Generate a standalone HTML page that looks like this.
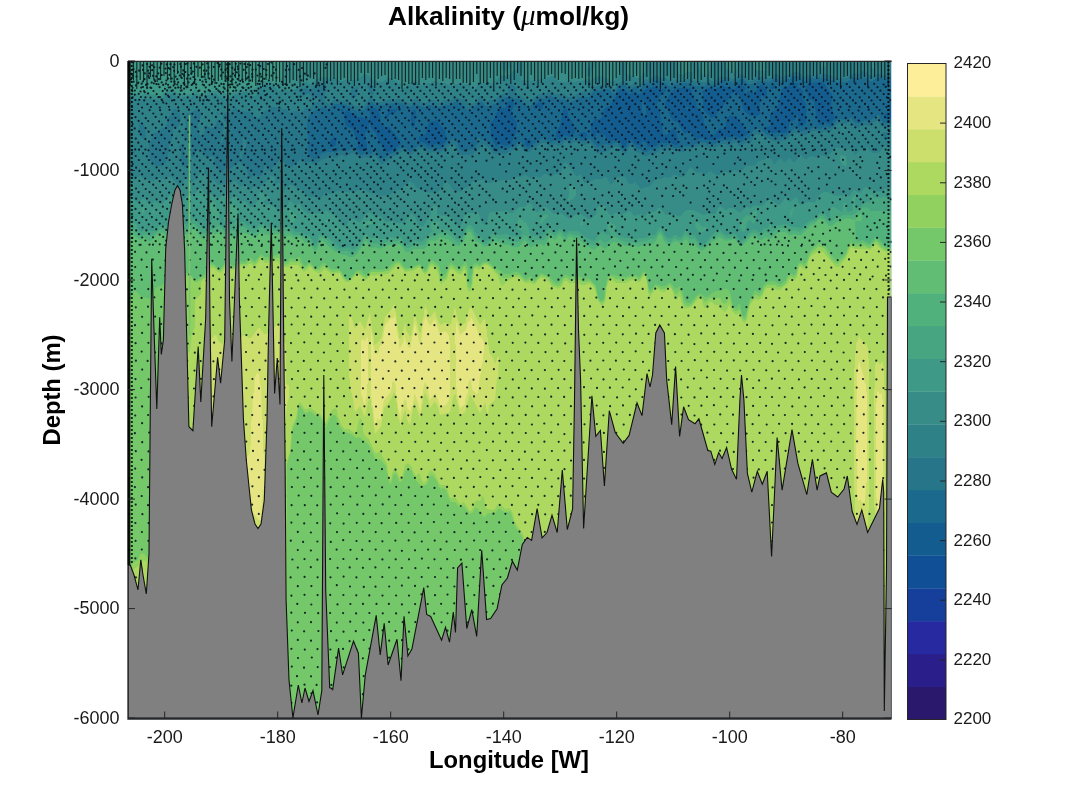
<!DOCTYPE html>
<html><head><meta charset="utf-8"><style>
html,body{margin:0;padding:0;background:#fff;}
svg{display:block;filter:blur(0.35px);}
.t{font-family:"Liberation Sans",sans-serif;font-size:18px;fill:#1a1a1a;}
.b{font-family:"Liberation Sans",sans-serif;font-size:23.8px;font-weight:bold;fill:#000;}
</style></head><body>
<svg width="1078" height="808" viewBox="0 0 1078 808">
<defs><clipPath id="pc"><rect x="128" y="61" width="763.5" height="658"/></clipPath></defs>
<g clip-path="url(#pc)">
<rect x="128" y="61" width="763.5" height="658" fill="#125c8f"/>
<path transform="translate(128 61)" fill="#1b698c" d="M505 53 505 56 506 56ZM559 45 558 48 560 49 560 46ZM514 39 514 51 517 56 518 54 518 45 516 40ZM0 0 0 657 763 657 763 57 757 58 756 57 756 54 758 52 761 54 761 44 763 41 763 0ZM397 83 397 81 399 78 401 78 404 81 401 85 399 85ZM206 75 208 78 208 83 206 86 203 86 202 85 202 81ZM450 74 452 72 457 71 460 75 457 77 454 77ZM309 58 312 64 317 69 318 80 314 84 310 84 309 83 300 84 295 81 292 81 291 80 291 76 294 73 295 74 298 73 298 70 301 61 302 60 307 60ZM287 49 288 50 288 53 287 54 287 65 285 67 283 64 283 55 284 54 284 50ZM219 49 223 52 227 53 229 56 234 56 237 58 239 58 241 60 241 68 237 72 237 79 239 82 239 88 238 89 233 90 230 88 229 86 230 85 229 77 227 75 225 69 223 67 219 66 217 63 216 53ZM212 49 215 48 216 50 214 51ZM438 47 440 51 440 55 445 62 447 71 443 76 437 74 431 79 427 75 428 74 428 71 432 65 435 49ZM268 48 269 47 270 48 269 49ZM269 50 265 53 261 54 259 58 257 57 257 55 260 52 260 48 261 47 262 48 268 48ZM244 46 250 49 252 54 253 62 257 66 261 66 271 78 273 83 267 88 259 91 251 81 248 72 243 67 241 57 242 56 242 49ZM415 43 415 46 413 49 410 47 407 48 405 46 410 42 413 41ZM385 41 386 44 384 49 384 54 389 62 388 72 383 83 378 85 372 83 368 85 363 75 362 62 367 57 368 52 374 47 377 47 379 44 379 42 381 40ZM537 41 540 37 542 31 550 27 562 27 564 29 564 35 568 39 569 47 574 51 576 62 581 72 585 75 591 68 597 67 599 57 602 54 608 56 612 60 618 70 621 72 613 77 611 77 606 74 601 77 600 76 595 76 586 79 579 79 575 77 572 77 569 79 562 71 560 71 557 73 555 71 550 61 546 60 543 57 541 51 537 45ZM551 82 549 84 546 84 542 80 540 80 538 82 535 82 533 80 533 81 528 85 522 85 520 86 518 82 514 80 512 84 509 84 507 83 504 79 502 79 499 82 498 85 496 86 491 79 487 78 484 80 481 80 478 77 477 74 473 75 471 72 469 72 467 76 465 77 463 75 463 65 466 58 472 58 474 56 477 47 482 45 483 42 487 38 489 32 493 28 497 29 501 33 503 33 505 31 508 31 509 33 512 33 518 28 525 26 529 26 531 28 537 28 538 30 532 35 529 42 529 45 532 52 535 74 540 73 542 70 546 67 549 71 549 75ZM648 25 646 28 644 28 642 26 647 24ZM639 28 639 35 637 37 636 37 634 34 633 35 633 39 632 40 632 53 629 55 622 55 616 50 612 35 607 31 604 32 601 38 596 43 595 46 590 51 587 56 583 57 575 48 575 32 574 31 576 29 581 27 588 28 594 24 598 26 602 26 605 28 607 28 611 23 613 23 618 27 616 30 617 35 620 30 626 32 630 28 630 26 633 24 636 25ZM669 22 670 23 669 26 670 27 673 27 675 30 676 40 678 43 678 48 679 50 678 51 678 60 677 63 675 65 672 65 671 66 670 65 670 54 669 54 667 59 662 61 660 69 658 72 653 72 652 71 644 72 641 71 637 67 642 65 642 54 644 51 648 49 650 45 654 28 657 25 661 26 660 24 662 22ZM682 22 695 21 698 24 699 28 704 33 703 45 707 57 702 63 696 61 692 64 690 62 686 41 685 39 682 39 680 37 679 29 677 26Z"/>
<path transform="translate(128 61)" fill="#277589" d="M0 0 0 657 763 657 763 61 762 62 756 62 753 59 751 54 749 54 743 59 740 60 737 59 732 62 728 62 723 57 721 57 718 59 711 58 709 59 702 67 697 65 693 68 691 68 687 65 682 69 677 69 676 70 672 70 667 67 657 76 654 75 645 76 638 73 632 68 628 68 625 70 621 78 617 78 614 81 611 81 608 78 605 78 602 81 597 79 586 83 580 83 577 81 571 81 563 85 556 85 552 87 546 87 543 84 540 84 538 86 532 85 527 89 521 89 519 91 516 91 512 88 509 88 504 82 502 82 497 89 495 89 490 82 486 82 483 84 476 83 469 86 462 78 458 80 453 80 447 76 442 80 437 77 432 82 427 79 422 82 416 77 410 80 401 88 398 88 395 85 394 82 391 80 387 85 383 86 378 89 375 89 374 88 366 89 357 79 353 79 351 76 350 76 349 79 350 82 345 88 334 90 331 87 329 81 326 78 324 78 313 88 309 88 308 87 301 88 295 85 290 85 282 91 276 86 271 88 268 91 262 93 256 98 252 97 247 89 246 89 243 93 237 92 234 94 232 94 227 88 223 88 219 90 211 89 207 92 206 91 198 91 197 92 194 92 188 98 186 98 182 96 180 93 180 74 179 73 179 61 181 55 187 49 189 49 194 46 200 48 206 43 215 43 221 45 226 49 229 50 230 49 236 49 242 41 244 41 247 44 257 44 258 43 273 42 280 46 282 46 286 43 295 46 298 46 301 44 305 44 308 46 312 46 317 44 322 44 326 41 330 41 334 43 340 50 342 50 352 41 354 41 357 45 361 45 367 43 373 38 379 36 384 36 387 38 391 38 397 44 401 46 411 37 418 38 422 34 427 38 438 39 440 41 443 41 453 36 461 36 467 29 473 30 476 28 480 28 482 29 485 33 487 33 489 28 493 24 497 24 502 29 506 26 512 28 517 23 523 22 528 19 537 22 541 25 544 25 547 23 554 23 555 22 562 22 567 25 577 25 580 23 588 24 593 19 607 22 611 18 615 18 620 23 626 23 631 20 642 21 648 17 652 20 654 20 658 18 661 18 666 15 670 15 676 20 678 20 682 17 688 18 691 16 693 17 698 17 701 19 704 19 708 21 711 21 712 20 714 21 719 21 726 16 732 18 738 17 741 20 744 20 749 17 754 17 757 19 763 15 763 0Z"/>
<path transform="translate(128 61)" fill="#2f8188" d="M0 0 0 657 763 657 763 65 760 67 755 66 750 60 748 60 740 65 737 64 729 67 727 67 722 61 720 61 718 63 711 62 709 63 702 71 696 70 694 72 691 72 689 70 685 70 677 74 670 72 666 72 658 79 646 80 633 74 628 73 625 76 625 78 622 83 617 82 614 85 611 85 607 81 602 85 600 85 598 83 595 83 586 87 582 87 576 84 573 84 569 86 566 86 561 89 558 89 555 91 546 90 543 88 540 88 537 90 533 88 527 93 522 93 519 95 516 95 513 92 508 91 503 85 501 86 499 91 497 93 496 93 489 85 485 86 480 90 469 92 463 82 460 82 457 84 455 84 452 82 446 81 444 83 441 83 438 80 436 81 434 85 433 84 430 85 427 83 424 86 421 86 418 82 414 82 401 91 397 91 395 89 393 84 391 84 387 89 382 90 378 93 375 93 374 92 366 93 361 87 356 83 345 93 342 94 332 94 329 91 329 88 327 84 324 83 312 92 308 92 307 91 301 92 294 88 291 88 282 95 280 94 278 91 275 90 267 95 263 96 258 101 254 103 251 101 249 96 247 94 243 97 236 96 232 98 227 93 224 92 217 96 214 94 212 94 209 97 206 97 203 95 201 95 197 98 194 98 188 103 185 103 183 101 177 102 173 98 164 106 160 106 154 99 151 99 147 105 143 108 140 109 138 106 138 104 136 105 135 112 133 115 130 115 127 113 123 117 121 116 118 107 113 103 114 94 118 86 118 79 115 75 114 87 112 93 112 100 102 108 98 107 94 111 90 108 86 102 86 96 85 95 78 96 75 93 73 87 68 90 67 95 65 97 63 95 63 83 61 79 58 81 56 79 56 72 58 67 57 54 59 52 63 52 67 49 71 50 73 52 73 55 70 64 71 72 73 76 75 75 77 67 79 65 83 67 86 67 90 58 92 60 94 60 96 62 96 67 93 76 93 82 94 82 99 67 99 63 95 58 95 54 98 51 102 52 106 47 108 47 112 50 122 51 128 57 131 57 136 50 141 49 143 46 151 46 154 48 157 48 161 51 170 50 173 52 178 46 179 47 182 47 187 41 191 41 191 38 190 36 187 38 185 38 181 32 176 35 174 34 172 31 177 26 182 30 186 26 193 24 197 24 199 26 199 29 197 32 197 40 201 43 207 38 209 38 210 39 221 40 227 45 230 45 231 44 232 45 236 45 242 36 249 41 255 41 262 38 266 40 269 38 273 38 275 40 277 40 280 42 283 42 286 38 289 38 295 42 298 42 302 39 306 39 308 41 312 42 316 39 322 40 326 37 330 37 331 38 336 38 341 43 344 43 348 41 352 35 353 35 357 40 360 40 361 39 368 38 372 34 381 31 380 30 380 24 381 23 385 24 389 28 387 31 388 34 392 34 398 39 403 39 411 33 417 34 422 29 427 33 436 33 440 36 444 36 447 35 452 31 455 31 456 30 461 31 467 25 471 25 472 24 479 24 482 25 485 28 487 28 489 24 494 20 498 20 501 24 504 24 505 23 512 24 517 19 522 18 528 14 533 17 538 17 543 21 548 19 554 20 557 18 563 18 566 20 572 20 573 21 579 21 582 19 587 21 590 17 593 15 594 16 601 16 604 18 607 18 611 14 615 13 621 20 624 20 627 17 630 16 635 16 640 18 643 17 647 13 649 13 654 16 658 14 662 14 666 11 670 11 676 16 680 14 688 15 690 13 699 13 709 17 718 17 726 12 730 13 734 10 738 11 743 15 748 13 753 13 757 15 763 10 763 0ZM53 83 56 85 56 95 58 96 62 101 58 106 56 106 53 104 53 91 51 85ZM756 71 759 72 759 76 757 78 755 77 755 72ZM12 61 15 62 17 67 17 71 18 72 18 78 17 79 15 78 11 72 11 62ZM89 53 90 52 91 53 90 54ZM88 52 89 51 90 52 89 53ZM48 48 52 53 52 56 53 57 52 63 49 66 46 66 45 68 45 75 41 85 40 97 38 101 34 105 28 105 26 104 22 99 21 82 23 80 24 74 26 72 30 71 34 67 37 67 39 62 39 57 43 54 44 50 46 48ZM230 26 231 27 229 30 228 35 225 39 223 37 223 29 225 27ZM240 24 243 24 246 27 246 33 244 35 241 31 241 28 239 25Z"/>
<path transform="translate(128 61)" fill="#388c87" d="M283 113 282 113 282 118 283 117ZM763 88 761 88 757 85 752 91 750 92 744 92 739 87 736 87 732 89 727 94 723 88 716 89 714 87 707 87 703 92 698 96 691 94 687 96 683 95 679 98 677 98 673 94 671 94 669 99 667 101 665 101 663 98 661 97 657 102 653 98 651 98 647 103 646 103 643 98 640 96 636 99 631 100 626 105 618 105 612 112 608 109 606 109 602 113 599 111 595 111 591 114 588 114 582 110 577 114 572 111 568 112 565 108 562 106 556 116 551 116 548 114 545 114 542 117 537 116 534 118 528 118 521 126 517 126 513 128 507 121 504 123 501 123 497 116 491 116 490 115 484 123 482 123 479 117 477 116 474 118 468 118 457 122 455 120 453 114 452 113 450 115 448 115 438 101 436 102 433 111 431 113 427 113 423 116 418 113 416 113 412 117 408 115 402 117 398 114 396 114 393 116 388 116 383 119 373 119 372 120 367 120 363 122 359 122 355 119 351 119 350 120 345 120 340 126 337 127 333 131 325 129 319 120 316 122 316 124 309 132 297 131 288 126 286 123 282 120 272 129 268 129 262 134 251 135 249 133 242 132 237 129 232 128 226 131 209 130 203 133 197 132 192 138 190 138 187 136 181 136 172 128 168 127 164 124 162 124 159 126 156 130 153 127 152 122 150 122 146 126 144 124 147 120 147 117 145 115 143 115 140 119 131 127 126 126 123 129 120 128 117 122 112 126 108 120 106 120 102 124 98 124 97 123 90 124 86 119 82 118 76 112 76 108 74 108 74 112 72 113 65 121 61 120 59 117 57 117 54 124 52 126 43 116 40 116 37 119 31 117 26 120 24 120 23 119 17 119 12 115 7 119 4 116 0 115 0 657 763 657ZM713 66 715 69 717 69 719 67 719 66 716 68ZM743 0 743 7 746 8 747 7 747 0ZM693 0 692 5 697 6 698 5 698 0ZM626 0 626 8 627 9 639 10 638 0ZM598 0 598 7 605 12 609 8 610 0ZM570 0 570 4 572 8 572 11 575 14 579 14 582 9 583 0ZM550 0 550 10 552 14 554 14 559 11 565 11 563 0ZM499 0 500 3 499 4 499 8 497 11 502 15 506 15 508 17 511 17 517 11 517 0ZM393 19 408 20 412 18 418 18 423 15 425 15 431 21 438 21 442 19 445 21 448 21 449 20 454 20 458 18 463 19 470 15 473 15 484 20 486 20 492 14 492 11 491 10 491 0 467 0 467 5 463 10 463 13 461 16 459 14 459 8 462 5 462 0 395 0 395 9 394 10ZM0 37 4 37 5 38 28 38 32 40 37 35 43 33 46 33 51 37 54 37 55 36 62 37 66 33 68 33 71 37 73 38 80 34 83 34 84 33 88 33 93 37 96 36 102 37 107 33 111 34 115 31 119 31 123 35 127 35 129 33 131 28 134 25 137 24 145 25 151 30 155 30 156 29 164 30 169 27 175 21 179 21 181 23 183 23 191 17 198 16 201 18 203 18 207 16 213 21 216 19 227 19 230 18 236 13 241 15 245 19 251 21 254 21 261 17 263 17 275 25 273 28 273 31 274 32 275 27 278 26 280 23 284 20 289 20 294 25 297 22 303 22 306 20 308 20 311 22 317 22 322 25 327 23 340 23 345 29 347 29 348 26 352 22 360 22 361 21 365 23 373 14 376 15 382 14 385 10 390 8 390 0 382 0 382 6 378 10 376 10 374 8 374 0 0 0Z"/>
<path transform="translate(128 61)" fill="#3e9986" d="M763 127 762 128 757 128 754 130 748 131 738 126 736 127 732 132 726 129 721 135 718 134 707 135 700 131 696 131 692 133 687 141 685 142 684 141 679 141 673 144 670 141 670 139 668 136 662 141 657 137 652 144 650 144 643 139 640 139 634 145 627 144 622 147 618 145 612 152 605 147 601 147 599 149 597 149 593 145 590 147 587 153 579 153 576 154 565 149 559 149 557 150 552 156 548 154 538 154 532 147 530 147 527 151 525 151 522 149 517 155 513 153 506 155 503 151 501 150 494 154 492 154 490 152 487 152 485 154 482 154 480 152 477 145 471 145 469 148 468 153 463 158 460 158 453 153 448 153 444 157 441 158 433 152 426 153 418 146 415 146 410 151 408 151 406 149 404 144 401 142 397 146 392 146 390 147 385 152 382 152 379 150 363 151 361 153 359 161 357 164 354 162 350 151 347 152 338 152 335 157 334 162 331 166 328 164 326 159 324 157 319 155 310 154 309 153 309 147 307 144 303 147 303 154 295 165 292 165 290 163 287 156 283 152 280 157 276 161 274 162 267 162 264 160 257 161 253 155 247 156 241 151 242 149 241 148 241 151 236 155 235 158 232 161 230 161 227 158 223 158 220 161 219 164 216 166 213 163 212 159 208 154 204 153 198 149 193 153 190 152 180 153 175 149 172 143 170 143 167 145 163 140 161 141 160 144 154 150 152 150 141 143 138 144 135 141 142 135 138 135 134 131 132 131 130 133 131 138 125 146 122 146 117 140 112 140 107 134 106 134 103 138 101 138 97 134 95 134 90 138 83 133 78 134 73 128 71 128 66 134 59 135 54 141 52 141 46 133 43 133 34 143 32 143 27 140 22 144 17 138 14 138 11 141 9 141 0 135 0 657 763 657ZM443 124 441 125 441 135 439 141 445 138 448 134 448 127ZM2 122 0 122 0 133 1 133 2 130 4 129 6 126 5 124ZM396 121 396 123 397 123 397 121ZM713 94 712 95 712 100 716 105 718 105 719 103 718 95ZM0 31 2 31 5 33 11 33 12 34 15 33 27 34 30 36 32 36 37 31 41 29 45 29 51 33 62 33 66 29 68 29 72 33 75 33 80 30 89 30 92 32 98 32 101 34 106 30 112 29 118 25 124 28 126 28 133 20 145 20 150 23 154 15 154 0 137 0 137 6 134 10 132 9 131 0 0 0Z"/>
<path transform="translate(128 61)" fill="#47a582" d="M207 164 207 168 210 171 214 172ZM453 160 453 165 454 165 455 162ZM235 166 241 163 249 163 253 165 253 164 251 162 250 163 246 163 242 160 240 160 236 163ZM568 159 567 165 571 171 575 171 578 168 579 164 577 166 574 166ZM196 159 198 161 201 160 201 159ZM418 153 415 155 412 160 413 164 415 160 420 155ZM628 150 626 150 621 155 618 154 612 161 612 166 614 170 616 171 617 170 619 162 621 159 622 159 625 163 626 162 629 153ZM162 149 161 150 162 160 163 161 166 161 169 155ZM26 149 25 150 25 153 26 153ZM666 147 664 148 662 152 662 156 663 156ZM16 146 14 148 14 152 15 153 17 148ZM44 141 43 144 46 145 47 141ZM71 135 71 136 74 138 73 136ZM763 138 761 139 758 136 747 137 741 132 742 140 736 142 732 146 727 146 726 145 727 144 727 137 728 136 727 134 724 137 724 145 725 146 725 149 724 150 720 151 719 150 718 142 716 142 715 144 715 150 714 151 706 146 704 146 702 149 702 156 701 157 696 152 692 152 686 158 682 159 673 167 661 165 659 163 650 164 644 167 643 166 643 163 642 163 640 167 636 167 633 171 631 171 627 168 624 169 613 180 607 173 598 174 591 168 585 173 576 183 572 183 568 176 566 174 563 174 559 170 557 170 553 176 550 176 548 174 546 174 543 177 540 177 536 173 533 167 531 167 527 174 522 174 518 177 511 177 507 179 503 177 497 177 491 175 487 171 488 170 488 166 487 164 481 161 479 167 483 173 482 174 479 174 474 170 466 180 457 176 450 170 441 170 437 172 433 168 431 168 428 171 426 171 421 167 419 168 416 173 413 175 404 175 401 172 401 167 398 162 393 158 391 158 390 160 390 168 395 171 391 176 388 176 387 175 385 176 378 173 371 174 365 172 363 173 358 180 356 180 352 175 347 171 345 166 343 164 340 164 338 166 335 174 331 178 329 178 321 169 317 169 316 168 311 168 310 169 309 167 312 161 305 161 303 162 302 166 303 168 306 170 303 171 299 176 293 181 286 179 284 181 279 183 276 181 273 176 268 176 267 177 262 176 258 178 250 178 249 177 243 177 238 173 235 176 231 183 226 188 224 188 222 186 212 187 200 176 198 176 194 173 191 174 189 181 187 183 181 174 178 174 173 171 168 171 161 166 149 167 148 166 140 166 134 163 132 163 128 167 124 168 122 164 120 165 116 161 110 161 109 160 110 159 110 149 109 146 105 144 101 144 96 157 96 160 98 160 101 158 108 160 98 167 95 165 91 159 91 153 88 146 88 143 84 140 82 140 81 146 85 157 83 160 83 163 78 168 76 168 67 158 65 158 59 163 52 162 47 168 41 165 33 164 31 165 27 170 16 169 13 171 9 168 9 164 7 162 0 159 0 657 763 657ZM741 141 742 140 743 141 742 142ZM37 27 35 26 33 30ZM105 20 104 20 102 24 102 28 103 29 105 27ZM42 14 41 17 42 17ZM78 0 72 0 72 12 74 15 77 11Z"/>
<path transform="translate(128 61)" fill="#50b17c" d="M763 151 761 150 743 150 740 147 736 146 725 154 715 154 712 156 708 156 703 161 701 161 695 155 692 155 687 160 683 161 672 171 666 169 665 170 662 170 658 167 653 167 648 169 643 173 637 171 633 175 631 175 628 172 624 172 613 183 609 179 607 175 605 175 602 177 598 177 591 172 587 176 584 177 576 186 572 186 567 178 562 178 558 174 557 174 553 179 550 179 547 177 545 178 543 181 541 181 537 178 533 170 530 172 529 175 526 178 522 178 519 180 511 181 510 182 497 181 490 178 488 176 486 176 477 182 472 178 467 184 465 184 457 180 450 174 446 174 442 172 437 176 433 171 431 171 427 175 423 172 421 172 416 179 406 179 403 181 400 178 399 175 397 174 391 181 384 181 377 178 371 178 366 176 364 177 359 183 356 183 346 174 345 170 341 167 339 168 334 179 330 182 320 173 316 173 315 172 311 172 307 175 301 176 296 184 286 184 281 187 278 187 272 179 269 180 261 180 254 183 250 183 249 182 243 182 239 177 237 177 230 188 226 192 223 192 220 190 212 190 208 188 199 179 194 176 191 178 190 183 187 187 181 177 178 178 173 174 166 174 161 170 148 170 147 169 146 170 139 170 134 167 132 167 127 172 124 172 116 166 112 166 107 170 102 169 99 171 97 171 92 165 90 165 86 168 81 169 76 173 72 170 67 163 64 163 59 168 56 168 52 166 47 172 45 172 40 169 32 168 28 172 23 175 21 175 18 173 12 175 4 167 0 167 0 657 763 657Z"/>
<path transform="translate(128 61)" fill="#61bd73" d="M759 156 760 158 763 160 763 156ZM763 184 762 185 757 184 749 176 747 176 742 182 740 182 735 179 730 180 728 178 727 161 728 160 733 160 734 158 733 152 727 159 718 157 711 161 708 161 704 165 701 165 695 158 691 158 686 163 683 164 673 174 669 174 668 173 661 174 658 171 652 171 642 178 637 176 634 179 631 179 627 175 624 175 614 185 612 185 607 178 598 180 591 176 588 179 583 181 581 184 574 190 569 186 567 182 562 183 558 178 553 182 547 180 541 185 536 180 534 175 532 173 530 175 528 180 525 183 518 183 511 186 508 185 497 185 493 182 485 181 477 188 472 184 466 189 456 183 450 178 447 178 442 175 438 179 436 179 432 174 431 174 427 179 422 176 416 185 413 183 408 183 404 186 402 186 398 180 396 180 391 186 384 186 381 184 374 183 371 181 366 180 361 185 356 186 352 182 347 180 343 171 340 171 335 181 331 185 326 184 320 178 317 178 312 176 307 180 302 179 299 185 296 188 286 188 281 191 278 191 272 183 260 184 251 188 248 186 243 187 240 184 239 181 237 180 229 193 225 196 221 196 218 194 212 193 206 190 195 180 192 180 189 189 186 190 182 181 177 182 172 176 167 178 162 174 157 176 153 173 138 174 135 172 132 172 127 177 122 174 116 172 112 172 108 177 106 177 102 174 97 175 92 171 90 171 88 173 82 172 77 177 74 177 70 173 68 169 65 168 63 171 60 173 56 173 54 171 51 171 51 172 46 176 42 174 38 174 35 172 32 172 28 174 22 181 17 177 15 177 12 179 6 174 0 174 0 657 763 657Z"/>
<path transform="translate(128 61)" fill="#74c869" d="M763 187 758 187 756 186 748 178 743 184 739 184 736 182 726 183 723 181 721 183 718 192 714 196 708 199 703 194 699 187 695 183 691 182 683 189 680 195 679 200 676 203 674 201 671 202 669 206 668 212 666 214 662 212 660 214 658 219 653 223 651 223 646 220 639 221 635 225 634 229 631 232 627 229 621 240 619 251 616 256 614 253 612 243 611 243 608 247 606 246 604 242 603 234 600 228 596 228 594 230 587 230 579 236 577 236 572 232 570 233 562 242 559 242 556 238 555 232 552 225 547 228 543 222 541 222 537 225 533 225 527 223 525 227 522 229 520 224 519 214 517 210 515 211 512 216 510 216 508 214 502 214 499 216 494 216 493 215 489 215 483 213 479 218 478 225 477 226 476 237 475 239 473 240 470 236 468 225 461 217 456 218 453 216 442 216 439 214 437 214 430 222 428 222 423 218 421 214 417 214 413 212 407 219 402 215 398 218 390 211 387 211 382 213 376 213 372 209 367 207 360 201 355 201 352 204 347 202 345 204 344 214 343 215 343 221 342 222 340 221 340 207 338 201 337 201 332 207 330 207 324 202 322 202 320 205 319 210 316 214 313 211 311 204 304 199 302 200 299 207 297 209 292 203 280 207 277 207 272 200 268 200 259 207 253 209 244 208 237 214 233 209 230 209 228 210 221 218 219 218 216 216 215 213 211 208 203 208 197 202 195 202 191 206 188 207 186 206 182 201 177 205 174 202 172 196 170 196 168 198 162 197 159 201 156 201 151 193 142 196 137 196 133 193 127 200 122 196 117 201 114 201 113 200 106 205 100 202 97 202 93 207 90 207 86 203 82 202 77 213 68 219 65 217 62 212 58 212 50 220 47 221 43 225 40 225 36 222 33 225 29 226 27 228 24 235 21 238 14 236 8 230 6 230 3 237 2 243 0 245 0 657 763 657Z"/>
<path transform="translate(128 61)" fill="#91d160" d="M763 189 758 189 753 186 749 181 747 181 742 187 740 187 737 185 727 186 725 184 722 184 717 196 709 203 704 199 697 188 694 186 690 186 683 192 677 206 673 203 671 204 669 213 666 217 662 215 660 217 658 222 653 226 650 226 647 224 639 224 636 227 634 233 631 236 629 234 627 234 622 241 619 251 619 255 617 259 614 257 612 248 609 250 607 250 605 248 601 235 599 241 597 243 594 241 592 237 589 237 588 238 582 237 577 241 573 235 570 235 564 243 561 245 558 245 555 241 555 238 552 230 551 230 548 234 542 224 537 228 533 228 528 225 525 228 525 230 522 232 520 228 520 223 519 222 518 214 516 212 511 219 507 216 501 217 498 219 487 218 485 216 482 216 479 221 479 224 478 225 477 238 474 242 471 240 469 235 468 228 466 224 462 220 455 221 452 219 441 219 439 217 436 217 433 223 431 225 426 224 422 220 421 217 413 214 407 221 405 221 402 218 399 220 397 220 391 214 385 214 380 217 375 217 362 204 358 202 355 203 352 206 349 205 346 206 345 208 345 213 344 214 344 223 342 227 340 226 340 223 339 222 339 210 337 205 336 205 333 210 330 210 324 205 322 205 318 216 316 218 314 218 312 216 310 207 304 202 302 203 298 211 296 211 292 205 290 205 284 208 277 209 271 202 269 202 260 210 257 210 256 211 243 211 238 217 230 211 228 212 222 219 219 220 215 216 212 210 204 211 197 205 195 205 191 209 188 209 186 208 182 203 176 208 171 200 169 201 164 201 163 200 160 203 156 204 151 197 146 197 141 199 137 199 134 196 132 196 127 203 122 199 118 203 111 203 106 207 104 207 98 204 96 205 92 210 86 205 83 204 81 206 81 208 77 216 69 221 67 221 62 215 59 215 51 223 48 224 44 228 44 237 42 242 42 259 41 260 41 281 42 284 40 289 40 428 42 431 42 490 36 503 34 505 31 505 26 499 22 499 16 493 13 492 10 499 5 502 2 507 0 508 0 657 159 657 159 403 163 389 164 370 169 357 170 348 172 344 177 352 179 352 182 350 188 355 191 355 193 357 197 366 198 366 202 357 205 354 207 354 209 357 210 362 215 370 223 373 228 377 232 376 234 379 236 379 241 384 247 397 249 399 252 398 258 405 259 412 260 413 260 418 262 423 263 423 265 414 267 412 269 414 271 421 273 421 275 418 277 410 281 407 284 410 286 417 293 425 298 424 300 421 301 416 304 414 309 420 311 426 313 428 316 427 318 429 322 440 323 441 327 441 331 446 336 445 342 453 345 451 347 447 349 447 356 456 357 456 360 452 367 452 371 447 376 451 380 451 381 450 383 452 387 465 394 475 397 484 397 657 763 657Z"/>
<path transform="translate(128 61)" fill="#aed961" d="M763 191 762 192 761 191 758 191 754 189 749 184 747 184 742 189 739 188 727 188 723 186 718 197 711 206 708 206 695 191 691 190 683 195 680 201 680 204 677 209 672 205 670 209 669 216 666 220 662 218 659 223 652 229 649 229 645 227 639 227 637 229 634 236 631 239 628 238 626 239 622 244 619 258 617 262 614 260 613 255 611 252 608 254 604 250 602 244 600 245 600 247 597 251 593 248 591 244 587 244 584 241 582 241 580 243 580 245 577 247 575 244 574 239 571 237 563 246 557 248 555 246 552 236 551 235 549 239 546 237 545 231 543 227 540 227 537 231 534 231 529 228 527 228 522 236 520 232 519 221 517 215 515 216 512 221 510 221 508 219 504 219 497 222 488 222 483 218 481 220 479 225 477 241 475 244 473 244 469 238 469 235 466 226 461 222 457 224 453 224 449 222 444 222 442 223 439 220 436 220 434 225 430 228 427 226 424 226 421 221 416 217 412 217 407 223 405 223 402 221 401 222 397 222 392 217 387 216 381 219 374 225 372 222 370 215 364 208 359 204 356 204 351 209 348 207 346 209 344 227 342 231 340 230 339 227 337 209 336 209 333 213 330 213 326 209 322 208 319 218 313 223 311 220 311 216 309 209 304 205 302 206 300 211 297 214 292 207 290 207 285 210 277 211 274 207 270 204 260 213 248 214 247 215 243 214 237 220 232 214 228 214 221 221 218 221 215 218 212 212 203 213 197 208 192 212 190 212 186 210 183 206 181 206 180 208 176 211 170 204 163 204 160 206 154 206 149 200 137 202 134 199 132 199 127 206 123 203 121 203 118 206 112 205 106 209 97 207 93 212 90 211 86 207 83 207 81 209 81 211 78 217 73 221 73 233 67 239 67 266 64 273 62 290 59 293 59 417 62 414 66 414 67 415 67 493 66 494 62 491 57 494 53 488 51 487 48 495 46 497 43 497 39 505 34 510 30 509 26 504 23 504 18 500 15 499 12 504 6 508 4 514 0 517 0 657 142 657 142 486 145 477 145 473 146 472 146 468 147 467 147 463 148 462 148 458 150 452 151 438 156 421 158 403 162 390 164 365 168 357 170 344 172 341 177 348 183 347 189 352 191 352 194 355 197 361 198 361 204 349 207 347 209 349 210 355 214 365 217 368 221 368 226 372 227 372 229 369 230 361 232 357 234 359 235 370 237 375 241 378 246 390 248 392 252 391 259 403 260 413 262 419 263 419 264 412 267 406 272 418 274 416 277 404 280 402 284 406 285 410 288 415 291 412 292 413 294 420 296 422 299 419 300 413 303 409 307 413 311 422 313 424 317 424 319 426 322 436 323 437 327 436 332 443 336 441 342 450 344 449 347 441 349 439 352 440 354 435 356 436 357 444 359 448 365 449 367 448 369 444 372 442 377 448 381 447 384 450 387 461 395 473 400 490 405 498 407 505 410 508 412 508 418 511 422 515 424 515 427 517 427 657 763 657Z"/>
<path transform="translate(128 61)" fill="#ccdf6d" d="M749 299 747 305 747 327 746 328 746 446 747 447 747 470 748 471 748 479 752 491 755 482 755 474 756 473 756 451 757 450 757 325 756 324 756 306 755 305 755 301 754 301 752 304ZM732 274 728 283 728 289 727 290 727 307 726 308 726 433 727 434 727 460 728 461 728 467 729 468 729 471 730 471 732 468 733 469 733 471 737 478 739 471 739 465 740 464 740 449 741 448 741 298 740 297 740 287 739 286 739 283 737 284 732 277ZM150 262 146 267 144 267 139 273 136 273 131 266 123 277 121 277 116 274 110 279 108 283 105 281 105 279 102 275 101 275 94 283 91 281 88 274 87 274 81 281 79 280 79 401 82 402 94 413 97 420 103 419 110 428 110 514 112 514 114 516 118 527 123 532 124 537 128 542 131 540 133 536 134 525 135 524 135 520 136 519 138 506 139 505 140 487 141 486 142 477 145 468 145 410 147 408 149 401 151 382 157 367 159 343 161 336 161 324 158 323 158 283 154 277 152 265ZM222 253 221 256 221 317 222 318 222 325 223 326 223 331 224 332 227 351 232 345 237 356 240 341 242 338 243 339 243 346 244 347 247 373 253 365 256 347 262 340 266 331 268 335 268 341 269 342 270 355 272 362 272 368 273 361 277 349 278 350 279 358 282 364 285 347 287 342 291 354 292 361 292 356 293 355 293 350 294 349 294 344 295 343 295 338 297 331 300 338 302 347 307 340 310 346 312 354 322 351 325 336 327 333 328 334 328 338 329 339 329 343 330 344 332 355 337 351 342 333 352 352 357 342 358 343 358 347 360 354 361 344 367 339 369 317 370 316 371 295 369 297 368 301 367 302 366 301 366 299 361 291 361 285 360 284 360 277 359 276 359 269 358 268 357 257 352 264 344 248 342 246 338 258 338 261 332 266 331 265 331 261 330 260 327 246 323 263 322 264 319 262 317 262 312 264 308 255 307 250 302 257 301 256 297 243 297 248 296 249 296 254 294 260 293 271 292 272 291 271 287 252 283 275 282 276 278 269 277 261 275 271 272 278 271 277 271 271 270 270 268 251 267 250 267 245 266 243 263 249 257 256 254 275 251 280 247 284 246 283 246 277 244 270 242 251 237 269 232 260 227 267 226 266 224 257Z"/>
<path transform="translate(128 61)" fill="#e5e681" d="M750 330 749 331 749 341 748 342 748 437 749 438 749 452 750 453 750 458 752 462 754 455 754 445 755 444 755 339 754 338 754 332 752 333ZM129 312 127 316 126 332 125 333 124 359 123 360 123 384 122 385 122 392 119 396 119 413 120 414 120 433 121 432 123 435 125 452 131 459 133 459 135 429 136 428 136 393 135 392 135 359 134 358 133 325 132 324 131 313ZM732 300 730 304 730 309 729 310 728 401 729 402 729 436 730 437 730 440 731 440 732 438 734 441 736 442 737 441 738 422 739 421 739 332 738 331 738 324 736 320 736 316 732 304ZM239 272 238 279 237 280 234 278 233 280 233 332 237 346 238 337 239 336 239 323 240 322 240 277 239 276ZM343 256 342 260 340 261 338 269 332 274 328 260 328 272 327 273 327 283 328 284 328 327 329 328 329 334 330 335 332 347 337 343 337 340 340 331 340 323 342 318 343 319 344 328 349 333 350 332 352 314 353 313 353 307 355 300 355 293 356 292 356 282 354 277 351 276 349 268ZM297 253 297 258 295 264 293 281 292 282 291 281 287 261 285 274 284 275 284 280 283 281 283 286 281 287 279 284 277 277 277 273 275 282 272 287 271 286 271 279 269 272 267 254 265 258 263 257 257 264 254 283 251 287 251 291 249 294 248 292 247 293 246 292 246 286 245 285 243 267 243 336 244 337 244 344 245 345 247 366 249 358 250 357 251 360 253 357 256 339 262 332 264 326 264 322 266 319 268 326 268 333 269 334 270 347 272 354 272 360 273 350 277 337 279 342 279 346 282 350 282 353 283 347 285 343 286 334 287 333 291 345 292 352 294 334 295 333 295 328 297 321 299 325 302 339 307 332 311 341 312 346 318 344 321 339 321 335 322 334 322 280 321 279 321 275 318 270 313 272 311 271 307 258 302 265 297 255Z"/>
<path d="M130.0 61v22M133.4 61v19M136.8 61v28M140.2 61v19M143.6 61v20M147.0 61v26M150.4 61v16M153.8 61v18M157.2 61v21M160.6 61v19M164.0 61v15M167.4 61v19M170.8 61v19M174.2 61v22M177.6 61v13M181.0 61v17M184.4 61v25M187.8 61v27M191.2 61v14M194.6 61v23M198.0 61v16M201.4 61v17M204.8 61v17M208.2 61v18M211.6 61v24M215.0 61v23M218.4 61v20M221.8 61v19M225.2 61v20M228.6 61v20M232.0 61v23M235.4 61v17M238.8 61v20M242.2 61v20M245.6 61v20M249.0 61v21M252.4 61v21M255.8 61v25M259.2 61v20M262.6 61v26M266.0 61v19M269.4 61v18M272.8 61v20M276.2 61v21M279.6 61v21M283.0 61v25M286.4 61v25M289.8 61v22M293.2 61v19M296.6 61v20M300.0 61v26M303.4 61v21M306.8 61v15M310.2 61v17M313.6 61v18M317.0 61v25M320.4 61v20M323.8 61v28M327.2 61v23M330.6 61v20M334.0 61v18M337.4 61v24M340.8 61v19M344.2 61v17M347.6 61v22M351.0 61v20M354.4 61v25M357.8 61v20M361.2 61v12M364.6 61v23M368.0 61v12M371.4 61v26M374.8 61v27M378.2 61v18M381.6 61v15M385.0 61v14M388.4 61v23M391.8 61v19M395.2 61v18M398.6 61v19M402.0 61v28M405.4 61v21M408.8 61v23M412.2 61v23M415.6 61v24M419.0 61v24M422.4 61v17M425.8 61v19M429.2 61v17M432.6 61v17M436.0 61v25M439.4 61v18M442.8 61v20M446.2 61v17M449.6 61v18M453.0 61v23M456.4 61v18M459.8 61v18M463.2 61v22M466.6 61v22M470.0 61v23M473.4 61v21M476.8 61v13M480.2 61v23M483.6 61v22M487.0 61v24M490.4 61v17M493.8 61v28M497.2 61v15M500.6 61v23M504.0 61v20M507.4 61v18M510.8 61v23M514.2 61v19M517.6 61v12M521.0 61v15M524.4 61v22M527.8 61v28M531.2 61v14M534.6 61v20M538.0 61v26M541.4 61v22M544.8 61v18M548.2 61v14M551.6 61v13M555.0 61v17M558.4 61v19M561.8 61v12M565.2 61v13M568.6 61v21M572.0 61v18M575.4 61v17M578.8 61v18M582.2 61v17M585.6 61v24M589.0 61v27M592.4 61v28M595.8 61v23M599.2 61v23M602.6 61v26M606.0 61v27M609.4 61v26M612.8 61v25M616.2 61v17M619.6 61v14M623.0 61v24M626.4 61v20M629.8 61v20M633.2 61v16M636.6 61v15M640.0 61v26M643.4 61v22M646.8 61v16M650.2 61v22M653.6 61v21M657.0 61v22M660.4 61v28M663.8 61v20M667.2 61v15M670.6 61v20M674.0 61v17M677.4 61v22M680.8 61v21M684.2 61v21M687.6 61v18M691.0 61v22M694.4 61v18M697.8 61v22M701.2 61v19M704.6 61v16M708.0 61v22M711.4 61v17M714.8 61v26M718.2 61v22M721.6 61v22M725.0 61v20M728.4 61v20M731.8 61v12M735.2 61v25M738.6 61v17M742.0 61v24M745.4 61v17M748.8 61v19M752.2 61v19M755.6 61v16M759.0 61v19M762.4 61v22M765.8 61v18M769.2 61v15M772.6 61v18M776.0 61v21M779.4 61v25M782.8 61v23M786.2 61v21M789.6 61v16M793.0 61v24M796.4 61v20M799.8 61v19M803.2 61v24M806.6 61v22M810.0 61v22M813.4 61v15M816.8 61v18M820.2 61v13M823.6 61v21M827.0 61v20M830.4 61v24M833.8 61v21M837.2 61v19M840.6 61v28M844.0 61v16M847.4 61v15M850.8 61v18M854.2 61v22M857.6 61v19M861.0 61v18M864.4 61v16M867.8 61v26M871.2 61v18M874.6 61v16M878.0 61v20M881.4 61v17M884.8 61v19M888.2 61v25" stroke="#000" stroke-width="1.1" fill="none" opacity="0.75"/>
<path d="M129.5 83.9h0M138.1 83.2h0M147.4 83.9h0M156.4 84.1h0M165.9 83.7h0M174.7 83.9h0M184.4 84.2h0M193.0 83.7h0M202.8 84.5h0M211.8 83.8h0M221.3 83.9h0M230.4 84.5h0M239.6 84.0h0M248.8 83.8h0M257.7 83.8h0M266.9 83.9h0M276.1 83.9h0M285.4 84.0h0M294.7 84.4h0M303.3 84.4h0M312.9 83.6h0M322.1 84.0h0M331.7 83.7h0M340.7 84.0h0M349.3 83.6h0M359.2 84.2h0M368.5 84.2h0M377.5 84.0h0M387.0 83.7h0M395.8 84.1h0M404.5 84.4h0M414.0 84.0h0M424.0 83.8h0M432.4 84.5h0M441.5 83.9h0M451.2 84.1h0M460.4 84.1h0M469.8 84.3h0M478.8 83.8h0M487.6 83.4h0M497.2 83.5h0M506.5 84.6h0M515.1 83.8h0M524.5 84.2h0M533.5 84.0h0M542.8 83.9h0M552.6 83.7h0M561.4 84.1h0M570.9 83.6h0M580.1 84.1h0M589.3 84.0h0M597.7 83.8h0M607.6 84.0h0M616.6 84.5h0M626.5 84.0h0M635.6 83.4h0M643.6 84.3h0M653.3 84.2h0M662.8 84.0h0M672.0 84.0h0M680.5 84.1h0M690.3 84.5h0M699.1 84.0h0M708.5 84.0h0M718.3 84.1h0M726.9 84.0h0M736.4 83.7h0M745.3 84.5h0M754.9 84.0h0M763.7 84.0h0M772.5 84.3h0M782.3 84.0h0M791.0 83.8h0M800.8 84.1h0M809.7 84.2h0M819.3 83.8h0M828.0 83.7h0M837.1 84.2h0M846.8 84.1h0M855.4 83.7h0M865.0 83.9h0M874.2 83.8h0M883.6 84.5h0M132.6 87.8h0M141.3 87.6h0M150.4 87.6h0M159.6 87.2h0M168.7 87.5h0M178.2 87.4h0M187.0 87.3h0M196.1 87.7h0M205.7 87.4h0M214.9 86.8h0M223.7 87.3h0M233.7 87.0h0M242.3 87.3h0M251.2 86.8h0M260.8 87.3h0M270.0 87.8h0M279.3 87.4h0M289.0 87.8h0M297.2 87.2h0M307.2 86.9h0M315.8 86.9h0M324.9 87.0h0M334.6 87.7h0M344.2 87.3h0M352.3 87.3h0M362.0 87.4h0M371.3 86.8h0M380.6 86.7h0M389.5 87.4h0M399.0 87.8h0M407.4 87.4h0M417.5 87.2h0M426.7 87.0h0M435.9 87.5h0M444.6 87.1h0M454.0 87.1h0M463.6 87.4h0M472.9 87.7h0M481.7 87.2h0M490.6 87.1h0M499.9 87.4h0M509.0 87.3h0M518.6 87.2h0M527.6 87.7h0M537.4 87.1h0M546.0 87.2h0M555.2 87.8h0M564.7 87.7h0M574.2 87.2h0M582.8 87.3h0M592.4 87.3h0M601.5 87.7h0M610.8 87.4h0M619.5 86.8h0M629.2 87.4h0M637.8 87.1h0M647.2 86.8h0M656.6 87.1h0M665.6 87.5h0M674.9 87.5h0M684.2 87.3h0M693.3 87.9h0M702.4 87.8h0M711.4 87.5h0M721.0 87.1h0M729.3 87.8h0M739.0 87.0h0M748.5 87.3h0M757.8 87.2h0M766.5 87.6h0M775.8 87.4h0M785.5 87.7h0M794.4 87.2h0M803.6 86.7h0M812.7 87.0h0M821.8 87.4h0M831.2 87.8h0M840.9 86.7h0M849.7 87.0h0M859.1 87.3h0M868.4 87.4h0M877.5 87.2h0M885.7 86.9h0M134.9 90.5h0M144.1 91.1h0M153.5 91.0h0M162.7 91.1h0M171.6 90.8h0M180.8 90.7h0M190.9 90.1h0M199.3 90.7h0M208.7 90.2h0M218.3 90.6h0M227.6 90.7h0M236.1 90.5h0M246.0 90.2h0M254.7 90.8h0M264.3 90.8h0M272.8 91.2h0M282.4 90.6h0M291.6 90.5h0M300.5 90.5h0M310.4 90.2h0M318.5 90.8h0M328.5 90.8h0M338.1 90.4h0M346.9 90.8h0M356.4 90.9h0M364.9 90.2h0M374.3 90.1h0M383.9 90.5h0M392.7 90.3h0M402.5 90.7h0M411.1 90.8h0M420.4 90.8h0M430.0 90.5h0M439.0 90.7h0M448.3 90.8h0M457.2 90.4h0M466.5 90.3h0M475.8 90.6h0M485.0 90.4h0M493.8 90.3h0M503.5 90.5h0M512.3 90.1h0M521.6 89.6h0M531.2 90.5h0M540.0 90.2h0M548.9 90.8h0M558.3 90.7h0M568.0 90.8h0M576.2 90.3h0M585.7 90.3h0M594.6 90.0h0M604.2 90.4h0M613.8 90.5h0M623.2 90.1h0M631.6 90.7h0M641.1 90.3h0M650.6 90.9h0M660.0 90.5h0M668.8 90.7h0M678.0 90.9h0M687.1 90.7h0M695.7 90.8h0M706.1 90.6h0M715.1 90.1h0M723.9 90.1h0M733.3 90.8h0M742.0 90.3h0M751.4 91.3h0M760.8 90.6h0M770.1 90.7h0M779.1 90.2h0M788.2 91.1h0M797.7 90.5h0M806.4 90.6h0M816.0 90.4h0M825.5 90.4h0M834.3 90.9h0M843.7 90.9h0M852.7 90.5h0M862.1 90.7h0M871.6 90.7h0M880.4 90.7h0M889.8 90.3h0M129.1 93.8h0M138.7 93.8h0M147.8 93.5h0M156.7 94.2h0M165.8 94.2h0M174.5 93.9h0M184.3 93.9h0M193.0 94.1h0M202.0 94.2h0M212.0 94.2h0M221.0 93.6h0M230.1 93.8h0M239.7 93.8h0M248.8 94.0h0M258.3 93.3h0M267.0 94.1h0M276.5 93.7h0M285.4 93.9h0M294.7 93.7h0M303.7 93.6h0M313.0 94.3h0M322.0 94.2h0M332.1 94.0h0M341.4 93.9h0M350.4 93.9h0M358.7 94.0h0M368.9 93.7h0M377.7 93.6h0M386.4 94.0h0M395.9 94.1h0M405.5 93.6h0M414.1 93.9h0M424.2 93.8h0M432.6 94.0h0M442.5 93.7h0M451.0 93.9h0M460.5 94.6h0M469.1 93.4h0M478.8 94.1h0M487.3 93.7h0M497.4 93.8h0M506.5 94.0h0M515.7 94.1h0M524.8 94.3h0M533.8 94.0h0M543.5 93.8h0M552.2 93.7h0M561.2 94.5h0M570.9 94.5h0M580.2 94.0h0M589.0 94.0h0M598.3 94.2h0M607.3 94.0h0M616.9 93.9h0M625.9 94.1h0M635.3 93.9h0M644.3 93.8h0M653.7 93.9h0M662.3 93.8h0M672.1 94.0h0M680.9 94.1h0M690.5 94.1h0M700.0 93.8h0M708.9 93.8h0M718.2 94.3h0M727.3 94.1h0M736.1 94.1h0M745.2 94.6h0M755.1 93.5h0M763.1 94.3h0M772.9 94.1h0M781.9 93.9h0M791.3 94.1h0M800.6 94.4h0M809.7 94.3h0M819.1 94.1h0M827.8 93.4h0M837.8 93.5h0M846.6 93.8h0M855.6 94.0h0M864.7 93.5h0M874.6 93.7h0M883.7 94.1h0M132.7 97.3h0M140.9 97.0h0M150.5 97.6h0M159.9 97.1h0M169.1 97.1h0M178.4 97.2h0M187.7 97.3h0M196.9 97.2h0M206.0 97.2h0M215.2 97.3h0M224.2 97.1h0M233.3 97.3h0M241.9 97.6h0M251.1 97.1h0M260.9 97.4h0M270.3 97.2h0M279.4 97.5h0M289.3 97.3h0M297.2 97.1h0M307.1 98.2h0M316.0 97.1h0M325.6 97.3h0M334.2 97.5h0M343.4 97.1h0M353.4 96.8h0M362.1 97.7h0M371.3 96.9h0M380.4 97.5h0M389.3 97.0h0M398.6 96.9h0M408.6 97.2h0M417.3 97.3h0M426.4 96.8h0M436.1 97.5h0M444.7 97.4h0M454.6 97.3h0M463.6 96.8h0M472.6 96.6h0M482.1 97.1h0M491.4 97.0h0M500.5 96.7h0M509.3 97.4h0M518.7 97.2h0M527.3 97.6h0M537.2 97.5h0M546.5 97.1h0M555.5 98.0h0M564.3 97.3h0M573.6 97.7h0M583.1 96.9h0M592.0 96.8h0M600.7 96.4h0M610.4 96.9h0M619.8 96.9h0M629.1 97.7h0M637.8 96.8h0M647.7 97.9h0M656.3 96.7h0M665.7 97.1h0M675.2 96.9h0M684.1 97.1h0M692.9 96.7h0M702.7 97.4h0M711.6 97.7h0M721.3 97.3h0M730.4 97.3h0M739.6 97.5h0M748.6 96.6h0M757.7 96.9h0M766.6 97.4h0M775.7 97.5h0M785.2 96.8h0M794.3 97.9h0M804.2 97.1h0M813.3 97.7h0M821.9 97.1h0M831.7 97.3h0M840.5 97.7h0M850.0 97.4h0M859.7 97.3h0M869.0 97.3h0M877.3 97.2h0M886.9 97.4h0M135.4 100.0h0M144.2 100.4h0M153.9 100.9h0M162.2 100.5h0M172.0 100.5h0M181.4 100.2h0M190.1 100.8h0M199.9 100.4h0M208.9 100.3h0M217.7 100.7h0M227.1 100.2h0M236.3 101.0h0M245.8 100.6h0M254.9 100.8h0M264.3 100.1h0M273.2 100.3h0M282.6 100.5h0M291.1 100.8h0M301.0 100.0h0M310.4 100.5h0M319.4 100.5h0M328.5 100.3h0M337.2 100.3h0M346.9 100.5h0M356.3 100.5h0M364.6 100.7h0M374.2 100.1h0M383.6 100.1h0M393.0 100.2h0M402.7 100.4h0M411.1 100.3h0M419.8 100.2h0M429.4 100.4h0M438.2 100.5h0M448.5 100.3h0M457.3 100.6h0M466.2 100.3h0M476.0 100.5h0M484.5 99.9h0M494.8 100.6h0M502.8 100.5h0M512.7 100.5h0M521.1 101.0h0M531.1 100.4h0M540.3 100.4h0M549.2 100.8h0M557.9 100.8h0M567.8 100.7h0M577.2 101.0h0M586.5 100.8h0M595.2 100.7h0M604.4 100.2h0M613.8 100.6h0M623.3 99.9h0M632.3 100.7h0M641.3 101.0h0M650.2 100.6h0M659.6 100.5h0M668.6 100.5h0M678.3 100.5h0M687.4 100.3h0M697.0 100.3h0M705.7 100.7h0M714.9 100.7h0M724.2 101.0h0M733.5 100.6h0M742.3 100.7h0M752.0 100.6h0M760.6 100.3h0M770.0 100.5h0M778.9 101.1h0M788.5 100.5h0M797.6 100.5h0M807.5 100.2h0M816.0 100.2h0M825.1 101.0h0M834.3 100.4h0M843.2 100.4h0M853.0 100.4h0M862.0 100.7h0M871.5 100.5h0M880.3 100.1h0M890.2 100.0h0M129.4 103.7h0M138.2 104.1h0M147.4 104.2h0M156.5 104.0h0M166.4 103.5h0M175.8 104.1h0M183.7 104.2h0M194.2 103.7h0M202.7 103.9h0M211.4 103.9h0M221.5 103.6h0M230.7 104.5h0M239.0 103.3h0M248.6 104.0h0M258.1 103.5h0M266.9 103.6h0M276.9 103.5h0M285.4 104.1h0M294.7 103.5h0M304.4 103.9h0M313.0 103.7h0M322.7 103.7h0M331.7 104.1h0M341.1 103.3h0M349.9 103.7h0M359.2 104.0h0M368.8 103.7h0M377.3 103.9h0M386.6 104.3h0M396.1 103.8h0M405.5 103.6h0M414.3 103.8h0M423.8 104.2h0M433.1 104.0h0M441.9 103.9h0M451.1 104.2h0M460.2 103.8h0M469.7 104.1h0M478.6 103.7h0M487.8 103.4h0M497.5 104.0h0M506.0 103.5h0M515.8 103.6h0M524.5 104.2h0M533.9 103.7h0M543.4 103.6h0M552.4 103.9h0M561.8 103.6h0M571.1 103.9h0M580.6 103.9h0M589.1 103.7h0M598.1 103.8h0M607.6 104.1h0M616.8 103.6h0M626.3 103.7h0M635.3 104.2h0M644.8 103.6h0M653.6 104.2h0M663.1 104.0h0M672.3 103.2h0M681.1 103.4h0M690.2 103.7h0M699.7 104.2h0M709.0 103.9h0M717.9 104.2h0M727.3 103.3h0M736.4 103.9h0M745.3 103.9h0M755.2 103.7h0M764.0 103.8h0M772.9 103.6h0M782.1 103.7h0M791.3 104.1h0M800.7 104.0h0M809.6 103.8h0M819.4 104.0h0M828.2 103.7h0M837.6 103.7h0M846.7 103.9h0M855.6 103.2h0M865.0 103.9h0M873.7 104.2h0M883.6 104.0h0M132.0 107.1h0M142.0 107.6h0M150.9 107.0h0M159.8 107.5h0M168.9 106.8h0M178.2 107.4h0M187.2 107.2h0M196.8 107.1h0M205.8 107.4h0M215.3 106.6h0M224.8 107.2h0M233.6 107.0h0M242.6 106.3h0M251.8 107.2h0M261.3 106.9h0M269.6 106.7h0M279.4 107.5h0M288.2 107.1h0M298.0 107.3h0M307.0 106.2h0M316.4 107.1h0M325.6 106.8h0M334.5 107.5h0M343.8 107.1h0M352.9 107.5h0M361.8 106.9h0M371.6 107.1h0M380.9 107.2h0M390.3 107.0h0M399.0 107.2h0M407.7 107.5h0M417.2 107.4h0M427.1 107.4h0M435.9 106.9h0M444.4 107.3h0M454.2 107.6h0M463.4 107.3h0M472.6 107.2h0M481.8 107.0h0M490.5 106.9h0M500.2 107.5h0M509.6 106.7h0M519.2 107.2h0M528.2 106.8h0M536.1 106.9h0M546.0 107.2h0M555.0 106.8h0M564.3 107.1h0M573.6 107.5h0M583.3 107.4h0M592.2 107.2h0M601.8 106.8h0M611.1 107.1h0M620.3 107.8h0M629.6 106.8h0M638.7 107.0h0M647.4 107.0h0M656.3 107.2h0M665.7 107.4h0M675.2 106.3h0M684.0 106.8h0M693.3 106.9h0M702.8 107.0h0M711.6 107.2h0M721.4 107.1h0M730.7 107.2h0M739.3 107.0h0M748.7 107.3h0M757.9 107.4h0M767.4 106.8h0M775.9 107.1h0M785.6 107.4h0M794.9 107.3h0M803.6 107.2h0M812.9 107.2h0M822.6 106.9h0M831.4 107.8h0M840.5 106.9h0M849.6 106.7h0M859.4 106.9h0M868.1 106.9h0M876.6 107.3h0M886.5 107.1h0M128.6 64.8h0M133.2 62.5h0M142.5 65.4h0M147.1 64.0h0M152.1 65.3h0M161.3 63.7h0M166.7 64.4h0M170.5 64.2h0M174.5 64.5h0M180.3 64.1h0M185.5 64.1h0M187.4 63.6h0M193.9 63.6h0M202.6 64.4h0M207.3 63.4h0M217.5 63.1h0M219.8 64.6h0M226.7 64.4h0M229.7 64.1h0M235.8 63.8h0M240.5 63.5h0M244.5 64.0h0M247.9 64.3h0M258.3 65.1h0M268.0 64.0h0M271.5 62.5h0M294.2 64.2h0M326.6 64.4h0M149.5 66.8h0M154.2 67.2h0M159.7 67.7h0M168.8 68.2h0M173.2 67.1h0M181.0 66.7h0M190.9 68.0h0M196.4 66.8h0M199.9 67.7h0M208.5 67.4h0M213.7 67.0h0M219.3 66.5h0M227.3 68.3h0M232.3 67.8h0M237.8 66.7h0M246.8 67.1h0M250.2 65.2h0M260.3 66.2h0M273.6 67.2h0M287.0 66.1h0M302.1 68.1h0M325.4 67.8h0M129.3 71.0h0M133.4 69.2h0M139.1 70.7h0M143.0 69.9h0M148.0 70.7h0M152.2 70.2h0M165.6 68.5h0M170.1 69.1h0M174.1 70.8h0M183.2 70.4h0M192.9 71.5h0M203.9 70.6h0M206.5 70.7h0M221.2 69.6h0M225.6 69.9h0M234.7 69.7h0M238.0 69.2h0M243.7 69.8h0M252.5 69.7h0M255.8 69.6h0M263.8 69.0h0M266.3 70.1h0M275.9 69.6h0M285.8 70.1h0M289.2 69.6h0M298.7 69.9h0M131.1 73.8h0M135.8 71.9h0M144.8 73.4h0M149.0 73.4h0M158.3 73.3h0M165.8 73.0h0M178.0 72.1h0M182.7 74.0h0M185.4 72.0h0M191.5 73.4h0M204.9 74.1h0M208.5 73.7h0M223.1 72.5h0M227.8 72.1h0M232.9 73.7h0M236.9 72.3h0M246.2 72.9h0M252.1 74.0h0M260.3 73.9h0M273.7 73.1h0M304.9 73.7h0M314.6 73.4h0M128.8 75.3h0M132.7 75.8h0M136.5 76.5h0M148.4 76.1h0M153.0 75.8h0M156.2 76.3h0M161.7 75.1h0M169.4 74.8h0M175.6 76.6h0M179.8 75.5h0M184.1 75.7h0M188.6 75.0h0M193.4 77.0h0M202.8 76.8h0M212.1 76.2h0M220.9 75.6h0M225.8 76.5h0M230.5 76.4h0M234.9 75.6h0M239.0 75.4h0M248.3 77.2h0M252.3 76.7h0M257.4 75.5h0M261.1 76.6h0M266.3 74.8h0M271.6 75.6h0M276.5 77.6h0M285.7 76.6h0M299.9 76.3h0M307.8 75.7h0M131.0 79.5h0M144.5 79.2h0M149.2 77.9h0M154.4 79.8h0M159.0 79.1h0M168.1 78.5h0M171.8 78.5h0M177.3 79.2h0M181.7 77.9h0M187.1 78.7h0M190.3 78.7h0M195.1 79.5h0M200.0 80.0h0M205.5 79.5h0M209.4 78.6h0M213.9 79.6h0M227.0 78.7h0M232.7 79.4h0M237.6 79.1h0M242.4 79.6h0M246.8 78.6h0M250.3 80.5h0M264.1 78.8h0M268.9 80.3h0M301.4 80.3h0M306.8 79.3h0M133.6 81.7h0M138.3 82.6h0M143.0 81.5h0M151.6 82.6h0M155.3 81.2h0M161.7 82.4h0M166.4 80.5h0M171.2 81.5h0M174.5 81.7h0M178.2 82.3h0M183.6 83.2h0M188.5 82.3h0M194.2 82.0h0M202.5 81.5h0M206.1 81.9h0M212.3 82.0h0M216.5 83.0h0M225.6 81.0h0M231.2 81.2h0M235.9 82.5h0M240.3 81.0h0M243.0 81.8h0M258.8 81.1h0M261.5 81.3h0M282.1 81.9h0M318.6 83.1h0M326.8 82.0h0M130.1 85.0h0M135.9 85.4h0M141.7 83.7h0M146.0 84.9h0M153.8 83.3h0M158.5 84.3h0M163.2 84.9h0M168.1 84.8h0M173.6 85.5h0M177.3 84.5h0M181.1 85.8h0M186.2 86.7h0M191.7 84.9h0M196.1 84.4h0M204.0 85.2h0M209.5 84.9h0M219.3 85.9h0M223.8 84.2h0M228.6 85.0h0M232.3 84.4h0M237.5 85.4h0M247.2 84.4h0M259.7 84.1h0M264.9 85.9h0M270.0 84.0h0M273.8 85.3h0M278.2 85.5h0M282.8 84.4h0M286.9 84.9h0M292.5 85.4h0M316.3 85.5h0M319.3 85.3h0M128.8 87.3h0M143.0 87.0h0M147.1 87.9h0M151.2 87.9h0M165.0 88.8h0M170.3 87.3h0M175.4 87.9h0M180.7 87.8h0M184.1 88.6h0M216.4 88.9h0M224.6 88.7h0M230.3 87.3h0M235.3 87.7h0M243.3 87.9h0M248.6 87.9h0M258.5 88.6h0M270.7 89.1h0M285.3 88.4h0M132.3 91.2h0M140.5 91.5h0M144.7 92.2h0M162.7 90.9h0M167.1 90.4h0M172.7 90.3h0M181.6 90.4h0M198.3 91.0h0M204.9 91.7h0M210.0 91.1h0M219.8 91.8h0M223.2 91.8h0M233.2 90.9h0M240.7 91.0h0M251.3 91.2h0M256.6 90.8h0M291.3 90.6h0M301.5 89.8h0M324.2 89.7h0M134.8 94.7h0M148.2 93.5h0M179.8 94.4h0M201.8 95.3h0M252.4 93.3h0M265.4 95.2h0M145.5 97.4h0M158.4 97.2h0M167.9 95.6h0M200.0 97.7h0M205.4 96.3h0M245.8 96.3h0M251.3 97.5h0M261.2 98.4h0M296.8 96.8h0M300.6 96.6h0M139.3 99.8h0M161.6 99.5h0M174.2 100.2h0M203.5 100.4h0M207.1 99.9h0M231.2 100.1h0M236.6 100.7h0M280.1 101.9h0M298.3 100.1h0M313.4 99.1h0M163.3 102.6h0M190.9 104.3h0M218.3 103.6h0M279.1 103.7h0M129.1 110.4h0M139.0 111.1h0M149.6 110.1h0M160.1 110.2h0M169.5 109.8h0M178.7 110.8h0M188.9 109.7h0M198.8 110.4h0M208.9 109.7h0M218.1 109.8h0M229.2 109.9h0M238.8 110.9h0M249.3 109.9h0M259.3 109.7h0M269.3 110.7h0M279.0 110.6h0M288.9 109.5h0M298.9 110.0h0M309.4 110.1h0M318.8 109.9h0M329.0 110.2h0M338.6 109.8h0M349.0 109.7h0M359.5 110.0h0M368.6 109.7h0M379.5 109.8h0M388.6 110.3h0M399.5 109.4h0M409.1 110.7h0M419.9 110.4h0M429.3 109.5h0M439.3 109.8h0M448.9 110.3h0M458.7 109.8h0M469.8 110.3h0M478.4 109.7h0M488.5 110.1h0M498.6 110.0h0M509.0 110.2h0M519.1 110.1h0M529.0 109.7h0M539.4 110.0h0M548.7 109.5h0M559.0 110.4h0M569.1 109.5h0M578.8 109.6h0M588.9 110.3h0M599.0 109.9h0M608.8 109.8h0M619.0 109.2h0M628.8 109.2h0M639.4 109.5h0M649.3 109.3h0M659.6 110.3h0M669.1 109.8h0M678.9 109.8h0M689.3 110.2h0M699.3 109.8h0M708.9 109.3h0M718.2 110.0h0M728.7 110.0h0M738.9 109.8h0M748.9 109.2h0M758.8 110.1h0M768.9 110.1h0M778.1 110.2h0M789.2 110.2h0M799.0 110.1h0M809.3 109.8h0M818.9 110.2h0M828.4 110.2h0M838.7 109.8h0M848.7 110.1h0M858.5 110.5h0M868.7 109.7h0M879.5 110.0h0M888.3 110.0h0M132.6 114.1h0M142.6 113.6h0M153.3 113.5h0M161.6 114.3h0M172.8 114.0h0M183.2 114.0h0M192.3 113.8h0M202.0 113.8h0M212.0 113.3h0M221.7 113.6h0M232.5 113.4h0M241.6 113.2h0M252.2 113.5h0M262.1 113.1h0M272.9 113.6h0M282.4 113.6h0M291.8 114.1h0M302.1 113.5h0M312.0 113.1h0M322.3 113.2h0M332.3 113.7h0M342.9 113.0h0M352.9 114.2h0M362.1 113.7h0M372.7 113.2h0M382.9 113.0h0M392.5 113.6h0M401.9 113.3h0M412.3 113.4h0M422.2 113.4h0M432.6 113.7h0M442.3 113.7h0M452.4 114.1h0M462.3 113.7h0M472.1 113.1h0M482.0 113.5h0M491.8 114.0h0M501.9 113.6h0M512.0 113.7h0M522.6 114.1h0M531.8 114.0h0M542.0 114.2h0M551.7 113.3h0M562.3 114.1h0M572.3 114.0h0M582.4 113.9h0M592.2 113.5h0M602.3 113.6h0M612.1 113.4h0M621.5 112.9h0M631.9 113.4h0M641.8 114.4h0M651.9 113.7h0M662.6 113.2h0M672.5 113.5h0M681.9 113.9h0M692.7 114.7h0M702.7 113.2h0M712.7 112.9h0M722.1 112.6h0M732.6 113.6h0M743.0 114.0h0M752.1 113.8h0M762.6 113.3h0M772.0 113.6h0M781.5 112.8h0M792.3 113.5h0M802.1 114.5h0M812.4 114.1h0M822.4 113.6h0M832.1 113.0h0M842.3 113.4h0M852.6 113.3h0M862.0 113.6h0M871.6 113.3h0M882.3 113.5h0M135.5 117.2h0M145.7 118.2h0M155.6 116.9h0M166.0 117.4h0M175.5 117.8h0M184.9 117.3h0M195.4 117.3h0M205.7 117.3h0M215.9 116.9h0M225.4 117.6h0M235.6 117.1h0M245.2 117.2h0M255.1 117.8h0M266.7 117.5h0M275.3 117.6h0M285.0 117.5h0M295.6 117.6h0M305.4 117.3h0M316.0 117.1h0M326.2 117.1h0M335.6 117.8h0M345.5 117.2h0M355.4 116.9h0M366.1 117.4h0M375.2 117.0h0M385.6 117.6h0M395.9 117.4h0M405.2 118.0h0M415.4 117.3h0M425.5 117.7h0M435.7 117.5h0M445.6 117.1h0M455.7 117.4h0M465.9 117.5h0M475.9 116.4h0M485.7 117.4h0M496.0 117.0h0M505.1 116.6h0M515.3 116.6h0M525.6 117.6h0M535.2 116.9h0M545.3 116.8h0M556.0 116.8h0M565.9 117.0h0M575.0 117.0h0M585.4 116.6h0M595.3 117.5h0M605.6 116.1h0M615.9 117.4h0M625.7 118.3h0M634.8 117.2h0M645.9 116.4h0M655.9 117.1h0M665.1 117.8h0M675.8 116.8h0M685.6 116.6h0M696.6 116.7h0M705.7 117.0h0M716.2 117.3h0M725.7 117.5h0M735.6 117.6h0M746.3 118.0h0M754.7 117.3h0M766.0 117.4h0M776.2 117.2h0M786.0 116.8h0M795.1 116.5h0M805.9 117.4h0M816.2 117.3h0M825.8 117.0h0M836.2 117.3h0M845.7 117.9h0M855.1 117.4h0M865.6 117.4h0M875.8 117.5h0M885.0 117.2h0M138.6 120.8h0M148.3 121.0h0M159.1 121.4h0M168.2 120.3h0M178.8 120.7h0M188.1 120.3h0M198.7 121.0h0M209.0 120.7h0M219.5 121.3h0M229.1 120.9h0M239.2 120.9h0M249.6 120.3h0M258.8 120.7h0M269.0 120.5h0M278.2 120.7h0M289.5 120.6h0M299.1 121.1h0M309.0 120.6h0M318.9 121.4h0M329.1 120.9h0M338.8 120.9h0M349.4 121.3h0M359.0 120.9h0M369.5 121.4h0M379.1 120.5h0M388.0 120.3h0M398.8 120.9h0M408.8 120.5h0M419.3 120.8h0M428.6 120.4h0M439.2 120.6h0M449.1 120.9h0M459.0 120.8h0M469.1 120.3h0M479.1 120.6h0M488.7 120.8h0M498.8 120.8h0M508.7 121.7h0M518.3 120.8h0M528.6 120.3h0M539.0 121.3h0M548.7 121.3h0M558.3 120.8h0M568.5 120.2h0M578.5 120.4h0M589.0 121.4h0M599.2 121.4h0M608.8 120.5h0M619.5 121.4h0M628.6 120.8h0M639.2 120.8h0M648.5 121.0h0M658.2 121.8h0M669.1 120.4h0M679.3 121.3h0M689.4 120.9h0M698.4 120.5h0M709.6 120.7h0M718.6 120.6h0M728.2 120.6h0M739.0 120.5h0M749.6 120.4h0M759.4 121.0h0M769.5 120.9h0M778.1 120.3h0M789.0 120.4h0M799.4 120.1h0M809.2 120.6h0M819.1 121.1h0M828.1 120.5h0M839.1 120.8h0M848.3 120.6h0M858.8 120.6h0M869.1 121.4h0M879.1 120.3h0M888.5 121.1h0M132.6 124.1h0M142.0 123.5h0M152.7 124.4h0M162.0 124.7h0M172.4 124.9h0M181.8 124.5h0M191.8 124.4h0M202.0 123.8h0M211.8 124.6h0M221.9 124.4h0M231.3 124.5h0M241.2 124.2h0M252.2 125.3h0M262.3 124.0h0M272.0 124.5h0M282.3 124.3h0M292.5 124.7h0M301.9 124.5h0M312.4 123.9h0M321.8 124.5h0M332.1 124.7h0M342.4 124.2h0M352.6 124.4h0M362.5 125.5h0M371.9 123.8h0M382.6 124.1h0M391.9 124.8h0M402.0 123.5h0M412.7 124.3h0M421.8 124.5h0M432.2 124.1h0M442.5 123.9h0M452.3 124.2h0M462.4 124.6h0M471.8 124.2h0M482.9 124.7h0M492.5 124.8h0M502.3 123.8h0M512.0 124.3h0M522.2 123.5h0M532.8 124.1h0M542.5 123.5h0M552.3 124.1h0M562.7 124.1h0M572.7 124.9h0M581.8 124.0h0M591.9 124.4h0M602.3 124.0h0M612.0 124.3h0M622.4 124.0h0M632.3 124.6h0M642.6 124.1h0M652.7 125.0h0M662.3 124.4h0M672.4 124.2h0M682.2 124.8h0M692.1 124.3h0M702.2 124.5h0M712.6 124.8h0M721.7 124.4h0M732.2 124.7h0M742.6 124.3h0M752.0 123.6h0M762.4 124.6h0M772.2 123.9h0M782.2 124.2h0M791.9 124.3h0M801.6 124.1h0M811.1 124.5h0M822.9 123.7h0M832.4 124.4h0M842.0 124.7h0M851.6 124.5h0M862.0 124.3h0M871.5 124.3h0M882.4 124.4h0M134.7 128.4h0M145.6 128.1h0M155.8 127.8h0M165.9 128.1h0M175.3 127.9h0M185.8 128.9h0M195.3 126.9h0M205.6 127.6h0M215.4 127.8h0M225.7 128.0h0M235.1 127.8h0M245.2 127.9h0M255.4 128.3h0M264.9 128.5h0M275.0 128.2h0M286.5 127.9h0M296.0 128.1h0M305.3 128.5h0M314.9 128.2h0M325.4 128.3h0M335.9 128.2h0M345.5 128.4h0M355.0 128.4h0M366.0 127.8h0M375.6 128.2h0M386.1 128.1h0M395.4 127.9h0M405.1 127.3h0M416.1 128.5h0M425.9 127.9h0M435.9 128.6h0M445.5 128.2h0M455.0 128.1h0M466.2 128.5h0M475.9 128.3h0M485.3 127.6h0M495.2 128.0h0M505.4 128.3h0M515.0 128.3h0M524.9 128.0h0M535.4 128.4h0M545.4 127.9h0M555.6 127.8h0M566.0 127.9h0M575.5 128.4h0M585.6 127.9h0M595.9 128.3h0M605.4 128.6h0M615.3 128.6h0M626.0 128.1h0M635.4 128.3h0M644.7 127.5h0M656.0 127.8h0M665.7 128.3h0M675.2 128.4h0M685.0 128.0h0M695.4 127.2h0M706.0 127.4h0M715.0 128.3h0M725.0 128.1h0M735.3 127.8h0M745.1 127.8h0M755.5 128.1h0M765.2 128.4h0M775.4 128.2h0M785.2 127.5h0M796.5 127.7h0M806.1 128.3h0M815.5 127.8h0M825.3 128.5h0M835.2 128.2h0M845.4 127.9h0M855.3 127.5h0M865.8 128.4h0M875.7 127.6h0M885.2 127.7h0M139.1 131.4h0M148.6 131.7h0M158.9 131.6h0M169.1 131.2h0M179.4 131.4h0M188.4 132.1h0M198.4 131.6h0M208.4 132.2h0M219.0 132.1h0M228.8 131.1h0M239.5 132.2h0M248.8 131.7h0M258.7 130.9h0M268.6 131.1h0M278.8 131.6h0M289.1 132.3h0M299.1 131.5h0M308.5 132.2h0M317.7 130.8h0M328.0 132.2h0M337.9 131.6h0M349.3 131.6h0M358.0 131.6h0M368.7 131.7h0M378.5 131.4h0M389.2 131.6h0M398.5 131.7h0M409.1 132.0h0M419.4 131.0h0M428.9 131.0h0M438.8 132.7h0M448.9 131.7h0M458.5 131.4h0M469.0 131.9h0M478.9 132.5h0M488.1 131.9h0M498.1 132.0h0M508.8 131.2h0M518.7 131.3h0M528.9 130.9h0M539.1 131.9h0M548.7 131.6h0M559.2 132.2h0M568.9 131.8h0M578.0 131.2h0M588.8 131.4h0M598.3 131.6h0M609.4 132.1h0M618.0 131.7h0M628.5 131.9h0M638.6 131.6h0M648.9 131.4h0M658.2 130.9h0M669.0 131.3h0M678.7 131.9h0M688.9 132.0h0M698.4 132.2h0M709.0 131.9h0M719.8 131.9h0M728.8 131.8h0M738.9 131.8h0M748.7 131.9h0M759.4 131.2h0M769.1 131.6h0M779.1 131.5h0M789.4 131.8h0M798.6 131.5h0M808.8 132.0h0M819.1 132.2h0M828.7 131.6h0M839.1 132.7h0M848.9 132.1h0M859.4 131.0h0M868.7 131.8h0M878.8 131.9h0M889.1 131.2h0M131.7 134.9h0M140.8 134.4h0M152.1 135.0h0M161.4 134.9h0M172.0 135.0h0M182.6 135.2h0M191.1 135.5h0M202.6 135.8h0M212.3 135.2h0M222.7 135.4h0M232.0 135.4h0M241.8 135.3h0M251.5 135.2h0M263.0 134.9h0M271.9 135.1h0M282.3 134.6h0M291.7 135.0h0M301.8 134.6h0M312.5 135.5h0M322.7 135.3h0M331.7 134.7h0M341.8 134.5h0M351.8 135.4h0M362.1 135.1h0M371.8 135.8h0M382.1 135.5h0M393.4 135.0h0M402.6 135.6h0M411.9 135.3h0M421.9 135.0h0M432.6 135.1h0M441.3 135.8h0M452.3 134.9h0M461.9 135.4h0M471.9 135.3h0M482.6 135.2h0M492.3 135.3h0M502.2 134.9h0M512.6 134.9h0M522.1 134.6h0M532.1 135.3h0M541.8 134.9h0M552.8 135.6h0M561.8 135.6h0M572.1 135.6h0M581.9 135.4h0M592.3 135.2h0M601.9 136.0h0M612.0 135.7h0M622.0 134.9h0M632.2 134.5h0M641.9 135.4h0M651.4 134.9h0M662.1 135.4h0M672.6 135.6h0M682.1 134.4h0M692.2 135.3h0M702.0 135.3h0M711.7 135.6h0M722.1 134.7h0M732.1 135.5h0M742.1 135.1h0M752.5 135.2h0M762.0 135.2h0M772.0 135.0h0M781.9 135.5h0M792.4 135.2h0M801.6 135.2h0M812.4 135.6h0M821.6 135.5h0M832.4 135.5h0M842.8 134.0h0M851.8 134.8h0M862.8 135.2h0M872.6 135.2h0M882.2 135.0h0M135.8 138.6h0M145.4 139.1h0M155.3 138.2h0M164.8 138.5h0M176.1 138.5h0M185.6 139.2h0M195.2 138.9h0M205.2 139.1h0M215.7 138.3h0M225.5 138.6h0M235.7 139.2h0M245.4 138.4h0M255.0 139.3h0M265.7 139.0h0M275.4 138.6h0M285.7 139.2h0M296.3 139.2h0M305.5 139.7h0M314.6 138.7h0M325.9 138.8h0M335.4 139.0h0M346.2 138.8h0M356.3 138.6h0M365.1 138.4h0M375.2 138.2h0M385.5 139.2h0M395.3 138.4h0M405.3 138.9h0M414.9 138.8h0M426.3 138.8h0M435.2 138.4h0M445.9 138.6h0M455.4 139.6h0M465.3 139.1h0M475.6 138.6h0M485.0 139.6h0M496.0 138.8h0M506.4 138.7h0M515.4 138.4h0M525.5 139.0h0M535.3 138.7h0M545.0 138.4h0M555.1 139.2h0M565.4 138.9h0M576.0 139.2h0M585.6 139.2h0M595.2 138.6h0M606.1 139.5h0M615.8 139.5h0M625.5 138.9h0M635.4 138.2h0M644.8 138.8h0M655.0 138.6h0M666.1 138.8h0M675.2 139.0h0M685.5 138.6h0M694.8 139.1h0M705.4 138.5h0M714.8 138.8h0M725.1 138.4h0M735.6 138.6h0M745.7 139.2h0M755.2 138.8h0M765.3 138.6h0M775.5 138.6h0M785.1 138.3h0M795.5 139.0h0M805.7 138.7h0M815.2 138.2h0M825.4 139.1h0M835.5 138.8h0M846.0 138.7h0M855.0 138.6h0M865.6 138.8h0M876.3 138.8h0M885.7 138.5h0M138.3 142.7h0M149.0 141.7h0M158.9 142.6h0M169.3 142.4h0M178.5 142.3h0M189.0 141.9h0M198.9 142.4h0M208.5 141.9h0M218.6 142.8h0M228.9 142.8h0M238.0 142.6h0M248.5 142.8h0M258.8 143.1h0M268.4 142.5h0M277.6 143.2h0M288.3 142.0h0M298.8 143.1h0M308.5 142.8h0M318.3 142.9h0M328.9 142.8h0M339.0 142.4h0M348.6 142.7h0M359.0 142.9h0M369.0 142.4h0M378.8 142.3h0M388.6 142.6h0M399.0 142.5h0M408.6 142.6h0M418.2 142.7h0M429.0 142.1h0M438.6 142.8h0M449.1 142.4h0M458.9 141.4h0M469.1 143.1h0M478.4 141.5h0M488.8 142.9h0M498.6 142.9h0M509.0 142.4h0M519.0 142.9h0M528.8 141.9h0M538.1 141.7h0M548.1 142.9h0M559.0 142.0h0M569.2 142.0h0M578.9 142.5h0M588.4 142.3h0M598.4 142.3h0M609.1 142.0h0M618.9 141.9h0M629.4 141.9h0M638.1 142.3h0M648.5 142.3h0M658.8 141.8h0M669.3 142.1h0M678.5 142.1h0M688.6 142.9h0M698.7 142.6h0M709.8 142.9h0M718.9 141.9h0M729.0 142.8h0M738.7 141.8h0M748.6 142.1h0M759.2 142.6h0M768.8 142.1h0M778.4 142.7h0M789.0 143.0h0M798.8 142.4h0M809.0 142.0h0M818.6 142.2h0M829.1 141.9h0M838.4 142.4h0M848.9 142.3h0M858.8 142.3h0M868.2 142.4h0M879.2 142.4h0M888.7 142.5h0M132.2 146.0h0M141.4 146.4h0M152.7 145.7h0M161.8 146.1h0M171.9 145.2h0M182.8 145.6h0M192.6 145.9h0M201.8 145.5h0M212.0 146.1h0M222.6 146.0h0M232.0 146.0h0M241.7 146.3h0M252.5 146.0h0M262.2 146.1h0M271.8 146.7h0M281.6 146.3h0M292.4 145.6h0M302.3 145.4h0M312.4 145.4h0M322.5 146.1h0M331.3 145.5h0M341.7 145.7h0M351.7 145.8h0M362.0 145.5h0M371.9 146.0h0M383.1 146.1h0M391.6 146.1h0M402.6 146.4h0M411.9 146.4h0M421.4 146.1h0M432.4 145.8h0M442.6 146.0h0M452.0 145.6h0M462.0 146.1h0M472.1 145.6h0M482.0 146.0h0M492.2 145.9h0M501.8 147.1h0M512.7 145.6h0M522.5 145.7h0M532.1 146.0h0M542.0 146.0h0M551.9 146.2h0M562.5 146.6h0M570.9 146.7h0M581.8 145.3h0M592.0 146.9h0M602.6 146.6h0M611.7 146.7h0M622.7 146.7h0M632.5 145.9h0M641.7 145.7h0M652.0 146.0h0M661.9 145.8h0M671.3 145.8h0M681.7 146.3h0M692.5 146.2h0M702.3 146.2h0M712.0 145.6h0M721.7 146.0h0M731.5 146.4h0M741.9 146.1h0M751.9 145.7h0M761.8 146.3h0M772.3 145.9h0M781.8 146.0h0M791.5 145.9h0M801.5 145.7h0M812.4 146.1h0M821.5 145.7h0M832.0 145.5h0M842.0 146.6h0M852.1 146.4h0M862.0 146.6h0M872.0 146.0h0M882.5 145.8h0M135.2 149.4h0M145.4 149.5h0M156.1 149.0h0M165.5 149.2h0M175.3 150.1h0M185.0 148.7h0M195.5 150.1h0M205.3 149.3h0M215.1 149.7h0M225.1 148.9h0M235.0 149.5h0M245.2 149.7h0M255.6 150.3h0M264.8 149.8h0M275.2 149.5h0M284.6 149.9h0M294.4 149.4h0M306.1 149.4h0M315.6 149.3h0M324.9 149.8h0M335.5 149.4h0M344.9 149.4h0M355.2 149.2h0M365.7 149.3h0M375.1 149.3h0M384.8 149.8h0M395.0 149.7h0M405.3 150.7h0M415.6 150.5h0M424.5 149.7h0M435.6 149.2h0M445.4 149.3h0M455.9 149.5h0M465.2 150.5h0M475.2 149.1h0M485.5 149.3h0M494.7 149.7h0M505.5 149.0h0M515.7 148.9h0M525.2 150.0h0M535.5 149.1h0M545.1 149.2h0M554.5 149.9h0M566.3 149.2h0M574.6 149.3h0M585.5 149.9h0M595.0 150.1h0M605.0 149.7h0M616.3 149.8h0M625.4 149.9h0M635.2 149.6h0M644.9 149.1h0M654.7 149.8h0M664.7 149.7h0M676.3 149.9h0M685.1 149.8h0M695.9 149.3h0M705.8 148.9h0M714.8 150.0h0M724.8 150.2h0M735.1 149.7h0M745.3 149.2h0M755.6 149.6h0M765.7 149.0h0M774.3 149.6h0M785.3 149.5h0M795.5 149.7h0M804.6 149.0h0M815.0 149.5h0M825.2 149.7h0M834.3 149.9h0M845.2 149.7h0M855.9 149.8h0M865.0 149.4h0M875.8 149.6h0M885.6 149.6h0M128.0 150.1h0M139.1 149.7h0M148.5 150.3h0M160.0 150.1h0M169.6 150.5h0M180.2 149.8h0M189.7 150.1h0M200.2 150.7h0M210.3 149.6h0M220.2 150.1h0M230.8 150.0h0M241.5 149.6h0M251.6 150.4h0M262.1 149.6h0M271.7 150.3h0M291.7 149.9h0M311.9 150.3h0M323.2 150.4h0M333.5 149.8h0M343.5 149.7h0M353.9 149.7h0M364.0 149.9h0M373.9 150.8h0M384.0 150.1h0M394.3 150.5h0M404.7 150.1h0M414.7 150.2h0M424.9 149.7h0M434.5 150.0h0M445.5 150.4h0M454.9 150.0h0M466.2 150.3h0M475.7 150.0h0M485.8 150.5h0M496.3 150.2h0M516.6 149.6h0M526.6 150.4h0M547.7 149.7h0M557.7 149.5h0M577.7 150.1h0M597.7 150.5h0M618.5 150.1h0M669.7 149.4h0M679.4 150.2h0M689.9 150.3h0M710.4 149.8h0M730.9 149.7h0M740.6 150.0h0M751.9 150.4h0M761.5 149.9h0M771.4 150.5h0M791.5 150.4h0M802.4 149.6h0M813.0 150.3h0M822.3 150.0h0M852.7 150.1h0M863.9 149.4h0M873.5 149.4h0M132.1 152.6h0M143.1 153.4h0M152.5 154.0h0M163.5 153.2h0M173.0 152.4h0M183.7 153.5h0M193.7 153.4h0M203.7 153.8h0M213.7 153.7h0M223.9 152.9h0M234.4 152.9h0M245.1 153.5h0M254.4 153.8h0M264.8 153.4h0M275.2 154.3h0M285.5 154.1h0M294.8 152.7h0M305.7 153.0h0M316.0 153.2h0M336.9 154.2h0M346.7 153.7h0M356.7 153.4h0M366.8 153.3h0M376.8 154.1h0M387.2 154.3h0M397.4 153.4h0M408.1 153.2h0M418.3 153.7h0M427.7 153.9h0M437.9 153.3h0M447.9 153.0h0M458.2 153.8h0M479.1 153.3h0M489.5 153.3h0M499.5 154.2h0M510.0 154.1h0M539.8 153.4h0M560.5 153.5h0M571.6 153.8h0M601.4 153.6h0M611.6 153.6h0M622.9 154.2h0M642.8 153.4h0M652.5 154.2h0M662.7 153.1h0M672.7 153.2h0M703.8 153.9h0M724.4 153.6h0M764.9 153.8h0M774.6 153.1h0M795.5 153.5h0M805.8 153.0h0M825.8 153.4h0M836.1 153.8h0M887.1 153.3h0M135.7 156.0h0M146.8 156.3h0M155.8 157.0h0M166.5 158.0h0M176.3 156.9h0M186.7 156.7h0M197.1 156.4h0M207.5 157.4h0M217.2 157.6h0M227.2 157.1h0M237.7 156.7h0M248.1 157.1h0M257.9 157.0h0M268.9 156.8h0M278.5 157.6h0M288.6 156.9h0M308.4 156.2h0M318.6 157.3h0M329.9 156.9h0M359.7 157.1h0M370.8 156.9h0M380.6 157.1h0M390.8 157.3h0M400.4 157.7h0M410.6 157.2h0M421.7 156.8h0M431.6 156.9h0M441.6 156.4h0M452.4 156.7h0M462.0 157.3h0M472.5 156.5h0M492.4 157.5h0M503.2 157.0h0M522.8 157.1h0M543.8 156.8h0M553.6 157.3h0M563.9 157.5h0M585.1 157.6h0M595.2 156.8h0M605.7 156.8h0M615.4 157.0h0M635.4 156.7h0M656.1 156.8h0M696.5 156.5h0M707.1 156.9h0M717.8 157.3h0M738.1 157.5h0M757.1 156.8h0M768.0 157.1h0M778.6 155.9h0M798.8 156.1h0M818.4 156.7h0M828.6 157.6h0M860.4 157.2h0M880.1 157.0h0M890.2 156.9h0M128.9 160.9h0M138.9 160.0h0M148.9 160.1h0M160.0 160.2h0M169.6 160.1h0M180.4 160.2h0M190.3 160.8h0M199.8 160.4h0M210.5 160.2h0M220.7 160.7h0M231.2 160.3h0M240.6 160.4h0M251.3 160.2h0M261.7 160.1h0M271.9 159.7h0M281.1 160.9h0M293.1 160.6h0M302.7 160.3h0M312.7 160.3h0M332.7 160.3h0M343.3 160.8h0M373.7 160.5h0M384.1 160.1h0M394.4 161.2h0M403.9 161.1h0M414.5 160.2h0M424.5 160.3h0M435.5 160.5h0M444.7 160.5h0M465.6 160.8h0M476.0 161.2h0M486.5 160.7h0M527.4 161.2h0M536.7 161.0h0M546.7 160.5h0M558.2 160.3h0M618.8 160.5h0M638.5 160.3h0M649.2 160.1h0M669.8 160.3h0M690.3 160.0h0M740.3 159.9h0M833.6 160.5h0M843.0 159.8h0M853.7 161.1h0M862.3 161.1h0M132.7 164.1h0M142.3 164.1h0M152.4 163.6h0M162.7 164.0h0M173.3 163.8h0M183.1 163.7h0M194.4 164.7h0M203.6 163.8h0M214.1 163.6h0M224.4 164.6h0M235.5 164.0h0M243.9 164.8h0M255.7 164.0h0M264.8 163.8h0M274.9 164.0h0M285.7 165.6h0M295.7 163.8h0M306.1 164.1h0M316.0 164.2h0M326.3 164.1h0M337.1 164.8h0M356.8 164.2h0M367.2 163.6h0M377.5 164.1h0M388.1 164.1h0M397.7 163.7h0M407.5 164.2h0M417.7 164.3h0M428.3 163.5h0M438.7 164.6h0M458.5 164.1h0M499.9 164.5h0M509.2 163.8h0M519.2 163.4h0M530.6 163.6h0M540.7 163.6h0M560.6 164.3h0M570.8 163.9h0M581.4 163.7h0M590.8 164.2h0M632.4 164.8h0M652.9 163.5h0M662.3 164.2h0M683.1 163.6h0M713.4 164.0h0M734.8 163.6h0M744.9 163.7h0M764.5 164.3h0M856.6 164.4h0M877.3 162.9h0M136.1 167.7h0M145.9 167.0h0M156.6 167.3h0M166.5 167.8h0M176.4 167.8h0M187.3 166.9h0M197.1 167.7h0M207.0 168.3h0M217.2 167.5h0M227.6 166.9h0M237.4 167.9h0M247.7 167.8h0M258.7 166.5h0M267.9 167.4h0M278.7 167.6h0M289.1 167.0h0M299.1 166.9h0M310.0 167.2h0M319.8 168.1h0M339.1 167.3h0M350.1 167.6h0M360.5 167.8h0M371.1 167.2h0M381.1 167.7h0M400.9 167.4h0M412.1 168.4h0M421.3 167.4h0M431.5 168.1h0M441.7 167.2h0M451.8 168.1h0M461.7 167.4h0M523.3 167.5h0M554.6 166.9h0M564.6 167.6h0M573.5 167.9h0M594.5 167.3h0M615.4 167.3h0M635.4 167.5h0M656.7 168.0h0M666.2 167.2h0M675.9 167.7h0M697.2 167.5h0M757.0 167.7h0M768.5 167.7h0M808.3 167.8h0M818.4 167.2h0M839.0 167.4h0M850.0 168.0h0M860.2 167.4h0M879.3 168.1h0M128.4 170.4h0M139.4 170.9h0M148.9 170.8h0M159.0 170.7h0M170.0 170.6h0M180.2 170.3h0M189.8 171.9h0M200.2 171.2h0M211.1 171.2h0M220.2 171.3h0M230.9 171.8h0M241.4 171.3h0M251.2 170.7h0M261.7 171.5h0M271.6 170.7h0M281.5 171.4h0M292.5 170.9h0M301.7 171.1h0M312.4 171.5h0M322.7 171.1h0M333.6 170.9h0M342.7 171.0h0M353.7 170.9h0M363.6 169.8h0M374.3 171.0h0M383.4 170.8h0M403.4 170.5h0M415.1 170.9h0M425.3 171.2h0M435.1 171.0h0M455.7 171.1h0M476.0 171.4h0M506.1 171.5h0M526.3 170.9h0M536.8 170.7h0M547.3 170.1h0M557.2 170.7h0M598.2 170.8h0M608.3 171.0h0M618.7 171.0h0M629.1 170.6h0M648.8 170.8h0M680.3 171.3h0M721.4 171.5h0M730.2 171.3h0M740.1 171.2h0M751.6 171.3h0M761.5 171.2h0M771.3 171.1h0M781.7 170.9h0M791.7 170.3h0M811.9 171.4h0M843.2 170.7h0M853.0 171.2h0M132.3 175.1h0M142.1 174.3h0M152.4 174.7h0M162.4 173.9h0M172.7 174.7h0M183.7 173.9h0M194.5 174.3h0M203.1 174.5h0M214.7 174.9h0M224.5 174.5h0M234.4 174.2h0M244.3 174.1h0M254.2 174.6h0M265.3 174.0h0M275.1 174.6h0M285.7 174.9h0M295.3 174.7h0M305.9 173.8h0M316.4 174.7h0M326.3 174.4h0M335.8 174.3h0M346.1 173.6h0M357.1 174.5h0M367.5 174.1h0M376.9 174.2h0M387.5 174.7h0M397.7 174.9h0M408.0 174.7h0M418.6 174.6h0M427.8 174.2h0M438.2 174.7h0M458.8 174.7h0M478.8 174.2h0M520.0 174.4h0M550.7 174.6h0M560.5 174.1h0M570.7 174.5h0M591.1 174.1h0M602.1 175.0h0M622.2 174.9h0M632.4 174.2h0M642.5 174.6h0M662.4 174.0h0M683.3 174.5h0M693.3 174.1h0M703.6 174.9h0M723.9 174.4h0M734.2 175.1h0M744.4 174.3h0M775.7 174.0h0M785.4 174.3h0M795.1 174.5h0M805.0 174.5h0M825.9 174.4h0M835.4 174.6h0M856.6 174.8h0M877.1 174.0h0M886.8 174.2h0M135.6 177.8h0M145.2 178.5h0M156.6 178.2h0M166.3 178.0h0M177.1 178.2h0M185.7 178.0h0M196.7 177.4h0M207.3 178.0h0M217.2 177.6h0M227.8 177.8h0M238.2 178.2h0M248.4 177.6h0M258.4 177.9h0M268.5 178.5h0M278.3 177.8h0M288.7 178.9h0M299.0 178.3h0M309.3 178.0h0M318.6 177.9h0M330.0 178.1h0M340.3 178.0h0M350.0 177.8h0M360.3 178.4h0M370.7 177.6h0M380.5 178.3h0M390.6 178.3h0M410.9 176.9h0M421.0 177.3h0M431.9 177.6h0M441.9 178.1h0M451.6 178.1h0M461.9 177.8h0M471.8 177.6h0M482.9 177.3h0M492.9 178.9h0M514.0 178.0h0M533.6 178.0h0M564.3 178.0h0M584.2 177.8h0M615.0 178.5h0M646.7 178.2h0M655.9 178.3h0M676.0 178.0h0M717.1 177.4h0M747.2 177.6h0M757.1 177.9h0M767.9 178.9h0M789.1 178.5h0M798.8 177.7h0M819.1 178.5h0M829.5 178.2h0M860.1 178.1h0M870.1 178.4h0M880.8 177.4h0M129.2 181.5h0M139.4 180.9h0M149.3 181.9h0M159.7 181.2h0M169.6 181.9h0M180.1 181.6h0M190.1 181.5h0M200.3 181.7h0M210.7 181.5h0M221.0 181.7h0M230.6 181.0h0M241.4 180.9h0M250.8 182.1h0M261.6 181.9h0M271.7 181.8h0M282.2 181.7h0M292.1 181.5h0M302.2 181.6h0M312.9 181.1h0M323.1 181.8h0M332.8 181.3h0M363.7 181.6h0M374.1 182.2h0M383.7 181.6h0M394.5 181.8h0M404.1 181.1h0M425.2 181.0h0M435.9 181.0h0M445.3 181.7h0M455.4 182.1h0M465.7 181.5h0M475.7 181.2h0M486.0 181.7h0M495.9 181.1h0M506.1 181.6h0M516.6 182.0h0M527.3 180.9h0M537.0 181.2h0M578.1 181.2h0M587.8 181.8h0M618.0 181.2h0M649.0 181.2h0M709.8 181.3h0M751.2 182.0h0M761.9 181.1h0M771.5 181.3h0M791.4 181.1h0M801.7 181.7h0M873.7 180.9h0M131.6 184.9h0M142.7 184.6h0M153.2 184.7h0M162.8 185.2h0M173.7 184.2h0M183.0 184.6h0M193.6 184.2h0M203.5 185.0h0M214.2 185.5h0M224.3 185.9h0M234.2 185.6h0M244.9 185.2h0M254.4 185.1h0M264.5 185.2h0M274.2 184.8h0M285.4 184.8h0M295.5 184.4h0M305.8 185.2h0M315.8 184.7h0M325.9 185.4h0M336.8 184.1h0M346.9 184.7h0M356.4 186.0h0M367.3 184.8h0M377.8 184.7h0M397.6 185.0h0M407.2 184.9h0M427.5 184.8h0M438.3 185.0h0M459.0 185.1h0M469.7 185.0h0M479.6 185.7h0M509.8 185.9h0M519.8 185.7h0M529.7 184.4h0M540.3 185.7h0M550.7 184.8h0M570.4 184.8h0M581.8 185.2h0M591.5 185.0h0M622.0 184.5h0M672.6 185.0h0M683.5 185.7h0M704.1 185.6h0M714.1 184.5h0M723.9 185.4h0M744.1 184.4h0M754.8 185.1h0M775.5 184.5h0M785.4 185.3h0M795.0 185.5h0M805.2 185.6h0M826.9 184.6h0M136.0 188.5h0M145.7 189.0h0M156.1 188.0h0M166.0 188.5h0M176.9 188.2h0M186.5 188.0h0M197.4 188.5h0M207.2 188.2h0M218.1 188.4h0M227.7 188.8h0M237.5 188.2h0M248.3 188.3h0M258.5 187.9h0M268.1 188.4h0M277.8 188.4h0M288.7 188.5h0M298.3 189.3h0M309.3 188.2h0M319.5 188.7h0M329.3 188.3h0M340.3 187.1h0M350.1 188.9h0M360.6 189.0h0M370.4 188.9h0M380.8 188.7h0M391.2 188.7h0M401.9 189.1h0M411.3 188.5h0M421.1 188.4h0M431.7 188.6h0M442.2 188.7h0M461.9 188.6h0M471.9 188.5h0M482.7 188.9h0M502.7 188.7h0M513.1 188.8h0M523.4 188.0h0M544.4 188.9h0M565.1 188.5h0M574.1 188.2h0M595.4 189.0h0M656.9 188.5h0M665.9 188.4h0M675.6 188.7h0M686.5 188.1h0M697.1 188.2h0M707.7 188.1h0M727.0 187.8h0M738.1 188.8h0M789.1 188.8h0M798.8 188.6h0M808.6 188.6h0M818.9 188.6h0M839.2 188.2h0M849.7 188.8h0M859.1 189.3h0M869.6 188.3h0M880.7 187.8h0M129.1 191.8h0M138.6 192.2h0M149.6 192.1h0M160.1 192.1h0M169.1 192.6h0M180.2 191.6h0M189.9 192.2h0M200.4 192.0h0M210.4 191.3h0M220.9 191.3h0M230.6 191.5h0M240.5 192.3h0M251.5 192.0h0M261.8 191.4h0M272.3 191.5h0M282.1 192.1h0M291.9 191.9h0M302.9 192.1h0M312.7 192.4h0M332.9 192.1h0M342.8 192.0h0M353.3 192.2h0M363.6 192.0h0M373.7 191.9h0M394.7 192.3h0M403.9 191.8h0M414.8 191.0h0M425.3 190.8h0M434.8 192.6h0M444.6 191.7h0M455.5 191.7h0M466.0 192.1h0M486.3 191.8h0M507.1 191.7h0M526.3 191.6h0M537.0 192.0h0M608.9 192.4h0M619.0 192.1h0M638.9 191.3h0M680.0 192.1h0M709.3 191.6h0M720.9 191.9h0M730.7 191.9h0M740.9 191.9h0M781.6 192.3h0M802.3 191.8h0M833.0 192.3h0M843.5 191.7h0M874.2 191.9h0M883.4 191.9h0M131.3 195.0h0M143.0 195.8h0M152.5 194.9h0M162.2 195.7h0M172.9 195.3h0M183.4 194.9h0M194.1 195.2h0M204.1 195.3h0M214.4 195.7h0M223.6 194.8h0M234.2 195.7h0M244.6 195.0h0M255.1 195.2h0M265.5 195.4h0M285.5 196.1h0M295.6 195.8h0M305.7 195.5h0M316.2 196.0h0M326.2 194.5h0M336.3 195.6h0M346.6 195.3h0M356.7 195.9h0M366.9 195.8h0M377.2 196.0h0M387.8 196.1h0M397.7 196.3h0M407.9 194.7h0M428.5 195.8h0M438.1 195.4h0M449.2 195.1h0M469.4 194.9h0M479.2 194.9h0M489.6 195.4h0M519.8 195.0h0M529.8 196.8h0M541.2 195.2h0M550.6 195.4h0M561.2 195.6h0M581.6 194.9h0M602.4 195.3h0M612.0 195.8h0M621.9 194.8h0M632.6 195.7h0M662.2 195.9h0M673.1 196.0h0M683.3 195.4h0M713.4 196.0h0M734.4 195.1h0M744.0 195.7h0M754.6 195.8h0M774.8 195.9h0M785.3 194.9h0M805.5 195.6h0M846.0 195.5h0M857.0 195.9h0M866.7 195.4h0M877.3 195.5h0M887.5 194.5h0M136.1 198.7h0M146.9 198.6h0M156.6 199.3h0M166.4 198.7h0M176.8 199.1h0M187.3 199.2h0M196.7 198.8h0M207.4 199.0h0M217.4 199.0h0M227.6 199.0h0M238.1 199.3h0M248.1 199.0h0M258.3 198.8h0M268.9 199.9h0M278.6 199.5h0M288.8 198.9h0M298.6 198.4h0M309.4 199.2h0M319.2 198.7h0M329.6 198.9h0M339.9 199.0h0M349.5 199.3h0M359.7 198.6h0M370.7 199.2h0M380.7 198.1h0M390.6 198.6h0M400.7 199.3h0M432.0 199.0h0M440.8 198.9h0M451.9 198.6h0M461.4 198.2h0M472.4 198.9h0M493.2 199.7h0M513.2 199.6h0M532.9 198.9h0M553.6 198.8h0M564.4 199.5h0M584.6 199.1h0M594.2 198.9h0M625.0 198.8h0M636.0 198.7h0M645.2 198.7h0M707.3 198.8h0M718.0 199.1h0M738.0 197.9h0M747.7 198.5h0M767.6 199.2h0M778.2 198.6h0M788.2 199.1h0M809.2 198.5h0M819.5 198.4h0M840.0 199.3h0M860.6 199.3h0M870.7 198.8h0M890.8 199.3h0M129.2 202.0h0M139.4 202.7h0M149.3 202.6h0M160.2 201.9h0M170.1 202.6h0M179.9 203.0h0M190.0 201.3h0M200.8 202.5h0M210.9 201.4h0M221.5 202.5h0M230.8 202.6h0M240.7 202.3h0M250.8 202.4h0M261.9 203.1h0M271.3 203.2h0M282.0 202.2h0M301.8 202.3h0M312.4 202.6h0M332.8 202.8h0M343.1 202.7h0M353.6 202.8h0M364.2 202.4h0M373.9 202.5h0M384.3 202.0h0M394.3 203.3h0M404.3 201.9h0M414.8 202.3h0M424.4 202.9h0M434.6 202.5h0M455.0 202.7h0M465.5 202.4h0M485.9 202.4h0M495.9 202.2h0M505.7 202.4h0M516.5 202.6h0M527.9 201.5h0M536.8 202.8h0M547.6 202.1h0M557.3 202.5h0M567.7 202.8h0M598.2 202.7h0M608.0 202.9h0M618.6 201.9h0M629.2 202.8h0M638.9 202.2h0M690.6 202.6h0M709.8 202.1h0M720.6 203.0h0M740.9 202.4h0M751.0 202.2h0M760.9 201.8h0M771.5 202.9h0M802.6 202.7h0M832.6 202.6h0M852.5 202.4h0M863.3 202.3h0M873.2 202.7h0M884.1 202.6h0M132.3 206.0h0M142.2 205.7h0M152.2 205.6h0M162.8 206.7h0M173.2 206.6h0M183.8 205.7h0M193.9 205.7h0M204.1 206.6h0M214.2 205.7h0M224.2 205.6h0M234.2 206.4h0M244.8 206.2h0M254.8 206.1h0M264.3 205.9h0M275.3 205.8h0M285.4 206.0h0M295.4 206.3h0M305.9 206.0h0M316.1 206.2h0M325.9 205.5h0M336.2 205.7h0M346.5 205.7h0M356.5 206.6h0M366.8 205.9h0M377.4 205.8h0M397.1 206.2h0M407.8 206.0h0M417.8 206.1h0M428.6 206.2h0M438.8 206.2h0M448.1 206.2h0M458.7 204.9h0M468.5 205.9h0M479.8 206.3h0M540.3 205.9h0M561.0 205.7h0M571.6 205.9h0M581.8 206.0h0M601.5 206.1h0M611.9 205.8h0M621.7 205.8h0M632.2 205.4h0M642.1 205.8h0M652.3 205.9h0M662.9 206.6h0M703.6 206.2h0M714.0 206.2h0M734.9 206.0h0M744.3 206.4h0M775.4 206.1h0M795.3 205.6h0M816.1 206.3h0M846.3 206.0h0M856.4 206.6h0M135.5 208.9h0M145.7 209.1h0M156.3 209.8h0M167.1 208.8h0M176.5 210.0h0M186.9 210.1h0M196.9 209.7h0M207.0 210.3h0M217.9 209.9h0M227.5 209.9h0M237.9 209.3h0M248.2 209.7h0M258.7 209.5h0M268.6 209.2h0M278.3 210.2h0M288.3 209.2h0M298.9 209.7h0M309.3 209.5h0M319.4 209.9h0M330.1 209.1h0M339.7 209.7h0M349.9 209.5h0M359.3 209.6h0M370.3 209.3h0M380.7 209.7h0M390.2 209.2h0M411.2 209.5h0M420.7 209.4h0M432.0 209.4h0M452.2 209.5h0M462.1 209.3h0M472.2 209.2h0M512.7 209.0h0M523.7 209.7h0M533.5 209.6h0M543.7 209.7h0M553.9 208.9h0M563.9 209.2h0M574.6 209.1h0M585.3 210.3h0M594.9 209.5h0M605.1 209.5h0M625.7 209.4h0M707.1 209.4h0M758.0 209.2h0M767.6 208.8h0M809.4 210.3h0M829.3 209.5h0M859.6 209.1h0M129.0 212.6h0M139.3 213.1h0M149.8 213.5h0M160.1 213.2h0M170.6 212.7h0M180.1 212.6h0M190.1 213.1h0M200.0 213.5h0M210.0 212.8h0M220.7 212.8h0M231.1 213.0h0M241.0 213.6h0M251.4 213.7h0M262.2 213.5h0M281.9 212.8h0M291.8 213.4h0M301.9 213.1h0M312.3 212.9h0M322.4 212.9h0M333.1 213.1h0M342.8 213.0h0M353.8 212.3h0M363.7 213.0h0M374.0 213.0h0M384.2 212.9h0M393.7 212.6h0M403.9 213.1h0M415.0 212.6h0M425.0 213.1h0M445.5 213.0h0M454.8 212.3h0M465.7 213.3h0M475.7 213.1h0M496.8 213.4h0M505.9 213.1h0M557.9 213.5h0M567.7 213.4h0M578.4 213.7h0M587.5 213.1h0M618.9 213.1h0M649.5 212.7h0M659.3 212.4h0M669.8 213.5h0M709.2 212.2h0M720.3 212.7h0M730.7 213.6h0M751.3 213.6h0M761.5 212.8h0M823.0 212.6h0M863.3 213.7h0M883.9 212.6h0M132.2 216.6h0M142.4 217.1h0M151.9 217.1h0M162.2 216.3h0M173.1 216.3h0M183.7 216.2h0M193.6 215.6h0M203.3 216.1h0M214.0 217.2h0M225.1 216.0h0M234.1 216.5h0M244.7 216.5h0M254.9 216.5h0M264.5 216.9h0M275.1 216.2h0M286.2 216.7h0M295.1 217.2h0M305.3 216.5h0M315.8 216.6h0M336.1 216.6h0M346.2 216.0h0M356.3 216.8h0M366.8 216.4h0M376.3 216.3h0M388.2 217.0h0M397.6 215.8h0M407.9 215.9h0M418.8 216.5h0M428.0 216.5h0M438.2 216.9h0M448.4 215.6h0M458.5 215.9h0M469.2 216.8h0M499.4 217.0h0M520.1 216.3h0M540.7 216.2h0M570.9 216.4h0M591.2 216.1h0M601.8 216.3h0M612.4 216.9h0M622.1 216.5h0M642.3 216.6h0M652.2 216.4h0M673.5 216.3h0M692.6 215.9h0M714.0 216.8h0M723.0 216.2h0M754.5 216.8h0M785.1 216.9h0M816.2 216.6h0M836.9 217.0h0M856.8 216.1h0M866.9 216.6h0M136.0 220.0h0M146.3 220.0h0M156.3 219.9h0M165.9 219.4h0M176.5 219.5h0M186.8 220.2h0M196.2 219.9h0M207.3 219.8h0M217.6 219.1h0M226.9 220.2h0M237.6 219.5h0M247.2 219.9h0M258.1 219.4h0M268.1 220.5h0M279.2 220.0h0M288.7 220.6h0M309.0 219.5h0M319.8 220.2h0M329.0 220.4h0M339.7 220.7h0M350.0 219.6h0M371.2 220.1h0M380.3 219.7h0M391.2 219.4h0M401.5 219.6h0M411.1 220.3h0M420.9 219.9h0M431.6 220.1h0M441.7 219.8h0M451.6 219.9h0M461.9 220.1h0M482.3 219.8h0M492.3 220.5h0M502.6 220.3h0M584.1 220.4h0M625.0 219.4h0M636.1 219.5h0M645.4 219.5h0M655.6 220.6h0M676.9 220.2h0M696.8 220.4h0M707.3 220.2h0M717.1 220.5h0M737.3 219.9h0M757.3 220.5h0M768.1 219.9h0M788.1 219.9h0M829.6 219.4h0M840.1 220.2h0M879.8 220.1h0M139.2 222.8h0M148.8 224.3h0M159.7 223.6h0M168.9 223.8h0M180.2 223.9h0M190.2 224.1h0M200.9 223.9h0M210.2 223.4h0M220.9 223.7h0M231.0 222.9h0M241.5 224.6h0M250.8 222.7h0M261.3 223.3h0M271.8 223.5h0M281.6 223.6h0M291.7 223.8h0M302.3 223.7h0M312.1 223.7h0M322.6 224.2h0M333.1 223.3h0M343.3 224.0h0M353.9 223.5h0M363.9 223.0h0M374.2 223.2h0M384.3 224.3h0M394.0 224.0h0M404.5 223.6h0M414.6 223.8h0M434.6 223.8h0M445.8 223.7h0M455.5 223.3h0M465.9 222.5h0M476.2 222.9h0M486.5 223.5h0M496.2 224.0h0M506.4 224.0h0M516.5 224.9h0M536.6 223.2h0M547.6 224.3h0M557.3 223.9h0M587.9 224.1h0M608.0 222.9h0M649.7 223.3h0M669.8 223.8h0M690.4 223.0h0M721.2 224.2h0M740.7 223.2h0M761.0 223.3h0M771.5 223.2h0M792.1 223.0h0M822.3 222.7h0M874.6 223.2h0M883.5 224.0h0M132.2 226.6h0M142.6 227.5h0M152.5 227.0h0M162.8 226.6h0M173.5 227.0h0M182.9 226.8h0M193.7 228.0h0M203.7 227.2h0M213.4 226.7h0M224.7 226.5h0M233.8 227.5h0M254.0 226.9h0M264.9 226.9h0M275.3 226.7h0M286.1 226.0h0M295.8 227.4h0M306.2 227.6h0M315.9 226.8h0M325.9 226.1h0M335.8 226.9h0M347.1 227.3h0M356.1 227.4h0M367.5 226.5h0M377.0 227.1h0M387.5 226.4h0M397.1 227.0h0M417.7 226.8h0M428.1 226.4h0M438.0 227.6h0M448.8 226.3h0M459.2 226.8h0M499.3 227.4h0M509.9 227.4h0M520.3 226.8h0M540.7 227.1h0M550.0 226.9h0M611.7 226.7h0M622.4 227.2h0M662.7 227.3h0M713.3 226.6h0M734.3 227.1h0M775.0 227.1h0M785.3 226.9h0M805.2 227.1h0M815.3 226.5h0M835.7 228.0h0M867.4 226.6h0M877.1 227.4h0M887.1 226.6h0M136.2 230.4h0M146.4 230.4h0M156.3 229.3h0M166.2 229.9h0M176.4 230.5h0M187.0 230.6h0M197.1 230.1h0M207.6 229.9h0M217.3 230.7h0M227.4 230.4h0M237.2 230.6h0M247.9 231.1h0M257.9 230.9h0M268.0 230.2h0M278.7 230.6h0M288.7 230.2h0M308.8 230.0h0M319.3 230.0h0M329.9 230.4h0M339.6 230.3h0M349.8 230.9h0M360.2 230.2h0M380.6 230.1h0M391.2 230.4h0M401.0 230.4h0M411.2 230.4h0M420.4 229.8h0M442.3 230.9h0M451.3 230.3h0M462.2 230.1h0M482.2 230.8h0M493.1 230.1h0M513.0 230.6h0M533.5 229.8h0M543.8 230.8h0M553.7 231.0h0M564.1 230.5h0M605.1 230.5h0M615.7 230.7h0M635.5 230.4h0M666.1 230.1h0M687.0 230.0h0M707.2 230.2h0M717.5 230.8h0M727.0 229.8h0M737.2 230.3h0M747.9 229.5h0M768.5 230.5h0M778.8 231.0h0M789.3 230.3h0M830.0 230.5h0M839.5 230.4h0M849.7 229.6h0M870.6 229.9h0M128.4 234.1h0M138.9 234.2h0M149.0 233.8h0M159.7 234.7h0M170.1 234.3h0M180.4 233.6h0M190.4 233.5h0M200.4 233.2h0M210.9 233.3h0M220.8 233.4h0M231.3 234.5h0M241.2 233.8h0M251.9 234.5h0M262.0 234.8h0M272.0 233.8h0M282.0 234.4h0M301.8 234.4h0M313.1 234.5h0M322.8 234.2h0M333.2 234.2h0M343.5 234.0h0M353.6 233.9h0M363.6 233.9h0M374.0 234.4h0M384.1 233.2h0M404.1 233.5h0M414.7 234.1h0M434.6 234.3h0M445.0 234.0h0M454.9 234.0h0M465.4 233.9h0M495.4 233.6h0M516.8 233.8h0M537.1 233.5h0M547.4 234.5h0M598.3 233.4h0M619.4 234.0h0M628.8 234.4h0M649.3 234.4h0M690.3 233.9h0M699.7 233.5h0M730.5 233.0h0M761.3 233.9h0M771.3 234.1h0M812.6 234.7h0M823.1 233.8h0M853.3 233.6h0M132.3 237.8h0M142.2 237.5h0M153.0 237.3h0M163.2 236.9h0M173.2 237.8h0M183.9 237.4h0M193.7 237.5h0M203.8 237.3h0M213.6 236.9h0M224.5 237.6h0M234.2 237.4h0M245.1 237.0h0M255.1 236.6h0M275.4 237.3h0M284.9 237.6h0M296.3 238.1h0M306.1 237.2h0M325.7 237.2h0M336.0 237.3h0M346.9 237.3h0M356.2 237.7h0M367.2 237.8h0M377.0 237.0h0M387.4 238.3h0M397.6 237.5h0M408.3 237.7h0M418.1 237.9h0M427.9 237.2h0M459.6 237.2h0M478.8 237.2h0M489.5 237.7h0M509.8 238.1h0M520.0 237.9h0M530.2 237.2h0M540.5 237.3h0M550.9 236.9h0M581.9 237.1h0M611.7 237.1h0M631.8 237.5h0M713.9 237.7h0M734.3 237.5h0M745.0 237.4h0M754.8 237.3h0M775.6 237.2h0M784.9 237.8h0M795.2 237.7h0M804.9 237.6h0M856.7 238.1h0M866.9 237.1h0M877.1 237.8h0M887.0 237.8h0M135.8 241.2h0M145.4 240.5h0M155.7 241.2h0M166.1 240.6h0M177.8 240.7h0M187.5 241.0h0M197.4 241.3h0M207.3 240.7h0M217.8 241.3h0M227.5 240.6h0M238.0 241.1h0M247.9 241.0h0M258.9 240.9h0M268.6 241.5h0M278.9 240.7h0M288.5 241.4h0M298.3 241.1h0M308.7 241.4h0M319.7 241.5h0M339.6 240.6h0M350.0 241.0h0M359.5 240.7h0M371.0 241.3h0M381.1 241.1h0M391.3 241.0h0M401.4 242.0h0M410.8 240.9h0M441.4 240.7h0M461.7 240.8h0M472.7 240.6h0M482.9 241.1h0M492.8 240.3h0M503.1 241.6h0M513.0 240.1h0M533.1 241.1h0M564.5 240.7h0M574.3 240.9h0M584.7 240.7h0M635.6 241.1h0M738.6 241.4h0M758.1 241.6h0M768.6 240.5h0M778.6 241.4h0M788.8 241.0h0M809.5 240.7h0M819.5 241.0h0M830.1 240.9h0M891.4 241.8h0M128.8 244.3h0M139.5 244.8h0M149.5 244.6h0M159.7 244.3h0M169.3 244.9h0M179.2 243.9h0M190.6 244.6h0M199.8 244.9h0M210.5 244.6h0M221.3 244.8h0M231.0 244.8h0M241.6 244.1h0M251.8 245.1h0M262.0 244.7h0M271.7 244.9h0M282.2 244.3h0M291.8 243.9h0M302.7 244.7h0M312.7 244.4h0M323.0 244.8h0M333.1 245.0h0M342.9 245.8h0M352.7 244.7h0M363.6 244.9h0M384.5 245.2h0M394.5 245.1h0M404.8 244.4h0M414.2 244.4h0M435.2 244.6h0M445.3 243.8h0M475.6 244.9h0M495.9 243.9h0M527.1 244.8h0M548.1 243.7h0M557.1 244.5h0M578.7 244.7h0M587.7 243.9h0M598.2 244.9h0M618.7 244.4h0M629.4 244.4h0M649.8 244.7h0M690.1 244.3h0M700.4 244.0h0M709.9 244.6h0M730.6 244.5h0M741.2 244.6h0M761.0 244.9h0M770.5 244.8h0M782.2 245.0h0M802.0 244.6h0M812.1 245.0h0M822.9 244.6h0M853.3 244.9h0M129.1 244.5h0M140.6 244.8h0M153.0 244.7h0M165.4 245.2h0M176.6 245.6h0M188.7 244.9h0M201.2 245.0h0M211.9 244.8h0M225.4 245.6h0M237.1 245.4h0M249.5 244.7h0M261.6 245.9h0M273.5 245.2h0M284.8 244.5h0M296.8 245.5h0M309.3 245.4h0M321.4 245.2h0M333.2 244.9h0M344.7 245.1h0M356.9 245.1h0M369.4 245.5h0M381.1 244.6h0M393.2 245.9h0M404.9 244.7h0M417.4 245.1h0M429.0 245.0h0M440.6 244.9h0M453.3 245.0h0M465.0 244.8h0M476.2 245.7h0M489.5 244.9h0M500.5 245.8h0M512.8 244.3h0M525.3 246.0h0M536.9 245.4h0M548.4 244.8h0M560.4 245.9h0M572.8 245.3h0M584.4 246.1h0M597.2 244.1h0M608.9 245.0h0M620.6 245.7h0M632.8 246.0h0M644.6 245.0h0M657.5 245.4h0M669.1 244.8h0M681.5 243.9h0M693.1 244.7h0M704.9 245.6h0M717.2 244.1h0M729.3 244.6h0M740.3 244.4h0M752.4 243.5h0M764.6 244.3h0M777.0 244.5h0M788.0 245.7h0M801.4 245.8h0M813.3 244.5h0M825.1 244.7h0M836.6 245.7h0M848.6 245.4h0M860.6 245.3h0M873.1 245.1h0M884.9 244.6h0M135.1 251.8h0M146.5 252.4h0M158.9 252.1h0M171.3 252.2h0M183.4 251.5h0M195.5 252.7h0M206.2 252.8h0M219.1 252.1h0M231.7 252.0h0M242.7 252.4h0M254.5 251.9h0M266.7 252.0h0M279.1 252.4h0M291.0 253.5h0M302.6 252.4h0M315.0 252.7h0M326.4 252.1h0M339.1 252.0h0M352.4 253.3h0M362.8 252.7h0M374.5 252.1h0M387.0 252.5h0M398.9 252.3h0M411.9 252.7h0M423.6 252.7h0M435.3 252.5h0M447.4 252.0h0M458.5 252.7h0M470.6 252.2h0M482.0 252.7h0M494.5 252.4h0M506.7 252.0h0M518.8 252.4h0M530.7 253.8h0M542.5 253.5h0M555.4 252.4h0M566.9 252.0h0M579.7 252.0h0M590.3 253.1h0M603.1 251.6h0M614.8 251.7h0M626.8 252.5h0M639.0 252.5h0M650.5 251.7h0M663.8 252.5h0M674.5 251.8h0M687.6 251.8h0M698.9 252.7h0M709.8 252.3h0M723.5 252.9h0M735.4 253.1h0M746.4 253.0h0M758.5 251.8h0M770.9 252.3h0M783.0 252.9h0M794.9 253.0h0M806.3 252.2h0M819.2 252.2h0M831.2 253.1h0M841.8 253.2h0M855.9 251.6h0M866.7 252.2h0M878.8 251.5h0M890.8 252.0h0M129.1 260.2h0M141.6 259.7h0M152.9 259.6h0M165.4 260.5h0M176.4 261.3h0M189.8 260.0h0M200.3 259.0h0M212.4 260.8h0M225.3 259.5h0M236.6 260.3h0M248.5 259.6h0M262.2 259.1h0M273.6 259.8h0M285.3 260.1h0M296.9 260.0h0M309.1 261.4h0M321.0 259.4h0M333.6 260.5h0M344.3 260.3h0M356.7 260.5h0M368.8 260.4h0M381.0 260.6h0M393.1 260.2h0M404.3 260.4h0M417.2 259.7h0M429.2 260.4h0M440.1 260.1h0M453.1 259.6h0M464.7 260.1h0M477.5 259.6h0M488.4 260.0h0M501.3 259.9h0M513.0 260.0h0M525.2 260.9h0M536.9 260.1h0M548.7 260.2h0M561.5 260.4h0M572.9 259.8h0M584.9 259.6h0M596.4 259.2h0M609.7 259.3h0M620.4 260.8h0M633.4 259.4h0M644.7 260.2h0M656.9 260.0h0M669.0 259.9h0M681.5 260.1h0M692.6 260.1h0M705.0 260.1h0M717.3 259.7h0M729.2 260.1h0M740.9 260.6h0M753.7 260.1h0M765.3 260.1h0M777.1 260.2h0M788.9 259.8h0M801.0 259.4h0M812.8 260.3h0M824.1 260.6h0M837.7 260.1h0M849.0 259.4h0M861.1 259.9h0M872.9 260.0h0M885.2 258.8h0M135.2 267.0h0M146.8 267.0h0M160.3 267.7h0M172.2 266.9h0M183.3 267.9h0M196.4 267.3h0M206.8 267.4h0M218.5 268.6h0M231.1 267.3h0M243.9 267.3h0M254.5 267.2h0M267.2 267.2h0M278.2 267.4h0M291.3 267.5h0M302.6 267.6h0M315.4 267.7h0M326.6 266.5h0M338.3 267.3h0M351.0 268.2h0M363.8 267.6h0M374.5 267.5h0M386.6 267.6h0M398.2 267.9h0M411.3 267.1h0M422.3 267.6h0M435.0 268.0h0M446.8 268.0h0M459.0 267.7h0M471.2 267.5h0M482.8 268.1h0M494.8 267.7h0M506.8 266.9h0M518.0 267.0h0M531.8 267.9h0M543.2 267.1h0M555.5 267.9h0M567.0 267.0h0M580.2 267.0h0M590.8 267.1h0M603.5 268.5h0M615.0 266.4h0M627.7 267.6h0M638.7 266.6h0M651.4 267.3h0M662.4 266.7h0M676.1 267.0h0M687.3 268.3h0M700.6 267.2h0M711.2 267.6h0M723.2 267.5h0M734.9 267.7h0M747.1 267.9h0M759.5 268.4h0M770.1 267.2h0M783.0 267.0h0M795.6 268.1h0M806.4 267.3h0M819.5 268.0h0M831.3 267.6h0M842.6 266.8h0M854.7 268.0h0M866.1 267.4h0M877.7 266.7h0M890.6 266.5h0M129.0 274.5h0M141.0 275.3h0M154.3 275.1h0M165.2 275.5h0M176.2 275.4h0M189.2 274.4h0M200.5 275.6h0M213.1 275.7h0M225.0 274.6h0M237.7 275.3h0M248.7 275.4h0M261.1 274.7h0M273.2 274.4h0M284.5 274.9h0M296.3 275.2h0M308.1 275.1h0M320.6 275.4h0M333.1 274.8h0M345.2 275.5h0M357.0 274.8h0M368.4 274.7h0M381.3 275.3h0M392.6 275.5h0M405.0 274.8h0M417.3 274.9h0M429.3 274.9h0M441.5 274.9h0M452.8 275.2h0M465.1 274.7h0M477.1 275.2h0M489.0 275.7h0M501.2 274.7h0M512.7 275.8h0M525.6 273.7h0M536.4 275.7h0M548.6 275.4h0M561.6 275.5h0M572.8 275.0h0M585.5 274.7h0M597.2 275.0h0M608.7 274.9h0M620.6 275.2h0M632.5 275.3h0M645.7 274.8h0M657.3 275.6h0M668.6 275.0h0M680.9 274.7h0M692.9 274.8h0M704.5 275.3h0M716.9 273.6h0M729.6 274.8h0M741.1 275.3h0M753.4 275.1h0M765.6 274.7h0M776.4 276.1h0M788.9 274.0h0M801.3 274.6h0M813.7 274.1h0M825.5 275.0h0M836.9 274.9h0M849.3 274.1h0M860.2 274.4h0M872.6 276.5h0M886.0 275.6h0M129.6 280.4h0M141.8 279.7h0M154.7 280.3h0M168.0 279.6h0M180.8 280.2h0M194.5 279.5h0M206.7 280.7h0M219.3 279.3h0M232.3 279.9h0M246.0 280.0h0M258.9 279.5h0M271.6 279.8h0M284.9 280.1h0M298.3 280.4h0M311.4 280.2h0M324.2 279.8h0M337.3 279.9h0M349.9 279.1h0M363.3 280.0h0M376.0 279.7h0M389.2 280.4h0M402.1 280.5h0M414.8 280.4h0M428.2 280.2h0M440.9 279.9h0M453.6 279.9h0M468.0 280.3h0M480.1 280.1h0M492.5 279.9h0M506.1 280.0h0M519.0 280.1h0M531.7 279.7h0M544.6 280.3h0M558.4 279.7h0M571.8 280.0h0M583.3 279.7h0M596.9 279.3h0M610.3 279.6h0M622.9 280.0h0M635.6 280.1h0M649.5 280.4h0M661.4 279.9h0M674.6 279.9h0M688.2 279.7h0M700.9 279.5h0M713.5 280.3h0M726.7 281.0h0M739.3 280.6h0M752.5 279.8h0M766.3 280.4h0M779.3 280.0h0M792.2 280.1h0M804.5 279.9h0M818.5 279.8h0M830.7 280.6h0M844.0 279.9h0M856.9 280.1h0M870.1 279.4h0M883.3 279.8h0M134.9 288.8h0M148.3 289.1h0M161.2 289.5h0M174.5 289.2h0M186.9 289.3h0M199.6 288.6h0M213.2 289.2h0M226.1 288.8h0M239.0 288.9h0M252.5 288.8h0M264.7 288.6h0M279.1 289.4h0M291.6 288.3h0M304.4 288.6h0M317.5 288.7h0M330.1 288.8h0M344.4 289.6h0M356.2 288.4h0M368.9 289.6h0M382.7 289.6h0M395.7 289.0h0M408.1 289.4h0M421.9 289.5h0M434.9 289.3h0M446.4 289.1h0M460.3 289.0h0M472.9 289.3h0M485.7 288.6h0M500.1 289.0h0M512.5 289.7h0M525.2 289.5h0M538.3 289.1h0M551.7 288.4h0M563.7 288.5h0M578.0 289.9h0M590.5 288.5h0M603.5 289.0h0M616.3 288.8h0M630.3 288.7h0M642.7 288.9h0M655.2 288.7h0M668.0 288.8h0M681.5 289.2h0M694.2 289.6h0M707.3 289.3h0M720.6 289.0h0M733.7 289.0h0M746.6 289.1h0M759.6 288.9h0M772.6 289.3h0M786.4 289.4h0M798.6 289.5h0M811.3 288.3h0M824.3 289.2h0M836.8 288.3h0M850.2 289.1h0M864.1 288.8h0M876.4 289.1h0M889.3 288.8h0M129.3 298.1h0M141.6 297.9h0M154.4 297.3h0M167.7 297.4h0M180.8 297.5h0M194.4 298.1h0M207.0 297.6h0M220.8 297.5h0M232.6 297.6h0M245.4 298.2h0M259.1 298.1h0M271.9 297.4h0M285.5 298.0h0M298.6 298.2h0M311.3 297.6h0M324.2 298.4h0M336.8 297.7h0M349.6 297.4h0M363.2 297.9h0M375.9 297.7h0M389.1 297.6h0M401.6 297.9h0M414.4 297.9h0M428.4 298.2h0M441.4 297.3h0M453.9 298.9h0M467.6 298.0h0M479.8 297.9h0M493.0 298.2h0M506.4 298.3h0M518.8 298.5h0M531.5 298.1h0M545.2 298.5h0M557.8 298.1h0M570.8 298.1h0M583.8 298.6h0M596.3 297.6h0M610.0 298.2h0M623.1 298.0h0M635.8 297.9h0M648.8 297.8h0M662.0 298.0h0M675.5 297.7h0M687.3 297.7h0M700.6 297.7h0M714.0 298.7h0M726.8 298.1h0M740.3 297.3h0M752.5 297.6h0M766.1 298.0h0M779.4 298.1h0M792.0 297.6h0M804.9 298.6h0M817.7 298.3h0M830.8 298.6h0M843.8 298.2h0M857.7 297.9h0M870.3 298.3h0M883.0 297.4h0M135.8 307.3h0M148.0 306.7h0M161.2 306.8h0M174.9 307.0h0M187.8 305.9h0M200.2 307.6h0M213.3 307.1h0M226.5 306.5h0M240.1 306.9h0M251.9 307.0h0M265.4 307.1h0M278.1 306.6h0M291.6 307.6h0M304.8 307.5h0M316.9 307.4h0M330.3 307.3h0M343.4 307.0h0M356.4 307.3h0M369.3 306.6h0M381.8 306.9h0M395.3 307.2h0M408.9 306.6h0M421.4 307.5h0M435.2 306.9h0M448.1 307.2h0M460.4 307.5h0M472.9 306.8h0M486.5 307.5h0M499.7 307.8h0M513.2 307.1h0M525.2 307.0h0M538.3 306.6h0M551.8 307.2h0M564.5 306.6h0M577.4 307.1h0M590.0 306.4h0M602.9 306.9h0M617.1 306.6h0M629.1 307.4h0M642.7 307.3h0M655.3 306.8h0M669.0 306.9h0M682.0 307.3h0M694.8 307.4h0M707.5 306.7h0M720.4 306.4h0M732.8 306.9h0M746.4 307.1h0M760.1 307.3h0M773.3 307.6h0M785.1 306.6h0M798.6 307.0h0M811.5 306.0h0M824.5 306.8h0M837.7 307.3h0M849.9 306.8h0M863.5 307.6h0M876.8 307.1h0M890.0 307.6h0M129.1 316.0h0M142.1 316.8h0M155.1 316.6h0M168.1 316.4h0M180.3 315.6h0M193.6 315.9h0M206.5 316.2h0M219.7 315.3h0M233.7 316.9h0M246.2 316.1h0M259.3 316.5h0M272.2 316.7h0M285.2 316.3h0M297.6 316.4h0M311.2 316.7h0M324.1 316.4h0M337.2 315.7h0M350.3 315.6h0M362.9 315.7h0M375.6 315.7h0M389.2 316.4h0M401.8 315.7h0M414.8 315.4h0M427.9 315.6h0M441.4 316.6h0M454.3 316.4h0M466.8 315.5h0M480.3 316.0h0M493.0 315.7h0M506.3 316.0h0M519.2 316.3h0M532.3 315.4h0M545.2 316.5h0M558.0 316.1h0M570.9 316.0h0M584.2 315.9h0M597.3 316.6h0M609.8 316.0h0M623.0 316.1h0M635.6 316.0h0M650.1 315.6h0M661.6 316.0h0M675.5 316.1h0M688.4 315.7h0M701.1 316.2h0M714.1 315.9h0M726.8 315.4h0M740.2 315.5h0M753.1 316.0h0M765.6 316.0h0M779.0 316.2h0M791.8 316.6h0M804.7 315.9h0M817.8 315.4h0M830.6 315.9h0M844.0 315.5h0M857.1 316.1h0M870.0 316.5h0M882.6 315.8h0M135.0 325.2h0M148.4 324.7h0M161.2 324.0h0M174.5 325.5h0M187.3 324.9h0M200.9 324.3h0M213.2 325.0h0M226.2 324.3h0M238.6 325.0h0M252.5 325.0h0M265.1 325.1h0M278.4 324.7h0M291.6 324.5h0M304.0 324.5h0M317.4 324.7h0M330.4 324.7h0M342.7 325.0h0M356.4 324.7h0M369.8 324.8h0M382.1 324.7h0M395.7 324.9h0M408.6 324.9h0M421.3 324.6h0M434.4 325.2h0M447.5 325.0h0M460.7 324.6h0M473.4 325.0h0M486.9 325.1h0M500.4 325.2h0M511.8 325.1h0M525.5 324.6h0M538.0 325.3h0M551.5 324.7h0M564.8 325.2h0M576.8 325.0h0M590.7 324.8h0M603.4 324.9h0M616.4 325.1h0M629.6 325.3h0M643.3 325.5h0M655.1 324.9h0M668.6 324.7h0M681.4 324.8h0M694.3 325.2h0M707.0 325.5h0M720.1 324.5h0M733.8 324.8h0M747.1 324.9h0M759.3 325.0h0M772.5 325.3h0M785.9 324.5h0M798.7 324.8h0M811.5 324.6h0M823.9 324.7h0M837.1 324.9h0M850.4 324.9h0M863.4 325.3h0M876.8 325.0h0M889.6 324.5h0M129.1 333.8h0M142.1 332.9h0M155.4 333.9h0M168.4 333.5h0M180.9 334.2h0M193.6 333.9h0M207.3 334.2h0M220.6 334.4h0M233.0 334.0h0M246.4 335.0h0M258.1 334.7h0M272.3 333.3h0M284.7 334.2h0M298.6 333.4h0M311.1 333.6h0M324.3 334.2h0M336.7 334.4h0M350.1 333.2h0M363.2 334.2h0M375.9 333.9h0M389.1 334.2h0M402.9 334.1h0M415.7 334.4h0M428.2 334.2h0M440.8 334.1h0M453.4 334.1h0M466.8 334.2h0M480.0 334.3h0M492.4 333.7h0M506.0 334.6h0M518.1 333.6h0M531.4 334.8h0M545.1 334.4h0M557.7 333.8h0M571.3 334.1h0M584.3 334.8h0M596.8 334.3h0M609.3 333.5h0M622.8 334.3h0M636.0 333.7h0M648.6 333.9h0M661.1 334.7h0M674.9 334.2h0M688.6 334.7h0M701.2 333.4h0M714.1 333.7h0M727.6 333.5h0M739.5 333.1h0M752.9 333.9h0M765.9 334.4h0M778.9 334.3h0M792.4 334.4h0M804.7 333.5h0M818.0 333.5h0M831.3 333.7h0M844.2 333.6h0M856.7 334.5h0M869.4 333.8h0M882.7 334.1h0M135.6 343.2h0M148.4 342.8h0M161.6 343.4h0M174.4 342.3h0M187.8 343.6h0M199.8 342.9h0M214.1 342.7h0M226.3 341.9h0M238.6 343.0h0M252.3 342.7h0M266.3 343.6h0M279.0 342.8h0M291.0 343.1h0M304.3 342.3h0M318.2 342.7h0M330.3 343.9h0M343.0 343.0h0M356.2 343.2h0M370.0 343.2h0M382.7 342.6h0M395.2 342.8h0M409.0 343.5h0M421.4 343.5h0M434.4 342.5h0M447.3 342.8h0M460.8 343.7h0M473.8 342.5h0M485.9 343.4h0M499.1 342.2h0M512.7 342.8h0M525.4 342.6h0M538.3 342.9h0M551.7 343.3h0M565.2 343.4h0M577.2 342.6h0M589.7 343.3h0M603.2 342.8h0M616.2 342.6h0M629.9 342.6h0M642.4 343.0h0M655.4 343.0h0M668.1 343.7h0M681.7 343.3h0M694.4 344.1h0M707.9 343.2h0M720.7 343.1h0M733.9 343.6h0M747.0 343.8h0M760.2 342.9h0M772.0 343.8h0M785.6 342.9h0M798.3 343.4h0M811.4 343.7h0M824.8 343.0h0M837.4 342.4h0M850.8 342.9h0M863.7 343.0h0M877.0 342.8h0M889.6 343.4h0M128.4 352.0h0M141.7 351.6h0M155.1 352.4h0M168.3 351.4h0M180.7 351.8h0M194.8 352.7h0M207.1 351.9h0M220.4 352.9h0M232.6 351.3h0M246.0 352.0h0M259.2 352.7h0M272.2 351.4h0M285.4 351.9h0M297.9 352.1h0M311.5 352.2h0M323.9 352.5h0M337.5 351.0h0M349.8 351.4h0M363.0 352.2h0M375.8 351.8h0M388.7 352.0h0M402.4 351.9h0M415.2 352.3h0M428.1 351.9h0M441.1 352.5h0M454.1 351.9h0M467.1 352.6h0M480.6 352.2h0M493.7 351.9h0M506.3 351.9h0M518.5 351.9h0M531.8 352.3h0M545.5 352.1h0M557.5 351.7h0M571.3 351.6h0M583.6 352.0h0M596.8 352.0h0M610.1 351.7h0M622.7 352.1h0M635.7 351.3h0M649.9 351.8h0M661.6 352.3h0M675.3 352.0h0M688.4 352.1h0M700.8 351.8h0M714.2 351.8h0M726.7 352.1h0M740.1 352.2h0M753.0 352.0h0M766.2 351.9h0M778.1 352.5h0M791.6 352.7h0M804.8 352.0h0M817.7 351.9h0M831.2 351.4h0M843.6 352.5h0M856.8 352.1h0M869.6 351.8h0M883.4 351.9h0M135.9 360.7h0M147.6 360.9h0M161.6 361.3h0M174.6 361.3h0M187.2 360.8h0M200.7 361.1h0M213.4 361.3h0M226.7 361.0h0M238.6 361.2h0M253.1 360.7h0M265.5 360.7h0M278.2 361.3h0M291.4 361.6h0M303.8 360.9h0M318.0 360.8h0M330.7 361.3h0M343.0 361.0h0M355.7 361.3h0M369.9 360.4h0M382.7 360.4h0M395.3 361.4h0M408.2 361.3h0M421.3 361.4h0M435.1 361.5h0M448.5 361.2h0M460.2 360.8h0M473.4 361.2h0M486.1 361.3h0M499.4 360.8h0M512.1 360.6h0M525.5 361.0h0M539.1 361.5h0M552.3 360.9h0M564.3 361.0h0M578.0 361.0h0M590.4 360.7h0M603.3 360.5h0M615.9 360.7h0M629.6 361.0h0M643.0 361.8h0M654.9 361.3h0M668.2 361.0h0M681.6 361.0h0M694.8 360.2h0M707.2 360.8h0M720.9 360.7h0M733.8 360.4h0M746.4 360.9h0M759.4 361.1h0M772.6 361.2h0M785.6 360.8h0M798.5 361.2h0M811.9 360.5h0M824.3 361.3h0M837.1 361.7h0M849.8 360.7h0M863.5 360.8h0M876.3 360.7h0M890.0 361.1h0M129.0 369.6h0M142.2 369.6h0M155.0 369.6h0M167.9 369.7h0M181.4 369.9h0M194.5 370.6h0M207.3 370.0h0M219.2 369.4h0M233.1 370.0h0M246.3 369.8h0M259.6 369.8h0M272.5 370.3h0M285.4 370.1h0M298.1 371.0h0M310.7 369.6h0M324.1 370.4h0M336.4 369.8h0M350.2 369.8h0M363.4 370.2h0M376.3 369.6h0M388.6 371.0h0M401.8 370.7h0M415.2 370.4h0M428.6 369.7h0M442.0 370.5h0M453.9 370.0h0M467.2 369.5h0M479.8 369.9h0M493.9 369.2h0M506.0 370.0h0M519.0 369.9h0M531.6 370.2h0M544.9 370.1h0M558.6 369.8h0M571.0 370.2h0M584.2 370.3h0M597.6 369.5h0M610.1 369.3h0M623.8 369.5h0M635.4 370.1h0M649.0 370.5h0M662.3 370.4h0M674.6 369.6h0M688.4 369.8h0M701.2 370.3h0M714.0 370.0h0M727.1 370.6h0M740.2 370.5h0M753.6 369.8h0M766.2 370.3h0M778.8 370.8h0M792.4 369.8h0M804.8 370.6h0M817.1 370.1h0M831.4 369.5h0M843.7 369.8h0M857.1 370.7h0M870.2 370.4h0M882.5 369.6h0M135.5 379.1h0M148.6 379.3h0M161.4 378.7h0M174.9 378.5h0M187.9 378.4h0M201.0 378.8h0M213.9 379.2h0M226.2 378.2h0M240.3 379.2h0M252.4 379.0h0M265.0 379.1h0M278.7 378.8h0M292.0 379.1h0M304.2 379.2h0M317.3 379.2h0M330.6 379.1h0M343.5 378.6h0M357.1 378.6h0M369.8 379.4h0M383.0 378.7h0M396.1 379.6h0M409.1 378.9h0M422.0 378.7h0M434.5 378.7h0M447.2 379.0h0M460.4 379.6h0M473.5 379.7h0M486.7 379.1h0M499.8 378.1h0M512.8 379.4h0M525.0 378.5h0M538.0 379.1h0M551.7 378.9h0M564.4 379.2h0M577.3 378.9h0M591.1 378.5h0M603.5 379.4h0M616.2 379.3h0M629.2 379.5h0M641.8 379.3h0M655.8 379.5h0M668.7 379.8h0M681.1 379.4h0M693.9 378.6h0M706.9 377.5h0M720.6 378.8h0M733.7 379.0h0M747.0 379.2h0M759.1 380.4h0M771.9 378.7h0M784.8 378.8h0M798.9 379.4h0M811.7 378.9h0M824.7 379.2h0M837.1 378.6h0M850.4 379.2h0M863.0 379.0h0M876.4 379.4h0M889.1 379.2h0M128.9 387.3h0M141.2 388.0h0M153.8 388.6h0M167.5 387.8h0M180.9 387.9h0M194.0 388.5h0M206.6 387.2h0M220.4 388.0h0M233.1 388.3h0M246.4 388.2h0M259.0 388.4h0M272.1 388.3h0M284.5 387.7h0M297.6 387.8h0M311.4 388.5h0M323.5 388.1h0M337.7 387.9h0M349.8 387.8h0M363.0 388.3h0M375.8 387.5h0M389.0 388.0h0M402.4 388.2h0M414.4 388.1h0M427.5 387.8h0M440.4 388.1h0M453.7 388.3h0M467.1 387.5h0M480.0 388.3h0M492.6 388.0h0M505.9 388.6h0M518.8 387.9h0M531.8 388.4h0M544.9 388.7h0M558.1 388.1h0M570.7 387.8h0M584.0 387.2h0M597.0 387.9h0M609.9 387.7h0M622.7 387.5h0M635.8 389.3h0M649.3 387.8h0M662.3 388.0h0M675.6 387.9h0M687.7 387.3h0M700.5 388.4h0M714.2 388.3h0M727.3 388.2h0M740.0 388.8h0M753.1 388.0h0M765.6 388.1h0M779.5 388.1h0M792.2 388.2h0M804.6 387.4h0M818.4 388.0h0M830.7 388.1h0M844.3 387.9h0M856.7 387.6h0M869.9 388.0h0M883.5 388.0h0M135.6 397.5h0M148.7 396.8h0M161.9 396.9h0M174.2 396.3h0M187.9 397.4h0M201.2 397.6h0M213.5 396.4h0M226.6 397.4h0M239.9 397.1h0M252.2 397.3h0M265.8 396.9h0M278.2 396.6h0M291.4 397.0h0M304.7 396.6h0M317.8 397.2h0M329.8 396.9h0M344.0 396.2h0M356.2 396.7h0M369.0 397.6h0M382.7 397.3h0M395.7 397.0h0M408.2 396.3h0M421.6 397.2h0M434.8 396.3h0M447.9 396.1h0M460.2 396.7h0M474.0 396.4h0M486.1 396.9h0M499.2 397.2h0M512.7 397.4h0M525.6 396.6h0M538.3 397.0h0M551.2 396.7h0M564.1 396.9h0M577.2 397.4h0M589.9 397.7h0M603.7 396.9h0M617.1 397.4h0M629.6 396.3h0M642.4 397.0h0M655.8 397.0h0M668.3 396.9h0M681.3 397.5h0M694.5 397.4h0M707.0 396.9h0M720.7 396.9h0M733.2 396.9h0M746.5 397.2h0M760.0 397.0h0M772.0 397.0h0M784.8 397.0h0M799.0 397.7h0M810.9 397.3h0M824.1 396.0h0M837.8 397.4h0M851.5 397.7h0M863.3 397.2h0M876.3 396.9h0M888.8 396.5h0M128.7 406.3h0M142.1 406.4h0M155.1 406.3h0M168.1 405.6h0M180.0 406.0h0M194.1 405.8h0M206.6 405.2h0M220.4 405.5h0M233.6 405.8h0M245.7 406.3h0M259.7 406.0h0M271.9 406.0h0M284.8 405.0h0M298.1 406.4h0M310.1 405.9h0M324.2 405.8h0M336.8 406.3h0M350.0 406.6h0M364.4 406.3h0M376.0 406.6h0M388.8 406.7h0M402.4 405.8h0M414.4 406.5h0M427.6 406.1h0M441.1 406.3h0M453.7 405.5h0M467.2 406.4h0M480.7 406.2h0M492.6 405.5h0M505.9 405.5h0M519.2 406.1h0M532.1 406.3h0M544.9 405.7h0M558.4 405.6h0M570.9 406.2h0M584.5 406.0h0M596.7 405.5h0M610.1 406.2h0M623.0 405.4h0M636.4 405.2h0M649.2 406.4h0M662.1 406.2h0M675.4 405.0h0M688.7 405.8h0M701.4 405.7h0M713.9 405.2h0M726.8 406.5h0M740.8 405.6h0M753.1 405.9h0M766.1 405.8h0M778.9 405.6h0M792.3 406.4h0M805.4 406.3h0M818.0 406.3h0M831.8 405.9h0M843.8 405.6h0M856.8 406.1h0M870.1 405.3h0M883.0 405.8h0M135.2 415.5h0M148.1 415.0h0M161.2 415.3h0M174.9 414.7h0M187.5 414.8h0M201.4 414.8h0M213.3 414.7h0M226.7 415.3h0M239.7 414.9h0M252.2 415.0h0M265.7 415.1h0M278.5 415.1h0M291.1 415.2h0M304.1 415.7h0M317.6 415.2h0M330.7 414.6h0M344.9 415.5h0M357.3 415.0h0M369.0 414.7h0M381.9 415.2h0M396.1 415.2h0M408.3 415.3h0M421.4 414.7h0M434.5 415.3h0M447.6 415.4h0M460.4 415.1h0M473.5 414.8h0M486.7 414.9h0M498.9 415.5h0M512.5 415.4h0M525.7 414.9h0M538.4 415.4h0M551.3 415.2h0M564.3 415.1h0M577.7 415.1h0M590.4 414.6h0M603.4 415.3h0M616.8 414.3h0M629.9 414.9h0M642.5 414.8h0M655.3 414.9h0M669.2 415.6h0M681.5 414.6h0M694.5 415.5h0M706.9 415.1h0M720.2 414.4h0M733.0 414.7h0M746.8 414.9h0M758.9 415.3h0M773.2 415.0h0M784.9 415.0h0M798.5 415.0h0M811.7 415.1h0M824.7 415.0h0M837.2 415.3h0M850.1 415.4h0M863.8 414.4h0M876.3 415.0h0M889.8 415.4h0M128.1 424.0h0M142.1 423.2h0M154.5 423.7h0M168.2 423.5h0M180.9 424.1h0M193.9 423.9h0M206.5 424.1h0M220.3 423.2h0M233.1 424.4h0M246.3 424.4h0M259.0 424.7h0M271.7 424.1h0M284.7 424.4h0M297.7 423.8h0M311.5 423.8h0M324.1 424.4h0M337.7 423.8h0M350.2 424.1h0M362.5 424.2h0M376.3 424.2h0M388.8 424.0h0M402.3 423.6h0M414.6 424.2h0M427.0 423.6h0M440.8 424.7h0M454.0 423.7h0M466.6 423.8h0M480.0 423.5h0M493.1 423.7h0M506.2 423.9h0M519.2 423.9h0M531.9 424.5h0M544.3 423.5h0M558.1 424.4h0M571.0 424.0h0M584.5 424.3h0M596.9 424.1h0M610.3 424.0h0M623.7 424.6h0M636.5 424.1h0M649.7 424.2h0M661.9 424.6h0M675.3 423.8h0M688.4 423.0h0M701.2 424.7h0M714.3 424.5h0M727.3 424.0h0M740.5 424.2h0M752.6 424.2h0M766.7 424.6h0M779.1 423.8h0M792.1 423.9h0M805.5 424.4h0M818.2 424.2h0M831.5 424.5h0M844.1 424.1h0M856.9 424.3h0M870.1 423.6h0M882.9 424.0h0M134.9 433.2h0M149.2 432.6h0M161.9 433.2h0M174.3 432.8h0M187.4 432.1h0M200.4 433.8h0M213.7 433.0h0M227.0 433.2h0M238.8 433.3h0M252.4 432.8h0M265.6 432.6h0M278.2 433.1h0M292.0 432.3h0M304.5 432.8h0M317.5 432.9h0M330.5 432.5h0M343.7 433.1h0M356.2 433.0h0M369.6 433.4h0M382.0 433.3h0M395.8 432.7h0M408.8 432.9h0M421.7 432.6h0M434.5 433.3h0M447.5 432.9h0M461.2 433.1h0M473.5 433.2h0M486.0 432.3h0M499.6 433.3h0M512.4 432.7h0M525.8 433.0h0M538.5 432.9h0M551.2 432.4h0M564.4 434.1h0M577.4 432.6h0M590.3 433.2h0M603.9 432.9h0M616.3 432.8h0M630.5 432.9h0M642.0 432.7h0M655.0 433.6h0M668.3 433.2h0M681.7 433.2h0M694.8 432.6h0M707.4 432.7h0M721.1 433.2h0M733.1 433.4h0M746.6 433.6h0M759.6 432.9h0M772.8 432.8h0M785.6 433.2h0M798.8 433.2h0M812.0 433.1h0M824.3 433.5h0M838.3 432.5h0M850.8 433.4h0M863.4 432.8h0M876.4 432.5h0M889.4 432.7h0M128.3 441.2h0M142.2 442.2h0M155.1 441.8h0M168.0 442.4h0M181.6 441.6h0M193.6 441.4h0M207.5 442.1h0M219.8 441.5h0M233.4 442.0h0M246.3 441.6h0M258.7 441.3h0M271.7 441.9h0M284.9 441.4h0M297.8 442.3h0M310.7 442.0h0M324.0 442.5h0M336.9 441.8h0M350.4 442.4h0M363.0 441.8h0M376.0 441.9h0M389.2 442.0h0M401.5 442.1h0M415.3 441.8h0M427.9 441.6h0M441.1 442.8h0M454.3 442.1h0M466.6 441.4h0M479.5 442.6h0M493.0 441.6h0M505.9 441.7h0M518.7 442.1h0M531.8 442.4h0M544.4 441.7h0M558.7 441.8h0M570.1 442.5h0M583.6 442.4h0M597.8 442.0h0M609.4 442.2h0M623.9 441.3h0M636.0 442.1h0M649.2 441.8h0M662.4 442.2h0M674.9 442.0h0M689.1 441.9h0M701.5 442.4h0M713.8 442.1h0M727.2 442.1h0M740.2 441.8h0M752.8 441.8h0M765.7 442.0h0M778.7 441.8h0M791.8 441.6h0M805.2 441.7h0M818.1 441.9h0M831.2 441.5h0M843.6 442.0h0M857.1 441.4h0M869.5 441.9h0M883.0 441.8h0M135.8 451.2h0M148.5 451.4h0M161.4 451.0h0M175.1 451.2h0M187.6 451.2h0M200.7 451.1h0M213.0 451.4h0M227.0 451.6h0M239.7 451.7h0M253.0 450.9h0M265.6 450.7h0M278.7 451.2h0M291.8 450.7h0M304.0 451.4h0M317.4 451.0h0M330.6 450.8h0M343.2 451.4h0M356.4 450.8h0M369.0 451.4h0M381.3 451.3h0M395.5 451.5h0M409.1 451.2h0M422.0 451.3h0M434.3 450.8h0M447.3 450.8h0M460.0 451.0h0M473.6 451.5h0M486.8 450.1h0M500.0 450.8h0M512.2 451.1h0M524.9 451.7h0M538.5 451.7h0M551.9 451.0h0M564.4 450.7h0M577.8 451.1h0M590.3 450.6h0M603.9 451.9h0M617.3 451.3h0M629.5 451.0h0M642.8 451.3h0M655.5 451.4h0M667.9 451.2h0M682.2 451.3h0M694.4 451.1h0M707.8 450.5h0M720.0 450.7h0M733.8 451.9h0M746.2 451.2h0M759.1 450.7h0M771.6 450.9h0M785.6 450.8h0M798.8 451.7h0M811.7 450.8h0M823.8 450.7h0M837.5 450.9h0M849.9 450.9h0M864.0 451.2h0M876.5 450.8h0M889.7 450.7h0M128.2 459.7h0M141.6 459.8h0M155.3 459.9h0M167.8 459.7h0M180.0 460.3h0M193.9 459.6h0M207.7 460.2h0M219.8 460.2h0M232.7 459.5h0M246.0 459.8h0M258.0 460.1h0M272.2 460.1h0M285.2 460.3h0M297.7 460.2h0M310.4 459.7h0M324.5 460.8h0M336.8 459.8h0M350.3 459.5h0M363.0 460.3h0M376.1 460.0h0M388.6 459.5h0M402.9 460.0h0M415.4 459.4h0M428.5 460.0h0M440.6 459.7h0M453.0 459.3h0M466.9 460.4h0M479.5 460.5h0M492.9 460.3h0M505.4 460.2h0M519.1 459.7h0M532.0 459.7h0M544.9 460.0h0M558.2 460.1h0M571.0 460.6h0M584.0 459.9h0M597.1 460.5h0M609.2 459.9h0M623.5 460.9h0M635.7 460.0h0M648.9 460.0h0M662.5 459.8h0M675.1 459.8h0M688.1 459.2h0M701.2 460.3h0M714.1 459.9h0M727.0 460.3h0M740.6 460.5h0M753.0 460.2h0M765.4 460.0h0M778.7 459.9h0M792.2 459.5h0M804.8 460.1h0M817.8 459.9h0M831.0 460.1h0M844.4 460.1h0M856.9 460.1h0M869.8 459.7h0M883.5 460.0h0M135.2 468.6h0M148.3 469.3h0M162.0 469.1h0M174.8 468.5h0M186.9 468.9h0M200.9 469.4h0M213.8 468.3h0M226.8 468.4h0M239.6 469.0h0M251.7 469.2h0M264.5 469.8h0M277.8 468.1h0M291.4 469.2h0M304.1 469.2h0M317.4 468.7h0M331.1 469.1h0M343.7 469.2h0M357.1 468.1h0M369.3 468.8h0M382.0 469.1h0M395.5 469.7h0M408.2 469.3h0M421.4 469.1h0M434.6 469.7h0M447.6 469.1h0M461.2 468.7h0M473.3 468.9h0M486.7 469.0h0M500.3 470.1h0M512.9 469.0h0M525.5 469.1h0M538.7 469.0h0M551.5 469.9h0M564.5 469.2h0M576.6 468.8h0M590.3 468.5h0M604.0 467.9h0M617.0 469.7h0M629.2 469.1h0M642.9 469.0h0M655.5 468.7h0M668.6 469.3h0M681.0 469.0h0M694.6 469.5h0M707.3 468.8h0M720.3 468.9h0M733.0 469.0h0M746.9 468.9h0M758.8 469.4h0M772.8 468.9h0M784.8 468.5h0M798.3 469.2h0M811.2 468.5h0M824.6 468.3h0M837.2 469.0h0M850.6 468.5h0M862.9 469.2h0M876.0 468.5h0M889.1 468.9h0M129.1 478.4h0M142.2 477.4h0M154.8 477.6h0M168.1 478.2h0M181.0 478.0h0M194.0 478.7h0M206.9 478.1h0M220.3 478.4h0M233.0 477.5h0M246.0 477.7h0M258.9 477.4h0M271.2 477.9h0M284.5 478.0h0M297.7 477.6h0M311.0 477.8h0M324.2 477.9h0M337.2 477.7h0M350.0 478.3h0M362.8 477.9h0M375.6 477.8h0M388.9 477.9h0M401.6 477.7h0M414.9 477.9h0M427.7 477.2h0M441.5 478.5h0M453.9 477.9h0M467.5 477.9h0M480.3 477.0h0M493.4 478.2h0M505.8 478.0h0M519.3 478.0h0M532.0 477.9h0M545.3 478.5h0M558.3 478.4h0M570.9 478.4h0M584.1 478.6h0M597.1 477.9h0M610.1 478.0h0M623.5 478.2h0M636.1 478.2h0M648.9 478.0h0M661.6 478.0h0M675.3 477.8h0M688.0 477.8h0M701.4 477.6h0M714.4 478.3h0M726.9 478.1h0M739.5 478.1h0M753.6 477.7h0M766.0 477.8h0M779.3 478.0h0M791.8 477.6h0M804.7 478.4h0M817.0 477.7h0M831.4 478.1h0M844.2 477.7h0M857.4 477.7h0M870.0 478.0h0M883.2 478.1h0M134.9 487.1h0M148.1 487.2h0M161.6 486.8h0M174.5 487.3h0M187.9 486.4h0M200.4 487.5h0M213.9 487.4h0M226.4 487.1h0M238.7 486.9h0M252.4 486.3h0M265.3 487.3h0M278.7 486.9h0M291.9 487.0h0M304.1 487.0h0M317.5 486.4h0M330.7 487.2h0M343.7 486.8h0M357.4 486.3h0M369.2 486.6h0M382.1 487.3h0M396.2 486.8h0M408.8 487.4h0M421.6 486.9h0M434.5 487.9h0M447.1 486.9h0M460.5 487.3h0M473.8 486.9h0M486.6 486.6h0M500.0 486.4h0M512.5 486.1h0M525.9 487.0h0M537.9 486.7h0M551.8 486.6h0M564.7 486.6h0M577.3 487.4h0M590.2 486.9h0M603.4 487.8h0M616.3 486.8h0M629.6 487.2h0M642.8 486.8h0M654.9 486.2h0M668.9 487.0h0M681.4 486.9h0M693.8 487.2h0M707.1 486.8h0M719.9 487.0h0M733.6 486.1h0M746.7 486.6h0M759.4 487.0h0M772.6 487.4h0M785.4 487.1h0M798.8 487.4h0M811.1 487.4h0M824.1 486.8h0M837.0 487.3h0M850.2 487.0h0M863.5 486.9h0M876.4 487.1h0M889.3 487.5h0M128.7 495.6h0M141.7 496.0h0M155.0 496.3h0M168.0 495.3h0M181.4 496.8h0M194.1 496.1h0M207.0 495.6h0M220.0 496.4h0M232.9 496.1h0M245.5 495.4h0M258.8 496.2h0M272.3 495.9h0M285.1 495.9h0M298.7 495.5h0M311.3 495.8h0M323.8 496.3h0M336.5 496.2h0M350.3 496.5h0M362.4 495.9h0M375.8 495.3h0M389.4 496.7h0M401.1 495.2h0M415.2 496.0h0M427.9 496.5h0M441.0 496.2h0M454.7 495.9h0M466.2 496.4h0M479.5 495.4h0M492.8 496.5h0M506.0 496.4h0M518.1 495.7h0M531.7 496.2h0M544.6 495.9h0M558.2 496.2h0M570.8 495.7h0M584.8 496.4h0M597.0 495.1h0M610.2 495.9h0M622.6 496.1h0M635.9 495.9h0M649.0 496.0h0M662.1 495.8h0M674.6 496.7h0M687.9 496.6h0M701.5 495.9h0M713.7 495.9h0M726.7 496.1h0M739.6 495.8h0M752.2 495.1h0M766.2 495.9h0M778.8 495.9h0M792.1 496.1h0M805.1 496.3h0M817.6 495.7h0M830.6 496.1h0M844.4 495.9h0M856.2 495.9h0M869.7 495.7h0M882.3 495.8h0M135.7 504.6h0M148.0 505.2h0M161.8 506.0h0M175.2 504.7h0M187.9 504.8h0M201.1 504.9h0M213.5 504.6h0M226.4 505.4h0M239.7 505.3h0M252.1 504.7h0M266.0 505.3h0M278.6 504.7h0M291.6 505.2h0M304.8 505.2h0M317.2 505.3h0M330.7 504.6h0M343.0 504.5h0M357.3 504.7h0M370.0 505.3h0M382.7 504.4h0M395.4 505.0h0M408.2 505.1h0M421.9 504.9h0M433.8 504.5h0M447.8 505.5h0M460.8 506.0h0M472.9 504.7h0M485.8 505.0h0M499.8 505.0h0M511.9 504.9h0M525.8 505.2h0M538.3 504.8h0M552.2 505.0h0M564.6 506.3h0M578.5 505.1h0M590.0 505.5h0M603.2 504.6h0M616.2 505.0h0M629.5 504.7h0M642.2 505.2h0M655.4 505.1h0M669.0 504.4h0M682.1 505.1h0M694.2 504.2h0M707.4 504.5h0M720.9 505.1h0M732.9 504.9h0M746.7 505.4h0M759.1 505.8h0M772.0 505.1h0M785.6 505.3h0M798.8 505.3h0M810.8 504.6h0M823.4 504.3h0M837.1 504.9h0M850.7 505.2h0M863.8 504.5h0M876.7 504.5h0M889.5 505.2h0M128.8 513.9h0M142.4 514.2h0M155.0 513.6h0M167.7 513.9h0M180.7 513.6h0M193.8 513.3h0M207.5 514.0h0M220.0 514.0h0M232.6 514.1h0M245.8 513.9h0M258.8 513.9h0M272.0 513.9h0M284.3 513.9h0M297.7 514.6h0M310.7 514.4h0M323.7 514.0h0M337.1 513.3h0M349.2 514.3h0M363.3 513.9h0M375.8 513.8h0M389.2 513.7h0M401.4 514.2h0M414.8 514.0h0M427.7 513.9h0M441.1 514.5h0M454.2 514.8h0M466.6 513.6h0M480.3 512.9h0M493.5 513.7h0M505.4 513.8h0M519.2 514.5h0M532.1 514.2h0M545.2 514.3h0M558.4 514.2h0M571.2 514.0h0M584.7 512.8h0M597.3 514.1h0M610.2 514.4h0M623.3 514.4h0M636.2 513.7h0M648.8 513.5h0M662.7 514.6h0M675.2 514.8h0M688.1 513.9h0M701.1 514.1h0M714.0 514.0h0M726.8 514.2h0M740.2 513.6h0M754.1 513.8h0M765.7 513.7h0M778.7 513.8h0M792.6 513.2h0M805.0 513.3h0M817.8 514.3h0M830.4 514.4h0M843.7 513.9h0M856.9 513.8h0M869.5 513.9h0M882.9 513.6h0M135.4 523.0h0M148.6 523.1h0M161.2 523.4h0M174.0 522.8h0M187.5 522.7h0M200.3 523.1h0M213.5 522.8h0M226.3 522.7h0M239.8 522.6h0M252.9 523.0h0M264.6 522.9h0M278.9 522.6h0M291.4 522.6h0M304.2 523.4h0M317.2 523.0h0M330.2 523.3h0M343.6 523.6h0M356.8 522.8h0M369.4 523.1h0M381.6 523.2h0M396.2 522.9h0M408.6 522.8h0M421.1 522.8h0M433.9 522.0h0M447.8 522.8h0M461.0 522.9h0M473.9 523.3h0M486.7 522.2h0M499.2 522.4h0M513.2 522.8h0M525.3 522.4h0M538.2 523.2h0M551.7 523.0h0M564.2 522.9h0M578.2 523.6h0M590.3 522.8h0M604.0 522.7h0M616.4 523.7h0M629.5 523.2h0M641.9 523.1h0M655.7 522.6h0M668.8 522.9h0M681.6 523.3h0M694.5 523.1h0M708.2 523.1h0M720.6 523.5h0M733.9 523.2h0M747.1 522.9h0M759.9 522.6h0M772.0 522.5h0M785.5 523.3h0M798.1 522.3h0M811.8 523.3h0M824.2 523.2h0M836.6 522.1h0M850.6 522.9h0M863.3 522.7h0M876.3 523.5h0M889.0 522.3h0M128.8 532.0h0M141.9 532.0h0M154.9 532.0h0M167.6 531.7h0M181.0 532.2h0M193.5 532.3h0M206.8 531.9h0M219.5 531.8h0M233.2 532.1h0M245.8 532.1h0M259.5 532.3h0M271.8 532.0h0M284.5 531.6h0M297.8 531.9h0M310.9 532.5h0M324.3 531.9h0M337.0 532.1h0M349.9 532.1h0M362.9 531.7h0M375.7 532.1h0M389.0 532.3h0M402.2 531.9h0M414.6 532.4h0M427.8 531.8h0M440.8 532.3h0M454.4 532.2h0M466.6 532.1h0M479.8 531.8h0M493.1 531.8h0M505.8 531.8h0M519.5 531.6h0M531.6 532.0h0M544.8 531.9h0M557.7 531.7h0M571.1 531.8h0M583.4 532.2h0M597.1 532.5h0M610.0 531.9h0M622.3 531.9h0M635.8 532.9h0M648.6 532.4h0M661.9 532.4h0M674.7 532.4h0M687.7 532.2h0M701.1 531.9h0M713.7 532.5h0M726.6 531.8h0M740.8 532.1h0M752.8 532.3h0M765.7 532.0h0M779.4 531.5h0M792.6 531.7h0M805.4 531.5h0M817.5 531.6h0M830.7 531.7h0M845.3 531.4h0M857.3 532.5h0M870.0 531.6h0M882.9 531.6h0M135.6 540.8h0M148.4 540.8h0M161.6 540.2h0M174.9 541.1h0M188.1 540.4h0M200.6 541.3h0M214.0 541.0h0M226.8 541.2h0M238.9 540.8h0M252.1 541.3h0M265.8 540.5h0M278.4 541.5h0M290.8 540.7h0M303.1 541.9h0M317.4 541.5h0M330.8 541.9h0M343.2 540.2h0M356.5 541.0h0M369.6 541.2h0M382.4 541.3h0M395.4 540.6h0M408.7 540.4h0M421.8 541.5h0M434.7 540.6h0M446.6 541.6h0M460.2 541.3h0M474.1 540.5h0M486.1 540.7h0M499.4 541.6h0M512.9 541.1h0M525.1 540.2h0M539.0 540.6h0M551.7 540.5h0M564.2 540.7h0M577.5 541.0h0M590.1 540.6h0M603.1 540.6h0M616.6 541.4h0M629.4 541.3h0M643.1 541.0h0M656.3 540.8h0M668.4 540.6h0M682.1 540.8h0M694.6 540.8h0M708.1 540.8h0M720.1 541.0h0M733.1 540.0h0M746.4 541.1h0M759.8 541.6h0M772.1 541.3h0M785.3 540.8h0M798.0 540.9h0M811.5 541.3h0M824.1 540.8h0M836.9 541.0h0M850.3 541.2h0M863.6 540.9h0M876.4 540.9h0M889.4 540.4h0M128.9 549.6h0M141.8 549.5h0M154.5 549.7h0M168.4 549.7h0M180.5 549.8h0M194.3 549.7h0M207.2 550.6h0M219.8 550.4h0M233.1 550.1h0M246.1 550.7h0M258.7 549.9h0M272.4 550.1h0M285.1 550.4h0M297.8 550.0h0M310.9 550.5h0M323.6 549.4h0M336.6 549.6h0M350.5 549.8h0M362.2 549.9h0M375.7 549.5h0M389.6 550.6h0M401.9 550.8h0M415.0 550.3h0M428.1 549.6h0M440.6 549.4h0M454.8 550.0h0M466.5 549.6h0M480.1 550.0h0M492.4 550.4h0M505.8 550.3h0M519.0 549.8h0M531.6 550.0h0M545.0 550.2h0M558.0 550.3h0M571.2 549.7h0M584.3 549.5h0M597.3 549.8h0M609.8 550.0h0M623.3 549.9h0M636.1 550.1h0M649.5 550.0h0M661.8 549.8h0M675.2 550.4h0M688.7 550.1h0M701.3 549.7h0M714.4 549.8h0M727.3 549.6h0M739.9 549.9h0M753.4 550.0h0M766.4 550.1h0M778.8 549.5h0M791.6 549.7h0M805.8 550.2h0M818.0 549.7h0M831.1 549.7h0M844.0 549.6h0M856.6 550.1h0M869.5 549.3h0M883.3 550.3h0M135.4 558.4h0M149.2 559.4h0M161.5 559.4h0M174.1 559.0h0M187.0 559.0h0M199.9 558.5h0M213.9 559.0h0M226.6 558.8h0M239.6 558.7h0M252.6 559.2h0M265.5 559.0h0M278.2 559.0h0M292.4 559.5h0M304.5 559.1h0M317.4 559.7h0M330.1 559.0h0M343.4 559.0h0M356.8 558.8h0M369.7 559.2h0M382.4 559.4h0M395.7 559.3h0M409.0 559.3h0M421.9 558.6h0M434.5 559.3h0M447.2 559.2h0M460.9 559.7h0M472.8 559.3h0M487.1 559.3h0M499.8 559.4h0M511.9 559.8h0M525.7 558.9h0M538.7 559.0h0M551.8 558.7h0M565.0 558.3h0M577.6 558.7h0M589.9 558.8h0M602.9 558.9h0M616.5 558.9h0M629.2 558.2h0M642.2 558.6h0M655.3 558.7h0M669.0 558.8h0M681.3 558.6h0M694.6 559.3h0M707.6 559.6h0M720.5 559.1h0M734.2 558.2h0M746.0 558.4h0M758.9 558.8h0M772.4 558.8h0M786.3 558.3h0M798.1 558.6h0M811.6 559.6h0M824.4 559.8h0M837.6 559.2h0M849.6 558.9h0M864.2 558.6h0M876.6 559.3h0M889.3 559.0h0M129.4 568.1h0M141.3 568.3h0M155.0 567.3h0M168.6 568.3h0M181.1 567.6h0M194.1 567.9h0M207.4 567.5h0M219.8 568.4h0M232.8 567.8h0M245.4 567.7h0M258.9 567.5h0M271.8 568.2h0M284.6 568.1h0M297.8 567.6h0M310.8 567.2h0M324.1 567.7h0M337.6 567.8h0M349.7 567.4h0M362.9 567.8h0M375.4 567.4h0M389.1 567.5h0M401.8 568.0h0M415.4 568.2h0M428.4 567.8h0M440.9 568.5h0M453.4 568.0h0M466.4 567.0h0M479.9 568.1h0M493.7 569.1h0M506.2 568.4h0M519.0 567.3h0M532.1 568.4h0M545.6 568.3h0M558.5 567.5h0M571.3 568.0h0M584.3 568.3h0M597.0 567.6h0M610.1 567.8h0M622.5 567.9h0M636.0 568.4h0M649.2 567.9h0M661.8 567.8h0M674.7 567.6h0M687.4 567.3h0M701.3 568.7h0M713.8 567.9h0M727.7 567.9h0M740.0 568.1h0M752.6 567.7h0M765.6 567.8h0M779.1 567.9h0M792.7 567.5h0M804.6 568.2h0M817.6 567.6h0M831.5 568.0h0M843.8 568.2h0M856.9 568.5h0M870.2 567.9h0M882.6 567.7h0M135.9 577.4h0M148.6 577.3h0M162.0 577.1h0M175.0 576.6h0M187.6 577.1h0M200.5 576.4h0M213.8 577.5h0M226.6 577.5h0M240.2 576.3h0M252.9 576.4h0M265.6 576.5h0M279.0 577.2h0M290.6 577.4h0M304.6 576.9h0M317.6 577.3h0M330.5 577.3h0M343.6 576.6h0M356.4 577.4h0M370.2 577.1h0M382.3 577.0h0M395.8 577.7h0M408.5 577.7h0M421.7 577.0h0M435.0 577.0h0M447.3 577.4h0M461.0 577.3h0M473.4 577.1h0M486.6 577.6h0M500.4 577.0h0M512.4 576.8h0M525.2 577.1h0M539.0 577.4h0M551.8 576.3h0M564.6 576.5h0M577.3 576.8h0M591.0 576.4h0M603.8 576.3h0M616.1 577.0h0M629.2 576.8h0M642.5 576.6h0M655.4 577.1h0M668.0 576.8h0M681.6 576.4h0M694.7 576.8h0M707.2 577.3h0M719.9 577.3h0M733.8 576.5h0M747.6 577.1h0M759.8 577.2h0M772.9 577.9h0M785.4 576.9h0M798.0 577.6h0M812.0 577.8h0M824.8 576.5h0M837.8 577.1h0M850.8 577.1h0M864.3 576.6h0M876.5 577.6h0M889.8 577.0h0M128.1 585.8h0M141.8 586.8h0M153.8 586.3h0M167.3 586.0h0M182.0 586.4h0M193.5 585.0h0M206.4 586.1h0M220.0 586.5h0M233.1 585.8h0M246.4 586.4h0M258.8 586.6h0M272.1 585.9h0M284.6 586.6h0M297.8 586.2h0M311.4 586.1h0M323.6 585.7h0M336.8 585.2h0M350.0 586.5h0M363.8 586.9h0M375.5 586.7h0M389.2 586.5h0M401.9 585.6h0M415.0 585.9h0M427.7 586.6h0M440.8 586.1h0M454.4 586.5h0M467.8 585.5h0M479.6 585.8h0M493.4 585.9h0M506.2 585.8h0M519.1 586.6h0M531.8 586.1h0M545.1 585.5h0M559.1 586.0h0M570.7 586.1h0M583.8 586.1h0M597.5 586.2h0M610.2 586.1h0M622.8 586.1h0M635.9 585.7h0M649.3 585.7h0M661.8 585.7h0M675.0 585.5h0M688.0 586.2h0M701.7 586.4h0M713.4 586.1h0M727.2 586.2h0M739.9 586.0h0M753.2 585.9h0M765.6 585.8h0M778.5 586.0h0M791.8 586.2h0M805.7 585.5h0M818.0 586.0h0M831.5 586.1h0M844.0 585.7h0M856.3 586.1h0M870.0 585.9h0M883.4 585.9h0M135.4 594.8h0M148.6 594.7h0M160.9 595.1h0M174.2 595.1h0M187.2 595.1h0M200.4 594.3h0M213.6 594.5h0M227.0 594.9h0M239.0 594.9h0M253.2 595.8h0M265.9 594.5h0M278.0 594.3h0M291.4 595.7h0M304.5 594.8h0M317.6 595.1h0M330.2 594.9h0M343.4 595.0h0M356.3 595.3h0M369.3 595.4h0M382.5 595.6h0M396.1 595.5h0M409.0 595.6h0M421.4 594.3h0M435.0 595.2h0M447.5 594.6h0M460.1 595.2h0M474.3 595.1h0M485.8 595.2h0M499.9 594.3h0M512.1 595.3h0M525.6 594.9h0M538.6 594.9h0M550.5 594.6h0M564.3 595.1h0M577.1 595.1h0M590.4 595.1h0M602.9 594.4h0M617.3 594.9h0M629.3 595.2h0M641.4 594.5h0M656.7 594.4h0M668.5 595.2h0M681.6 594.2h0M694.8 595.2h0M707.1 595.0h0M720.7 595.6h0M733.9 595.2h0M745.9 595.1h0M759.6 595.4h0M772.6 594.5h0M786.1 594.9h0M798.1 594.7h0M811.6 595.1h0M825.2 596.1h0M837.7 595.5h0M850.4 595.1h0M863.5 594.9h0M876.1 595.6h0M890.0 595.9h0M129.1 603.1h0M142.1 604.3h0M155.8 603.8h0M167.8 603.7h0M180.9 604.5h0M193.0 603.7h0M206.9 603.9h0M220.9 603.4h0M232.8 604.3h0M246.4 603.5h0M258.5 603.5h0M271.8 604.2h0M285.5 604.0h0M297.3 603.9h0M311.3 604.5h0M324.5 603.8h0M337.5 604.4h0M350.4 604.0h0M363.0 603.9h0M376.5 603.9h0M388.9 603.9h0M401.9 604.4h0M415.1 604.1h0M427.7 604.0h0M441.1 603.8h0M454.2 603.3h0M466.4 604.1h0M479.6 604.1h0M492.9 603.7h0M505.8 604.3h0M519.5 604.3h0M532.2 604.0h0M545.1 603.9h0M557.7 605.0h0M570.5 604.0h0M583.6 603.5h0M597.1 604.1h0M610.3 603.8h0M623.0 603.6h0M635.7 603.7h0M648.9 604.4h0M661.8 603.6h0M675.1 603.8h0M688.0 603.7h0M700.5 603.6h0M714.0 604.0h0M726.8 603.4h0M739.5 603.8h0M752.8 604.2h0M766.0 603.9h0M779.4 604.7h0M791.9 604.2h0M804.2 603.7h0M818.6 604.2h0M831.4 604.2h0M844.5 604.5h0M856.4 603.9h0M870.2 603.7h0M882.9 604.6h0M135.5 613.2h0M148.8 613.0h0M161.2 613.0h0M174.6 613.7h0M187.8 613.1h0M200.9 613.9h0M213.3 612.6h0M226.8 612.8h0M239.4 612.6h0M253.0 612.7h0M265.7 613.2h0M278.4 612.5h0M291.3 612.7h0M305.0 612.8h0M318.2 613.2h0M330.1 613.0h0M343.1 613.1h0M356.1 613.4h0M369.4 613.0h0M382.8 613.3h0M396.1 613.4h0M408.9 612.5h0M421.5 612.7h0M434.1 613.6h0M447.5 613.3h0M460.5 613.4h0M472.8 612.4h0M486.4 612.2h0M498.9 613.7h0M512.6 613.0h0M525.5 613.0h0M538.4 613.4h0M552.4 612.3h0M564.7 612.9h0M577.4 613.7h0M591.1 613.8h0M603.9 613.1h0M616.5 613.0h0M629.4 612.9h0M642.7 613.1h0M655.1 613.4h0M668.1 612.8h0M681.4 611.4h0M694.2 612.4h0M707.2 613.0h0M720.7 613.4h0M734.2 613.4h0M747.0 613.2h0M759.6 612.4h0M772.3 613.1h0M783.9 612.9h0M798.3 613.0h0M811.5 612.8h0M824.2 612.4h0M837.9 613.0h0M850.3 612.3h0M863.7 612.9h0M876.9 612.3h0M889.6 613.5h0M129.0 621.8h0M141.8 621.9h0M155.3 621.7h0M167.5 621.5h0M181.5 622.4h0M194.3 622.1h0M207.0 621.9h0M220.3 621.5h0M233.3 621.6h0M246.4 622.2h0M258.9 622.6h0M271.6 621.7h0M285.3 622.3h0M297.8 622.3h0M311.0 622.2h0M324.0 622.2h0M336.8 622.6h0M350.2 621.7h0M363.3 622.6h0M375.9 622.5h0M389.1 621.9h0M402.7 622.2h0M415.3 622.1h0M427.3 621.7h0M441.5 622.3h0M453.2 622.4h0M467.3 622.5h0M479.6 621.3h0M493.1 621.8h0M506.3 622.0h0M519.2 621.7h0M531.7 622.3h0M545.4 622.3h0M558.1 622.0h0M570.5 622.1h0M584.3 622.1h0M597.2 621.6h0M610.1 622.5h0M622.8 622.2h0M636.4 621.9h0M649.3 621.2h0M662.1 621.4h0M674.7 622.0h0M688.1 622.3h0M700.9 621.8h0M713.9 622.3h0M726.9 621.8h0M740.3 622.4h0M753.1 622.3h0M765.8 621.8h0M778.4 621.9h0M792.5 621.8h0M804.6 622.3h0M817.9 621.6h0M830.3 622.2h0M844.2 621.9h0M857.2 621.9h0M869.8 621.9h0M882.3 621.9h0M136.3 631.0h0M149.0 631.2h0M161.4 630.6h0M174.3 631.3h0M187.0 631.4h0M200.8 631.1h0M214.2 630.6h0M226.3 630.8h0M239.7 631.7h0M252.8 631.0h0M266.1 631.1h0M278.8 630.4h0M291.8 630.5h0M304.1 631.3h0M318.4 631.0h0M331.0 631.2h0M343.5 631.7h0M355.8 631.2h0M369.3 630.1h0M382.6 630.4h0M395.5 631.1h0M409.0 631.7h0M421.8 631.2h0M434.6 631.4h0M447.5 630.7h0M460.8 631.0h0M473.4 630.9h0M487.3 631.0h0M498.5 631.6h0M512.6 631.4h0M525.5 631.3h0M538.3 631.2h0M551.0 630.7h0M563.8 631.1h0M577.7 630.3h0M590.0 631.3h0M603.5 631.0h0M616.2 631.6h0M629.8 631.7h0M643.4 631.4h0M655.9 630.8h0M668.5 631.0h0M681.6 630.5h0M694.7 630.6h0M707.2 630.8h0M720.6 631.9h0M733.6 631.0h0M746.3 631.5h0M759.9 631.3h0M772.7 631.9h0M785.1 630.6h0M799.1 631.6h0M811.4 630.8h0M824.1 631.4h0M837.3 630.9h0M849.5 631.3h0M864.0 630.9h0M876.5 631.1h0M888.9 630.2h0M128.7 640.0h0M142.5 640.1h0M155.7 640.2h0M168.0 640.4h0M180.8 639.4h0M194.1 639.9h0M207.1 640.6h0M220.4 640.3h0M233.0 640.4h0M245.7 640.2h0M259.1 639.9h0M273.0 640.0h0M285.2 640.2h0M297.8 639.9h0M311.0 640.7h0M324.5 639.8h0M336.5 640.4h0M349.6 641.2h0M363.7 639.9h0M376.5 640.1h0M389.2 640.7h0M402.0 640.2h0M414.8 639.5h0M428.6 640.4h0M440.8 639.6h0M453.7 639.9h0M467.3 639.8h0M479.7 639.7h0M492.7 640.2h0M506.1 640.7h0M519.1 640.5h0M532.1 640.4h0M544.6 639.9h0M557.0 640.0h0M571.0 639.1h0M584.4 640.0h0M597.2 640.4h0M609.9 640.0h0M622.3 640.3h0M635.9 640.2h0M649.4 640.3h0M662.0 640.3h0M674.6 640.0h0M688.2 640.3h0M701.1 639.5h0M714.1 640.3h0M727.5 639.8h0M740.2 640.0h0M752.5 640.0h0M765.7 639.6h0M778.9 639.7h0M792.2 639.5h0M804.2 640.1h0M818.2 640.0h0M831.3 639.8h0M844.2 640.6h0M856.2 640.2h0M869.8 640.2h0M882.7 640.3h0M135.6 649.6h0M148.5 648.8h0M161.6 648.9h0M174.4 648.2h0M186.7 649.3h0M200.9 649.1h0M213.5 649.1h0M226.3 649.5h0M239.4 648.4h0M252.4 648.7h0M265.5 648.8h0M278.6 648.9h0M291.4 648.8h0M304.8 649.6h0M317.5 649.1h0M330.4 649.5h0M343.0 648.9h0M356.5 649.6h0M369.5 648.7h0M381.7 648.3h0M395.9 649.5h0M408.3 649.3h0M422.3 648.8h0M434.5 649.2h0M447.7 648.7h0M460.3 649.2h0M472.8 648.7h0M486.4 649.3h0M499.2 648.9h0M512.4 649.0h0M525.4 649.5h0M538.7 649.1h0M552.0 649.2h0M564.5 649.4h0M578.3 648.9h0M590.7 648.5h0M603.9 648.7h0M615.8 649.1h0M629.1 649.4h0M643.2 649.3h0M655.8 649.0h0M668.4 649.2h0M681.2 648.9h0M694.9 648.1h0M707.9 648.9h0M720.0 648.7h0M733.0 648.9h0M746.6 648.5h0M759.5 649.1h0M772.2 648.8h0M785.5 649.5h0M799.0 649.4h0M811.5 648.5h0M824.5 649.4h0M837.4 649.1h0M849.7 649.2h0M863.3 649.4h0M876.5 649.3h0M890.1 648.8h0M129.0 658.6h0M142.0 658.1h0M154.5 657.4h0M168.4 658.1h0M181.7 658.2h0M194.4 658.1h0M206.8 657.8h0M220.4 658.0h0M232.8 657.9h0M245.8 657.3h0M258.9 658.2h0M272.6 657.6h0M284.5 658.7h0M298.0 658.0h0M311.8 657.5h0M324.4 658.3h0M336.2 657.7h0M350.4 658.8h0M362.9 658.3h0M375.2 657.7h0M389.1 657.7h0M401.8 658.7h0M414.6 658.5h0M428.5 658.3h0M441.0 658.1h0M454.2 658.6h0M466.8 657.9h0M480.0 658.1h0M493.0 657.3h0M506.1 658.2h0M518.7 657.4h0M532.1 657.6h0M545.1 657.7h0M558.7 658.6h0M570.6 658.2h0M583.6 658.1h0M597.3 657.6h0M610.5 657.8h0M622.6 658.8h0M636.4 658.0h0M649.2 658.1h0M661.9 658.2h0M675.2 657.2h0M688.7 658.6h0M700.7 656.9h0M714.1 657.7h0M726.2 657.7h0M740.2 658.7h0M753.0 658.2h0M766.2 658.0h0M779.3 658.3h0M792.2 657.7h0M805.0 658.2h0M818.7 658.1h0M831.0 658.5h0M844.6 657.8h0M856.8 657.6h0M869.3 657.5h0M883.2 658.4h0M135.2 667.5h0M148.3 666.7h0M161.5 666.8h0M174.9 667.1h0M187.7 667.5h0M200.6 667.1h0M213.5 666.9h0M227.2 666.5h0M239.2 666.6h0M252.6 667.0h0M265.4 666.9h0M279.0 666.4h0M291.8 666.6h0M304.0 667.7h0M317.7 667.1h0M329.8 667.1h0M343.7 667.3h0M356.2 666.6h0M369.6 666.8h0M382.6 666.6h0M395.7 665.8h0M408.6 666.1h0M421.6 666.4h0M434.9 666.8h0M448.1 667.3h0M460.4 667.3h0M474.1 666.8h0M486.6 666.7h0M499.3 668.1h0M512.8 667.0h0M525.2 667.4h0M538.4 667.3h0M551.7 667.0h0M564.6 667.7h0M577.1 667.3h0M590.7 667.1h0M603.3 666.8h0M616.1 666.4h0M629.5 666.4h0M642.8 667.4h0M656.0 666.5h0M667.8 667.1h0M681.1 667.1h0M694.7 666.9h0M707.4 666.7h0M720.9 666.7h0M732.8 666.9h0M746.4 667.7h0M759.5 666.4h0M772.9 667.6h0M786.1 667.2h0M798.5 666.5h0M810.8 666.9h0M824.8 666.8h0M837.3 666.4h0M850.9 667.3h0M863.5 667.4h0M876.4 666.8h0M889.5 666.5h0M129.3 675.5h0M142.1 676.4h0M155.0 676.3h0M168.0 676.3h0M180.5 676.2h0M193.9 676.0h0M206.4 676.2h0M220.0 675.7h0M232.9 676.1h0M246.0 676.6h0M259.4 676.7h0M271.9 676.1h0M285.0 676.5h0M297.0 676.2h0M311.0 676.3h0M324.6 676.0h0M337.9 675.3h0M350.4 675.5h0M363.7 676.1h0M376.2 676.4h0M388.5 676.2h0M401.8 675.2h0M414.7 676.0h0M427.9 676.1h0M440.8 675.7h0M453.9 676.3h0M466.6 676.4h0M480.1 676.2h0M493.4 676.4h0M506.4 675.6h0M519.0 675.3h0M532.1 675.7h0M545.2 676.0h0M557.6 676.0h0M570.5 676.1h0M583.5 676.3h0M596.6 676.3h0M610.3 676.0h0M623.6 675.9h0M635.9 676.0h0M648.9 675.7h0M662.2 676.6h0M675.4 676.1h0M688.0 676.1h0M700.8 677.1h0M714.1 675.4h0M727.1 676.3h0M739.8 676.7h0M753.6 675.7h0M766.0 675.4h0M779.0 675.5h0M792.0 676.3h0M804.9 676.2h0M818.1 675.4h0M831.4 676.4h0M843.8 675.6h0M857.2 676.2h0M869.8 676.0h0M883.5 675.8h0M135.8 684.8h0M148.5 684.6h0M161.3 685.2h0M174.3 685.1h0M188.7 685.3h0M200.9 685.4h0M213.6 684.3h0M226.8 684.7h0M239.5 685.0h0M252.6 684.7h0M264.9 685.3h0M278.5 684.7h0M291.3 685.7h0M304.5 684.7h0M316.6 684.9h0M331.4 684.9h0M343.3 684.9h0M356.1 684.5h0M369.9 684.6h0M382.6 685.1h0M396.3 684.6h0M408.7 684.5h0M421.4 684.9h0M433.2 685.5h0M447.8 685.0h0M460.2 685.3h0M473.5 684.6h0M486.8 685.3h0M499.7 685.2h0M512.9 685.3h0M526.0 684.7h0M538.7 685.0h0M551.5 685.5h0M564.3 685.0h0M577.6 685.1h0M590.6 685.2h0M603.9 684.7h0M617.4 684.7h0M629.4 684.9h0M643.0 684.9h0M656.1 685.2h0M668.2 685.2h0M680.7 684.7h0M695.3 684.8h0M707.0 684.2h0M721.3 684.9h0M733.1 684.9h0M746.2 684.6h0M759.2 684.4h0M772.9 685.2h0M785.7 684.9h0M799.1 684.8h0M811.4 684.9h0M823.8 684.4h0M837.5 684.9h0M850.8 685.5h0M862.8 685.7h0M875.6 684.4h0M890.0 685.1h0M129.1 694.1h0M142.2 693.9h0M154.7 694.7h0M168.3 693.6h0M180.1 694.2h0M194.5 694.4h0M207.3 693.7h0M220.2 693.8h0M233.2 693.6h0M245.5 694.3h0M258.7 693.4h0M272.1 694.0h0M284.7 694.8h0M297.9 694.0h0M311.4 693.3h0M323.6 693.8h0M336.1 694.3h0M350.1 694.2h0M362.9 694.2h0M376.0 693.5h0M389.0 694.8h0M402.1 693.9h0M415.9 694.1h0M428.1 694.3h0M441.0 694.0h0M453.5 694.7h0M467.2 693.6h0M480.0 693.3h0M493.5 693.8h0M506.0 694.2h0M519.0 694.1h0M531.9 693.2h0M545.1 693.4h0M558.6 693.3h0M570.8 694.7h0M583.9 694.3h0M596.7 693.9h0M610.6 693.9h0M623.3 693.8h0M635.8 694.4h0M649.0 693.8h0M661.7 693.7h0M675.3 693.9h0M688.4 694.0h0M700.8 694.4h0M714.2 694.1h0M726.5 693.8h0M740.1 693.9h0M752.8 694.1h0M765.3 694.5h0M778.8 694.2h0M792.5 694.2h0M805.0 693.2h0M817.9 694.2h0M831.1 694.7h0M844.3 694.7h0M857.2 694.1h0M869.5 693.9h0M882.7 693.8h0M135.4 702.8h0M147.8 703.2h0M161.4 703.0h0M174.7 703.6h0M187.4 702.8h0M200.2 702.3h0M213.6 704.0h0M225.9 702.8h0M239.9 702.4h0M252.0 703.1h0M265.7 702.8h0M278.2 702.9h0M291.5 702.8h0M304.2 703.2h0M317.1 702.4h0M330.9 702.6h0M343.6 702.9h0M356.7 703.2h0M369.9 703.2h0M381.6 703.2h0M395.7 703.7h0M408.3 702.5h0M421.7 703.5h0M434.2 703.1h0M448.3 702.5h0M460.7 703.2h0M473.9 703.2h0M486.0 703.2h0M499.4 702.7h0M512.3 703.7h0M526.1 702.5h0M539.2 702.9h0M551.2 703.0h0M564.8 702.5h0M578.1 703.1h0M590.5 702.5h0M603.4 702.8h0M616.1 703.1h0M629.6 703.5h0M641.5 702.4h0M655.7 702.7h0M668.1 702.9h0M681.8 703.2h0M695.2 703.3h0M707.8 702.9h0M720.9 703.6h0M733.4 703.2h0M745.7 702.7h0M759.5 702.8h0M772.3 703.1h0M785.6 702.8h0M797.8 703.1h0M811.3 702.8h0M824.9 702.7h0M837.6 702.6h0M850.3 703.4h0M863.4 702.8h0M876.3 703.4h0M889.1 703.1h0M128.9 711.9h0M142.0 712.6h0M155.3 712.2h0M168.0 712.6h0M181.1 711.9h0M193.3 711.6h0M206.6 711.2h0M220.6 712.5h0M232.9 712.3h0M245.6 711.7h0M259.0 711.5h0M270.7 711.3h0M285.6 712.2h0M297.3 712.7h0M311.7 711.6h0M324.3 712.5h0M336.6 712.0h0M350.0 712.1h0M363.2 711.3h0M376.2 712.4h0M388.6 712.3h0M402.6 711.6h0M415.7 711.8h0M427.9 711.7h0M440.9 711.5h0M454.0 712.1h0M467.0 712.0h0M480.0 712.0h0M493.2 712.0h0M505.5 711.5h0M518.8 712.3h0M532.3 712.6h0M545.5 712.2h0M558.0 712.3h0M570.7 711.7h0M584.7 711.7h0M597.5 711.7h0M610.2 711.4h0M622.4 711.9h0M636.0 711.5h0M649.2 712.0h0M662.2 711.9h0M675.3 711.1h0M687.9 712.1h0M700.7 712.1h0M713.3 712.6h0M727.1 711.9h0M739.6 712.0h0M752.4 711.6h0M766.6 712.2h0M779.2 712.0h0M791.5 711.6h0M805.0 712.6h0M817.6 712.5h0M831.6 712.3h0M844.0 711.4h0M857.1 712.1h0M869.3 711.2h0M882.7 711.1h0M135.5 721.7h0M149.0 720.9h0M161.8 721.5h0M175.0 722.0h0M187.6 721.4h0M201.1 720.9h0M214.0 720.9h0M227.0 721.2h0M240.2 721.1h0M252.3 721.2h0M265.7 721.4h0M278.5 720.5h0M291.2 721.0h0M303.8 721.5h0M317.4 720.9h0M330.6 720.0h0M343.6 721.4h0M356.4 721.5h0M370.5 721.1h0M382.7 720.8h0M395.6 721.0h0M409.4 721.0h0M421.2 720.7h0M434.9 721.2h0M448.2 720.9h0M460.1 720.7h0M473.1 720.2h0M486.3 720.7h0M499.6 721.1h0M512.4 719.8h0M525.4 721.2h0M539.0 721.4h0M551.3 720.8h0M564.3 722.0h0M577.6 721.2h0M591.3 720.9h0M603.1 720.6h0M616.1 721.0h0M629.8 721.5h0M643.1 721.8h0M655.7 721.0h0M668.5 721.6h0M681.6 720.9h0M694.3 721.7h0M707.9 721.3h0M721.2 720.3h0M733.9 720.4h0M746.1 721.1h0M760.0 720.4h0M772.5 721.3h0M785.8 721.2h0M797.4 720.6h0M811.3 721.4h0M825.4 720.9h0M837.6 720.7h0M850.5 720.9h0M863.1 720.7h0M876.1 720.2h0M889.7 720.9h0" stroke="#081420" stroke-width="2.2" stroke-linecap="round" fill="none" opacity="0.9"/>
<path d="M227.8 61V100" stroke="#000" stroke-width="1.2" opacity="0.8"/>
<path d="M189.5 115V335" stroke="#7cc472" stroke-width="1.6" opacity="0.9"/>
<polygon points="128.0,718.0 128.0,565.0 130.4,565.3 134.0,575.0 138.0,589.8 140.8,559.8 143.0,575.0 146.3,593.9 149.0,554.0 150.2,420.0 151.7,258.8 154.0,330.0 156.8,409.0 159.7,317.2 161.3,354.5 163.4,340.0 165.7,249.0 168.5,222.0 171.7,204.5 175.0,190.0 177.5,185.6 180.0,190.0 182.4,204.5 184.6,249.0 186.8,340.0 188.9,426.7 192.9,430.7 198.2,346.5 200.8,402.0 205.7,317.8 208.5,167.6 210.0,320.0 211.7,426.7 217.6,357.4 220.6,383.2 224.7,340.0 227.8,95.0 229.5,300.0 231.9,361.4 234.5,300.0 238.0,213.5 239.4,300.0 241.4,359.4 243.4,418.8 246.3,460.0 251.4,510.0 255.0,524.0 258.0,528.6 261.0,524.0 264.3,500.0 267.0,420.0 268.6,330.0 271.3,223.2 274.6,393.5 277.3,358.0 280.0,404.4 281.7,128.0 283.6,330.0 285.0,450.0 286.1,600.0 289.0,680.0 292.9,717.8 298.3,685.0 301.9,703.0 305.0,688.0 309.0,701.5 313.0,690.6 318.0,715.0 321.8,690.7 323.8,375.0 325.7,589.7 329.7,687.7 331.0,688.0 332.7,689.7 338.6,648.1 342.6,674.9 353.5,641.2 358.4,653.0 361.4,718.0 365.3,674.9 376.2,615.4 380.2,655.0 384.2,623.4 388.1,665.0 397.0,639.2 401.0,680.8 404.0,616.4 407.9,656.0 411.9,649.1 423.8,587.7 426.7,614.5 430.7,616.4 441.6,640.2 445.5,627.3 449.5,642.2 453.3,612.0 455.5,632.4 457.6,568.0 461.9,563.2 466.8,628.5 471.8,609.7 476.7,636.4 481.7,550.3 486.6,619.6 490.6,618.6 497.1,608.7 501.9,585.0 507.4,578.0 512.4,561.2 517.3,570.1 522.3,544.4 527.2,537.4 531.6,540.4 537.1,508.7 542.1,537.8 547.0,532.5 552.0,515.2 557.2,532.5 562.3,470.0 567.3,529.5 572.6,509.0 574.5,400.0 576.6,237.8 578.5,330.0 580.6,380.0 583.6,528.5 591.9,395.8 595.8,436.4 600.4,430.5 604.4,485.9 609.3,410.7 615.2,432.5 623.2,443.4 629.1,435.4 637.0,402.8 642.0,415.6 647.0,373.5 650.0,387.0 652.5,375.0 655.8,332.9 659.8,325.0 664.4,332.9 666.7,380.0 671.7,424.6 675.6,366.5 679.6,436.4 683.6,406.7 688.5,419.6 695.0,423.8 698.9,418.8 707.8,450.5 710.8,451.1 714.8,464.4 718.7,452.5 722.1,458.4 726.6,447.5 731.6,469.3 736.5,479.2 739.9,400.0 741.5,375.0 743.9,400.0 747.4,473.3 751.8,492.1 757.3,471.3 762.3,484.2 767.2,471.3 771.6,556.4 777.1,437.6 782.1,490.1 792.0,429.7 797.9,463.4 806.8,494.7 812.4,459.4 817.1,490.1 820.0,476.0 826.4,472.9 831.3,492.2 837.7,497.0 844.1,489.0 847.3,476.0 852.2,511.5 857.0,524.4 861.8,509.9 867.6,532.4 879.5,508.3 882.7,479.3 883.7,492.2 884.3,711.0 886.5,572.0 887.5,297.0 891.5,297.0 891.5,718.0" fill="#808080" stroke="#111" stroke-width="1.1" stroke-linejoin="miter"/>
</g>
<path d="M128 61V719H891.5M128 61.3H891.5" stroke="#262626" stroke-width="1.3" fill="none"/>
<path d="M129 61V565" stroke="#000" stroke-width="2.6" opacity="0.9"/><path d="M131.8 61V565M888.5 61V297" stroke="#000" stroke-width="2" stroke-dasharray="2 2" opacity="0.8"/>
<rect x="907.5" y="686.70" width="38.50" height="33.10" fill="#29186b"/>
<rect x="907.5" y="653.90" width="38.50" height="33.10" fill="#2a1e8a"/>
<rect x="907.5" y="621.10" width="38.50" height="33.10" fill="#26299f"/>
<rect x="907.5" y="588.30" width="38.50" height="33.10" fill="#163e9b"/>
<rect x="907.5" y="555.50" width="38.50" height="33.10" fill="#104f96"/>
<rect x="907.5" y="522.70" width="38.50" height="33.10" fill="#125c8f"/>
<rect x="907.5" y="489.90" width="38.50" height="33.10" fill="#1b698c"/>
<rect x="907.5" y="457.10" width="38.50" height="33.10" fill="#277589"/>
<rect x="907.5" y="424.30" width="38.50" height="33.10" fill="#2f8188"/>
<rect x="907.5" y="391.50" width="38.50" height="33.10" fill="#388c87"/>
<rect x="907.5" y="358.70" width="38.50" height="33.10" fill="#3e9986"/>
<rect x="907.5" y="325.90" width="38.50" height="33.10" fill="#47a582"/>
<rect x="907.5" y="293.10" width="38.50" height="33.10" fill="#50b17c"/>
<rect x="907.5" y="260.30" width="38.50" height="33.10" fill="#61bd73"/>
<rect x="907.5" y="227.50" width="38.50" height="33.10" fill="#74c869"/>
<rect x="907.5" y="194.70" width="38.50" height="33.10" fill="#91d160"/>
<rect x="907.5" y="161.90" width="38.50" height="33.10" fill="#aed961"/>
<rect x="907.5" y="129.10" width="38.50" height="33.10" fill="#ccdf6d"/>
<rect x="907.5" y="96.30" width="38.50" height="33.10" fill="#e5e681"/>
<rect x="907.5" y="63.50" width="38.50" height="33.10" fill="#fdee99"/>
<rect x="907.5" y="63.5" width="38.5" height="656" fill="none" stroke="#262626" stroke-width="1"/>
<path d="M128 61.0h7M891.5 61.0h-7M128 170.5h7M891.5 170.5h-7M128 280.0h7M891.5 280.0h-7M128 389.6h7M891.5 389.6h-7M128 499.1h7M891.5 499.1h-7M128 608.6h7M891.5 608.6h-7M128 718.1h7M891.5 718.1h-7M164.7 718.5v-7M277.7 718.5v-7M390.7 718.5v-7M503.7 718.5v-7M616.7 718.5v-7M729.7 718.5v-7M842.7 718.5v-7M946.0 719.5h-6M946.0 659.9h-6M946.0 600.2h-6M946.0 540.6h-6M946.0 481.0h-6M946.0 421.3h-6M946.0 361.7h-6M946.0 302.0h-6M946.0 242.4h-6M946.0 182.8h-6M946.0 123.1h-6M946.0 63.5h-6" stroke="#262626" stroke-width="1" fill="none"/>
<text x="119.5" y="66.6" text-anchor="end" class="t">0</text>
<text x="119.5" y="176.1" text-anchor="end" class="t">-1000</text>
<text x="119.5" y="285.6" text-anchor="end" class="t">-2000</text>
<text x="119.5" y="395.2" text-anchor="end" class="t">-3000</text>
<text x="119.5" y="504.7" text-anchor="end" class="t">-4000</text>
<text x="119.5" y="614.2" text-anchor="end" class="t">-5000</text>
<text x="119.5" y="723.7" text-anchor="end" class="t">-6000</text>
<text x="164.7" y="743" text-anchor="middle" class="t">-200</text>
<text x="277.7" y="743" text-anchor="middle" class="t">-180</text>
<text x="390.7" y="743" text-anchor="middle" class="t">-160</text>
<text x="503.7" y="743" text-anchor="middle" class="t">-140</text>
<text x="616.7" y="743" text-anchor="middle" class="t">-120</text>
<text x="729.7" y="743" text-anchor="middle" class="t">-100</text>
<text x="842.7" y="743" text-anchor="middle" class="t">-80</text>
<text x="953.5" y="724.4" class="t" style="font-size:17px">2200</text>
<text x="953.5" y="664.8" class="t" style="font-size:17px">2220</text>
<text x="953.5" y="605.1" class="t" style="font-size:17px">2240</text>
<text x="953.5" y="545.5" class="t" style="font-size:17px">2260</text>
<text x="953.5" y="485.9" class="t" style="font-size:17px">2280</text>
<text x="953.5" y="426.2" class="t" style="font-size:17px">2300</text>
<text x="953.5" y="366.6" class="t" style="font-size:17px">2320</text>
<text x="953.5" y="306.9" class="t" style="font-size:17px">2340</text>
<text x="953.5" y="247.3" class="t" style="font-size:17px">2360</text>
<text x="953.5" y="187.7" class="t" style="font-size:17px">2380</text>
<text x="953.5" y="128.0" class="t" style="font-size:17px">2400</text>
<text x="953.5" y="68.4" class="t" style="font-size:17px">2420</text>
<text x="508.5" y="25" text-anchor="middle" class="b" style="font-size:26.3px">Alkalinity (<tspan style="font-family:'Liberation Serif',serif;font-style:italic;font-weight:normal;font-size:29px">&#956;</tspan>mol/kg)</text>
<text x="509" y="767.5" text-anchor="middle" class="b">Longitude [W]</text>
<text transform="translate(59.5 390) rotate(-90)" text-anchor="middle" class="b">Depth (m)</text>
</svg>
</body></html>
